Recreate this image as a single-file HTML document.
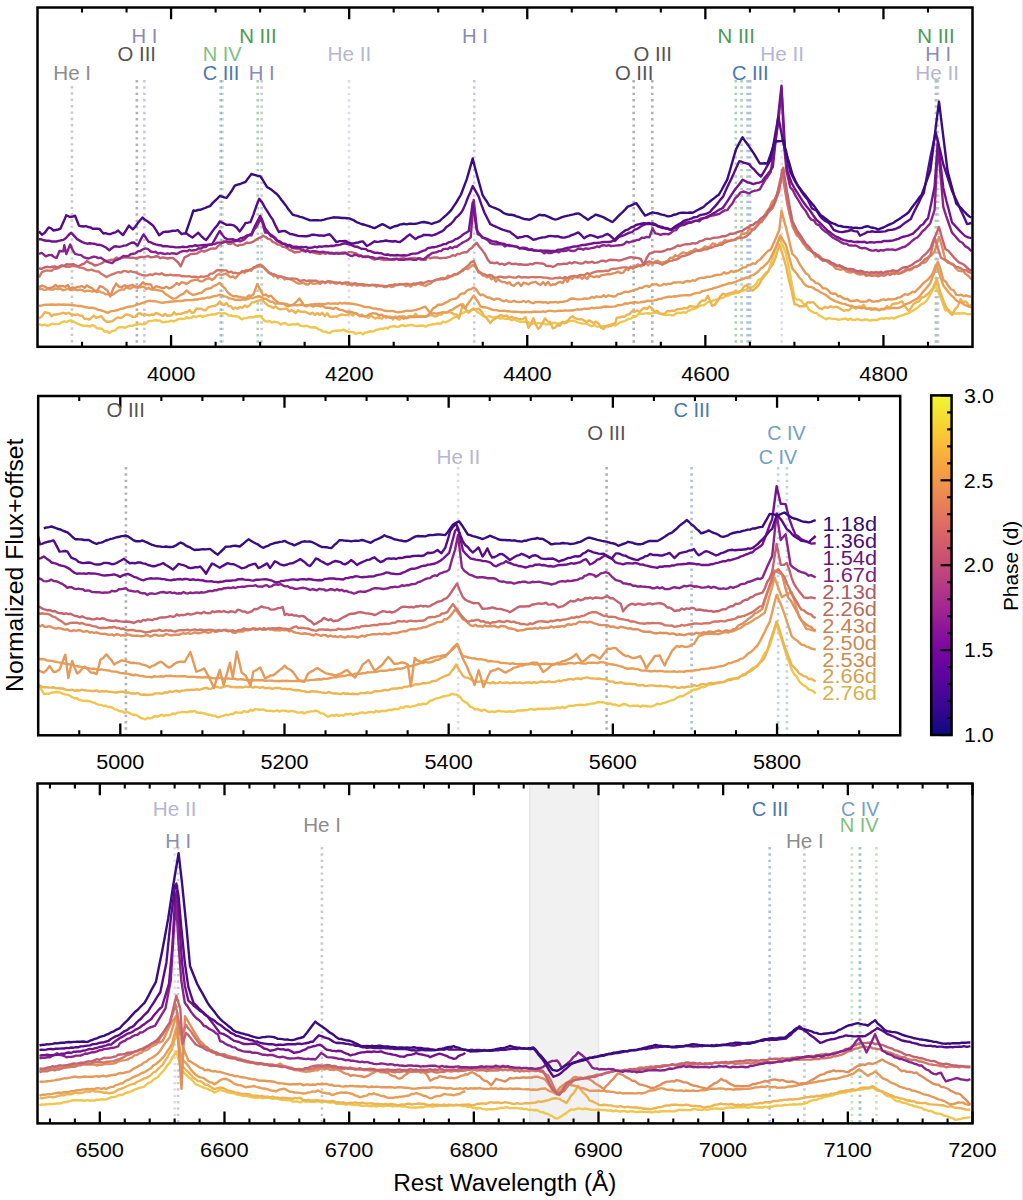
<!DOCTYPE html>
<html><head><meta charset="utf-8"><style>
html,body{margin:0;padding:0;background:#fff;}
svg{display:block;font-family:"Liberation Sans",sans-serif;}
</style></head><body>
<svg width="1023" height="1200" viewBox="0 0 1023 1200">
<rect x="0" y="0" width="1023" height="1200" fill="#fff"/>
<rect x="1022" y="0" width="1" height="1200" fill="#ededed"/>
<rect x="529.9" y="783.5" width="68.6" height="339.9" fill="#f1f1f1" stroke="#e6e6e6" stroke-width="1.6"/>
<line x1="71.92" y1="86.0" x2="71.92" y2="346.8" stroke="#8c8c8c" stroke-width="2.6" stroke-dasharray="2.4 3.95" opacity="0.45"/>
<line x1="136.87" y1="80.0" x2="136.87" y2="346.8" stroke="#555555" stroke-width="2.6" stroke-dasharray="2.4 3.95" opacity="0.45"/>
<line x1="144.42" y1="80.0" x2="144.42" y2="346.8" stroke="#8a8ab6" stroke-width="2.6" stroke-dasharray="2.4 3.95" opacity="0.45"/>
<line x1="222.51" y1="80.0" x2="222.51" y2="346.8" stroke="#80c07c" stroke-width="2.6" stroke-dasharray="2.4 3.95" opacity="0.45"/>
<line x1="220.76" y1="80.0" x2="220.76" y2="346.8" stroke="#4878b0" stroke-width="2.6" stroke-dasharray="2.4 3.95" opacity="0.45"/>
<line x1="257.74" y1="80.0" x2="257.74" y2="346.8" stroke="#4a9a52" stroke-width="2.6" stroke-dasharray="2.4 3.95" opacity="0.45"/>
<line x1="261.67" y1="80.0" x2="261.67" y2="346.8" stroke="#8a8ab6" stroke-width="2.6" stroke-dasharray="2.4 3.95" opacity="0.45"/>
<line x1="349.02" y1="80.0" x2="349.02" y2="346.8" stroke="#b6b6d2" stroke-width="2.6" stroke-dasharray="2.4 3.95" opacity="0.45"/>
<line x1="474.25" y1="80.0" x2="474.25" y2="346.8" stroke="#8a8ab6" stroke-width="2.6" stroke-dasharray="2.4 3.95" opacity="0.45"/>
<line x1="633.67" y1="80.0" x2="633.67" y2="346.8" stroke="#555555" stroke-width="2.6" stroke-dasharray="2.4 3.95" opacity="0.45"/>
<line x1="652.28" y1="80.0" x2="652.28" y2="346.8" stroke="#555555" stroke-width="2.6" stroke-dasharray="2.4 3.95" opacity="0.45"/>
<line x1="735.76" y1="80.0" x2="735.76" y2="346.8" stroke="#4a9a52" stroke-width="2.6" stroke-dasharray="2.4 3.95" opacity="0.45"/>
<line x1="741.55" y1="80.0" x2="741.55" y2="346.8" stroke="#4a9a52" stroke-width="2.6" stroke-dasharray="2.4 3.95" opacity="0.45"/>
<line x1="747.58" y1="80.0" x2="747.58" y2="346.8" stroke="#4878b0" stroke-width="2.6" stroke-dasharray="2.4 3.95" opacity="0.45"/>
<line x1="750.10" y1="80.0" x2="750.10" y2="346.8" stroke="#4878b0" stroke-width="2.6" stroke-dasharray="2.4 3.95" opacity="0.45"/>
<line x1="781.68" y1="80.0" x2="781.68" y2="346.8" stroke="#b6b6d2" stroke-width="2.6" stroke-dasharray="2.4 3.95" opacity="0.45"/>
<line x1="935.83" y1="80.0" x2="935.83" y2="346.8" stroke="#4a9a52" stroke-width="2.6" stroke-dasharray="2.4 3.95" opacity="0.45"/>
<line x1="938.07" y1="80.0" x2="938.07" y2="346.8" stroke="#8a8ab6" stroke-width="2.6" stroke-dasharray="2.4 3.95" opacity="0.45"/>
<line x1="936.28" y1="80.0" x2="936.28" y2="346.8" stroke="#b6b6d2" stroke-width="2.6" stroke-dasharray="2.4 3.95" opacity="0.45"/>
<line x1="125.91" y1="467.0" x2="125.91" y2="735.3" stroke="#555555" stroke-width="2.6" stroke-dasharray="2.4 3.95" opacity="0.45"/>
<line x1="458.13" y1="467.0" x2="458.13" y2="735.3" stroke="#b6b6d2" stroke-width="2.6" stroke-dasharray="2.4 3.95" opacity="0.45"/>
<line x1="606.60" y1="467.0" x2="606.60" y2="735.3" stroke="#555555" stroke-width="2.6" stroke-dasharray="2.4 3.95" opacity="0.45"/>
<line x1="691.61" y1="467.0" x2="691.61" y2="735.3" stroke="#4878b0" stroke-width="2.6" stroke-dasharray="2.4 3.95" opacity="0.45"/>
<line x1="778.15" y1="467.0" x2="778.15" y2="735.3" stroke="#74a0c4" stroke-width="2.6" stroke-dasharray="2.4 3.95" opacity="0.45"/>
<line x1="786.89" y1="467.0" x2="786.89" y2="735.3" stroke="#74a0c4" stroke-width="2.6" stroke-dasharray="2.4 3.95" opacity="0.45"/>
<line x1="174.76" y1="847.0" x2="174.76" y2="1123.4" stroke="#b6b6d2" stroke-width="2.6" stroke-dasharray="2.4 3.95" opacity="0.45"/>
<line x1="178.11" y1="847.0" x2="178.11" y2="1123.4" stroke="#8a8ab6" stroke-width="2.6" stroke-dasharray="2.4 3.95" opacity="0.45"/>
<line x1="321.93" y1="847.0" x2="321.93" y2="1123.4" stroke="#8c8c8c" stroke-width="2.6" stroke-dasharray="2.4 3.95" opacity="0.45"/>
<line x1="769.61" y1="847.0" x2="769.61" y2="1123.4" stroke="#4878b0" stroke-width="2.6" stroke-dasharray="2.4 3.95" opacity="0.45"/>
<line x1="804.44" y1="847.0" x2="804.44" y2="1123.4" stroke="#8c8c8c" stroke-width="2.6" stroke-dasharray="2.4 3.95" opacity="0.45"/>
<line x1="851.87" y1="847.0" x2="851.87" y2="1123.4" stroke="#80c07c" stroke-width="2.6" stroke-dasharray="2.4 3.95" opacity="0.45"/>
<line x1="859.49" y1="847.0" x2="859.49" y2="1123.4" stroke="#80c07c" stroke-width="2.6" stroke-dasharray="2.4 3.95" opacity="0.45"/>
<line x1="860.30" y1="847.0" x2="860.30" y2="1123.4" stroke="#74a0c4" stroke-width="2.6" stroke-dasharray="2.4 3.95" opacity="0.45"/>
<line x1="876.46" y1="847.0" x2="876.46" y2="1123.4" stroke="#80c07c" stroke-width="2.6" stroke-dasharray="2.4 3.95" opacity="0.45"/>
<defs><clipPath id="c1"><rect x="37.5" y="7.5" width="935.0" height="339.3"/></clipPath><clipPath id="c2"><rect x="38.2" y="396.0" width="862.0" height="339.29999999999995"/></clipPath><clipPath id="c3"><rect x="37.5" y="783.5" width="935.0" height="339.9000000000001"/></clipPath></defs><path d="M38.9,324.2L41.9,325.4L44.8,324.7L47.7,325.9L50.1,324.7L52.4,323.7L54.8,324.4L57.1,324.1L59.5,323.8L61.8,322.1L64.2,321.3L66.5,322.1L68.8,320.8L71.2,320.5L73.5,321.6L75.9,322.8L78.2,324.0L80.6,324.8L82.9,325.7L85.3,325.7L87.6,326.0L90.0,326.6L92.3,325.0L94.7,326.2L97.1,328.3L99.5,328.5L102.0,328.7L104.4,331.6L106.9,331.2L109.3,333.1L112.2,331.1L115.2,330.3L118.1,327.5L120.5,327.3L122.8,327.1L125.1,327.8L127.5,326.6L129.8,325.8L132.2,325.8L134.5,325.0L136.9,324.8L139.2,323.7L141.6,324.2L143.9,324.3L146.3,323.2L148.6,321.2L151.0,320.9L153.3,320.6L155.5,320.0L157.8,320.8L160.0,320.4L162.2,322.2L164.5,322.0L166.7,321.7L168.9,321.6L171.2,320.7L173.4,321.4L175.6,320.7L177.9,319.2L180.1,318.6L182.3,318.8L184.6,318.9L186.8,317.1L189.1,318.4L191.3,317.7L193.5,316.3L195.8,317.0L198.0,316.2L200.2,315.6L202.6,316.9L204.9,315.9L207.3,315.5L209.6,314.8L212.0,314.3L214.6,314.6L217.2,313.4L219.8,312.8L222.0,313.8L224.2,313.0L226.5,313.9L228.7,315.6L230.9,315.3L233.2,316.4L235.4,316.2L238.5,316.8L241.6,319.3L244.0,318.4L246.3,318.1L248.7,317.3L251.0,317.1L253.4,317.4L255.7,316.3L257.9,316.5L260.2,315.9L262.7,318.8L265.1,321.1L267.3,321.7L269.6,321.0L271.8,322.6L274.0,321.8L276.3,322.1L278.5,322.5L280.7,324.7L283.2,323.2L285.6,323.2L288.1,324.9L290.5,324.8L293.0,324.1L295.4,324.5L297.8,323.7L300.3,325.7L302.6,326.2L304.9,326.2L307.1,325.7L309.4,327.0L311.7,327.5L314.0,327.3L316.3,327.7L318.5,329.3L320.8,329.9L323.1,331.5L325.4,331.6L327.7,332.6L329.9,333.0L332.1,331.4L334.4,330.9L336.6,330.7L338.8,330.5L341.1,330.6L343.3,329.6L345.9,330.9L348.5,332.0L351.1,331.9L353.5,332.2L355.8,333.9L358.2,333.2L360.5,332.6L362.9,334.4L365.1,332.5L367.3,332.4L369.6,331.3L371.8,331.5L374.0,331.3L376.3,329.8L378.5,329.3L380.7,328.7L383.0,329.1L385.2,327.8L387.4,328.7L389.7,326.8L391.9,326.6L394.1,325.9L396.4,326.9L398.6,326.9L400.8,325.4L403.1,325.3L405.3,326.2L407.5,325.5L409.8,325.1L412.0,324.8L414.2,325.6L416.5,326.0L418.7,325.8L420.9,325.8L423.2,325.5L425.4,326.7L427.9,325.4L430.5,324.7L433.0,324.3L435.6,324.0L438.0,323.3L440.4,324.0L442.9,321.7L445.3,322.3L447.8,321.3L450.2,320.1L452.7,318.2L455.1,316.9L457.4,316.7L459.7,314.6L462.1,313.3L464.4,312.2L466.7,311.3L469.0,311.1L471.4,310.2L473.7,308.3L476.6,311.5L479.5,313.2L482.5,315.6L484.7,316.8L486.9,317.1L489.2,316.2L491.4,316.9L493.6,317.6L495.9,316.9L498.1,317.7L500.3,318.5L502.6,318.0L504.8,318.7L507.0,318.6L509.3,318.8L511.5,320.3L513.8,319.4L516.2,320.5L518.6,321.5L521.1,321.9L523.5,321.8L526.0,321.8L528.4,322.1L530.9,324.0L533.3,323.3L535.7,324.0L538.2,322.9L540.6,323.4L543.1,323.1L545.5,324.2L548.0,324.3L550.4,323.8L552.9,323.0L555.3,322.8L557.7,323.7L560.2,323.3L562.6,322.0L565.1,322.3L567.5,320.6L570.0,321.3L572.4,320.6L574.8,321.0L577.3,322.4L579.7,322.9L582.2,323.6L584.6,323.6L587.1,323.8L589.5,325.1L592.0,326.3L594.3,325.0L596.6,326.6L599.0,326.5L601.3,326.2L603.7,326.1L606.0,326.4L608.4,325.1L610.7,326.2L613.1,324.9L615.4,325.6L618.1,323.7L620.7,321.9L623.3,321.5L625.8,320.5L628.3,318.9L630.8,318.6L633.2,316.7L635.7,316.7L638.2,314.4L640.7,313.7L643.1,313.9L645.6,313.4L648.1,313.2L650.6,313.7L653.1,313.0L655.5,312.3L658.0,313.2L660.6,313.9L663.2,314.6L665.8,315.0L668.4,314.6L671.0,315.2L673.5,315.3L676.0,313.5L678.4,312.7L680.9,313.1L683.4,312.1L685.9,312.9L688.3,310.9L690.9,309.8L693.5,309.0L696.1,308.3L698.7,306.3L701.3,305.4L703.8,305.3L706.3,303.4L708.8,301.6L711.2,302.2L713.7,300.0L716.2,300.0L718.7,298.6L721.2,298.2L723.6,297.6L726.1,296.0L728.6,295.5L731.1,294.2L733.5,293.8L736.0,293.2L738.5,292.6L741.0,291.2L743.4,290.5L745.9,289.8L748.4,287.7L750.9,287.3L753.3,286.7L755.9,284.3L758.4,279.9L760.9,278.8L763.5,275.7L766.0,272.5L768.5,271.5L771.2,262.6L773.9,254.8L776.6,245.7L779.3,237.6L782.6,245.3L785.8,253.3L788.7,266.9L791.6,282.5L794.5,297.6L796.8,299.4L799.1,299.6L801.4,300.9L803.7,303.8L806.0,304.9L809.0,309.9L811.5,311.3L813.9,312.8L816.4,312.9L818.9,315.3L821.4,316.4L823.8,318.0L826.3,319.2L828.7,318.1L831.1,318.6L833.5,318.9L836.0,318.9L838.4,319.8L840.8,319.4L843.2,318.9L845.6,318.5L848.0,319.9L850.4,318.6L852.8,320.0L855.2,319.9L857.6,318.9L860.0,319.8L862.4,320.3L864.8,319.5L867.2,319.5L869.6,320.7L872.1,320.0L874.5,320.0L876.9,320.1L879.3,318.9L881.7,318.4L884.1,318.8L886.5,317.9L888.9,318.6L891.3,317.6L893.8,318.6L896.3,317.3L898.7,316.4L901.2,315.7L903.7,314.8L906.2,313.8L908.6,313.1L911.1,311.6L913.6,310.4L916.1,308.8L918.5,306.8L921.0,304.3L923.5,303.3L926.0,301.4L928.4,298.0L930.8,293.4L933.3,288.8L935.7,285.8L938.1,291.8L940.6,297.2L943.0,304.0L945.5,310.5L948.2,309.7L950.9,312.2L953.6,313.5L956.3,313.5L958.8,313.3L961.3,313.5L963.9,313.2L966.4,313.9L968.9,314.4L971.4,313.9" fill="none" stroke="#efc64e" stroke-width="2.4" stroke-linejoin="round" clip-path="url(#c1)"/>
<path d="M38.9,318.4L41.9,316.3L44.8,312.1L47.1,312.8L49.4,313.2L51.6,316.3L54.0,314.4L56.3,314.5L58.7,314.0L61.0,313.4L63.4,312.7L65.7,313.9L68.1,312.7L70.4,313.8L72.8,314.7L75.1,314.8L77.4,314.3L79.8,315.5L82.1,315.7L84.5,318.8L86.8,318.8L89.2,319.5L91.5,317.7L93.9,315.7L96.2,317.9L98.6,317.1L101.2,316.1L103.9,319.6L106.6,321.8L109.3,321.7L112.2,321.2L115.2,319.0L118.1,317.3L120.6,318.1L123.0,317.0L125.4,314.7L127.9,314.5L130.3,315.4L132.8,316.8L135.2,316.9L137.7,313.7L140.0,313.3L142.4,314.9L144.7,314.0L147.0,315.0L149.4,315.3L151.6,314.5L153.9,314.7L156.1,312.9L158.3,313.9L160.6,315.0L162.8,316.0L165.0,314.0L167.3,315.8L169.5,315.5L171.7,315.2L174.0,312.3L176.2,314.5L178.4,313.9L180.7,313.7L182.9,313.3L185.1,312.2L187.4,312.2L189.6,310.1L191.8,312.8L194.1,312.3L196.3,308.8L198.7,308.6L201.0,308.8L203.4,310.0L205.7,310.3L208.0,307.4L210.4,306.6L212.7,306.1L215.1,305.8L217.4,304.4L219.8,301.5L222.0,304.5L224.2,305.1L226.5,302.9L228.7,306.3L230.9,306.3L233.2,309.0L235.4,307.5L237.7,308.8L240.1,306.9L242.4,307.9L244.8,305.4L247.1,307.0L249.5,305.4L251.9,302.4L254.3,302.2L256.8,301.1L259.2,300.5L261.6,299.9L263.9,301.8L266.3,304.0L268.6,305.9L271.0,306.5L273.2,308.0L275.5,306.3L277.8,308.4L280.1,309.3L282.4,309.1L284.7,308.6L286.9,308.7L289.1,311.4L291.4,310.2L293.6,311.4L295.8,312.9L298.1,310.2L300.3,311.8L302.7,311.7L305.2,311.7L307.6,312.9L310.1,314.1L312.5,312.7L315.0,315.0L317.4,312.9L319.8,315.0L322.3,312.7L324.7,316.0L327.2,313.3L329.6,316.7L332.1,316.8L334.5,316.5L336.9,316.6L339.4,315.3L341.6,314.5L343.9,314.9L346.1,315.1L348.3,314.2L350.6,313.8L352.8,315.6L355.0,313.0L357.3,313.7L359.5,316.3L361.7,314.4L364.0,315.9L366.2,316.4L368.4,318.0L370.7,315.6L372.9,317.0L375.1,318.6L377.4,317.7L379.6,318.1L381.8,318.7L384.1,316.1L386.3,318.1L388.5,316.7L390.8,316.8L393.0,319.6L395.3,316.2L397.5,319.1L399.7,319.6L402.0,316.4L404.2,316.2L406.5,318.4L408.8,315.9L411.1,315.9L413.4,316.9L415.6,313.7L418.1,316.4L420.5,316.0L423.0,316.3L425.4,316.6L428.5,315.5L431.6,315.0L434.1,316.3L436.5,316.3L439.0,314.8L441.4,314.5L443.9,312.4L446.3,312.6L448.7,312.1L451.2,312.6L453.8,314.2L456.4,314.4L459.0,318.5L462.9,304.1L465.9,309.4L468.8,312.7L471.4,309.9L474.0,309.1L476.6,309.5L479.0,308.7L481.5,311.4L483.9,315.6L486.4,317.7L490.3,323.0L492.7,320.1L495.2,318.8L497.6,317.1L500.1,315.2L502.3,315.6L504.6,316.1L506.9,315.5L509.2,318.2L511.5,316.7L513.8,318.1L516.1,318.0L518.4,319.0L520.8,319.2L523.1,318.9L525.5,317.1L528.4,327.8L530.9,324.4L533.3,318.3L535.7,324.2L538.2,329.0L540.5,326.8L542.8,322.3L545.0,318.4L547.6,321.3L550.2,322.2L552.9,328.4L555.2,327.5L557.5,325.0L559.9,325.8L562.2,322.0L564.6,323.3L567.2,322.4L569.8,318.0L572.4,316.3L574.7,318.0L577.1,319.0L579.4,319.4L581.8,319.3L584.1,320.6L586.5,322.1L588.8,320.4L591.2,321.6L593.5,323.2L595.9,321.6L598.5,323.5L601.1,327.7L603.7,329.0L606.0,326.0L608.4,326.6L610.7,324.6L613.1,323.9L615.4,323.0L616.8,317.6L619.4,317.5L621.9,316.7L624.4,316.8L626.9,314.9L629.5,314.1L632.0,311.2L634.5,312.0L637.0,310.4L639.4,312.1L641.9,309.5L644.4,307.7L646.9,309.1L649.3,306.5L651.9,308.4L654.5,311.8L657.1,310.9L659.7,313.4L662.3,314.0L664.8,313.7L667.3,311.0L669.8,311.4L672.2,310.7L674.7,310.7L677.2,309.2L679.7,309.1L682.1,308.8L684.6,307.9L687.1,308.4L689.6,306.1L692.1,306.3L694.5,306.8L697.0,306.8L699.7,302.5L702.4,300.5L705.1,300.5L707.8,295.7L712.2,306.0L714.9,304.7L717.6,300.8L720.3,296.4L723.0,293.6L725.6,294.9L728.2,293.6L730.8,292.9L733.4,292.1L736.0,291.2L738.7,291.8L741.4,290.7L744.1,286.3L746.8,285.2L749.7,288.5L752.6,290.5L755.5,288.4L758.4,285.7L761.3,280.2L764.2,276.2L767.1,273.0L770.0,267.9L772.8,264.3L776.1,256.2L779.3,244.2L782.6,254.4L785.8,265.3L788.7,279.0L791.6,290.4L794.5,304.3L797.1,304.6L799.6,306.5L802.1,306.1L804.7,306.4L807.6,302.3L810.4,302.6L813.3,302.1L816.2,305.2L819.1,308.2L822.0,309.2L824.9,306.8L827.8,308.0L830.7,306.3L833.3,307.4L835.9,306.6L838.5,307.5L841.1,309.3L843.7,310.8L846.1,310.1L848.6,310.3L851.1,308.1L853.6,307.0L856.0,308.7L858.5,306.5L861.0,307.0L863.6,304.8L866.2,308.7L868.8,308.7L871.4,309.9L874.0,308.4L876.6,308.4L879.2,310.4L881.8,308.6L884.4,309.4L887.0,305.9L889.5,308.1L892.0,304.3L894.6,303.5L897.1,303.5L899.6,302.4L902.1,301.3L905.4,307.0L908.6,310.8L911.2,307.7L913.8,303.7L916.4,302.2L919.0,301.3L921.6,297.5L924.3,296.8L927.0,294.5L929.8,292.1L932.5,288.7L936.8,279.2L940.0,291.2L943.3,300.4L946.2,307.3L949.1,312.0L952.0,315.0L954.8,309.6L957.7,306.3L960.6,299.1L963.3,302.0L966.0,301.4L968.7,305.1L971.4,305.3" fill="none" stroke="#ecb452" stroke-width="2.4" stroke-linejoin="round" clip-path="url(#c1)"/>
<path d="M38.9,305.7L41.5,305.6L44.0,304.9L46.6,304.7L49.1,304.8L51.6,304.5L54.1,304.8L56.5,304.8L59.0,304.4L61.4,304.8L63.9,304.5L66.3,304.7L68.7,304.7L71.2,305.0L73.6,305.2L76.1,305.6L78.5,306.0L81.0,305.9L83.4,306.7L85.9,307.2L88.3,307.7L90.7,307.6L93.3,308.0L95.8,308.7L98.3,309.9L100.8,310.3L103.3,311.0L105.8,312.2L108.3,312.7L110.8,311.3L113.2,310.9L115.7,310.5L118.1,310.0L120.6,308.7L123.0,308.5L125.4,307.7L127.9,306.8L130.3,306.5L132.8,306.2L135.2,305.4L137.7,304.4L140.0,303.8L142.4,302.9L144.7,302.0L147.0,301.3L149.4,300.8L151.7,301.0L154.0,301.2L156.2,301.4L158.5,302.1L160.8,302.6L163.1,302.7L165.5,302.3L168.0,302.0L170.4,301.7L172.9,301.5L175.3,301.3L177.7,301.1L180.2,301.0L182.6,300.7L185.1,300.3L187.5,300.1L190.0,300.1L192.4,300.1L194.8,299.5L197.3,299.5L199.7,298.9L202.2,298.5L204.7,298.5L207.2,297.5L209.7,297.6L212.2,296.6L214.7,296.0L217.3,295.6L219.8,294.5L222.0,295.4L224.2,296.4L226.5,296.6L228.7,298.2L230.9,298.6L233.2,299.2L235.4,299.9L237.9,299.7L240.5,300.0L243.0,299.3L245.6,299.7L247.8,299.2L250.1,297.9L252.4,298.1L254.7,297.4L257.0,296.6L259.2,296.1L261.5,297.3L263.7,298.7L265.9,298.8L268.2,300.3L270.4,301.7L272.6,301.8L274.9,303.6L277.3,303.5L279.8,303.5L282.2,303.7L284.7,303.8L287.1,304.1L289.5,305.0L292.0,305.4L294.4,304.9L296.8,305.4L299.2,305.0L301.6,304.5L304.0,305.0L306.4,305.1L308.8,305.0L311.2,304.4L313.5,304.2L315.9,303.9L318.4,303.9L320.8,304.0L323.3,304.1L325.7,304.1L328.2,303.2L330.6,303.8L333.0,303.4L335.5,303.5L337.8,303.7L340.0,302.8L342.3,303.6L344.6,303.0L346.9,303.5L349.2,303.3L351.7,303.7L354.2,304.1L356.7,304.6L359.2,305.1L361.7,305.8L364.2,306.9L366.8,307.0L369.0,307.1L371.2,307.9L373.5,308.6L375.7,308.5L377.9,309.3L380.2,309.3L382.4,309.9L384.6,310.8L386.9,311.0L389.1,311.1L391.3,310.9L393.6,311.1L395.8,311.9L398.0,312.2L400.3,312.1L402.5,311.6L404.7,311.2L407.0,310.6L409.2,310.9L411.4,310.7L413.7,310.4L416.0,309.9L418.4,309.1L420.7,308.4L423.1,307.4L425.4,306.7L428.5,310.8L431.6,313.6L433.9,313.2L436.1,313.7L438.3,313.1L440.6,312.8L442.8,312.2L445.0,312.4L447.3,312.3L449.6,310.7L451.8,309.9L454.1,308.4L456.4,306.9L458.7,305.8L461.0,304.4L464.9,308.5L467.8,304.0L470.7,299.9L473.7,295.6L476.0,299.0L478.2,302.2L480.5,306.3L482.8,307.2L485.1,307.2L487.4,307.9L489.6,308.6L491.9,309.7L494.2,310.1L496.6,310.1L499.1,310.9L501.5,310.9L504.0,310.6L506.4,311.2L508.9,311.2L511.3,311.6L513.8,311.7L516.2,311.8L518.6,311.9L521.1,312.3L523.5,312.3L526.0,312.0L528.4,312.1L530.9,312.2L533.3,311.8L535.7,311.8L538.2,311.6L540.6,311.9L543.1,311.4L545.5,311.9L548.0,310.9L550.4,310.8L552.9,311.1L555.3,311.4L557.7,310.9L560.2,310.7L562.6,310.9L565.1,310.4L567.5,310.6L570.0,310.5L572.4,310.5L574.8,309.9L577.3,309.3L579.7,309.6L582.2,309.3L584.6,308.7L587.1,308.8L589.5,308.7L592.0,307.7L594.3,308.3L596.6,307.6L599.0,307.8L601.3,307.5L603.7,306.7L606.0,306.5L608.4,306.7L610.7,306.9L613.1,306.6L615.4,306.4L617.9,305.2L620.3,305.0L622.8,304.6L625.2,303.3L627.7,303.7L630.1,302.8L632.5,302.7L634.9,302.0L637.3,302.7L639.7,302.4L642.1,302.0L644.5,301.8L646.9,300.8L649.3,301.0L651.7,300.7L654.2,300.4L656.6,299.9L659.0,298.9L661.4,298.7L663.8,297.9L666.2,297.2L668.6,296.8L671.0,296.8L673.4,296.3L675.8,296.5L678.2,295.9L680.6,295.5L683.0,295.4L685.5,295.1L687.9,295.3L690.3,295.2L692.7,294.2L695.1,293.4L697.5,292.9L699.9,292.6L702.3,291.2L704.7,290.7L707.1,290.2L709.5,289.4L711.9,288.9L714.3,287.9L716.7,287.3L719.2,286.6L721.6,285.5L724.0,285.0L726.4,284.1L728.8,283.3L731.2,283.3L733.6,282.4L736.0,281.7L738.5,280.6L741.0,279.7L743.4,278.9L745.9,277.7L748.4,277.2L750.9,275.6L753.3,274.9L755.9,273.2L758.4,271.2L760.9,268.5L763.5,266.7L766.0,264.1L768.5,261.7L771.4,256.5L774.3,250.2L777.2,244.3L780.4,235.6L783.1,240.3L785.8,244.7L789.1,256.7L792.3,268.5L794.6,271.3L796.9,273.8L799.2,277.5L801.4,279.6L803.7,283.4L806.0,285.7L808.4,286.7L810.9,286.9L813.3,287.8L815.7,289.7L818.1,290.6L820.5,292.4L823.0,293.5L825.4,294.7L827.8,296.5L830.2,298.5L832.6,299.9L835.0,301.1L837.4,301.9L839.8,302.8L842.2,303.6L844.6,303.9L847.0,304.9L849.4,305.7L851.8,305.7L854.2,307.1L856.6,307.3L859.1,307.5L861.5,308.3L863.9,307.7L866.3,308.8L868.7,308.3L871.1,308.5L873.5,309.3L875.9,309.1L878.3,309.9L880.7,309.6L883.1,309.4L885.5,308.4L887.9,308.4L890.3,308.4L892.8,307.9L895.2,308.0L897.6,308.1L900.0,307.5L902.4,306.3L904.9,304.5L907.4,303.6L909.9,302.7L912.3,301.3L914.8,299.8L917.3,298.7L919.9,295.9L922.5,292.4L925.1,289.6L927.7,286.4L930.3,283.2L933.5,274.6L936.8,265.9L940.0,275.7L943.3,285.4L945.9,288.8L948.5,292.2L951.1,295.3L953.7,297.4L956.3,300.5L958.8,302.0L961.3,302.6L963.9,304.4L966.4,305.6L968.9,306.5L971.4,307.4" fill="none" stroke="#e69e59" stroke-width="2.4" stroke-linejoin="round" clip-path="url(#c1)"/>
<path d="M38.9,289.0L41.3,288.7L43.7,289.9L46.1,289.7L48.4,289.0L50.8,289.6L53.2,289.6L55.6,288.4L58.0,289.2L60.4,288.5L62.9,290.3L65.3,289.6L67.8,288.7L70.2,290.0L72.7,289.4L75.1,289.6L77.5,290.4L80.0,289.5L82.4,290.1L84.9,291.5L87.3,290.7L89.8,290.9L92.2,291.6L94.7,290.8L96.9,292.2L99.1,291.3L101.4,292.4L103.6,292.9L105.8,294.4L108.1,294.4L110.3,294.6L112.6,294.8L114.9,293.2L117.1,291.5L119.4,290.3L121.7,289.4L124.0,289.5L126.3,287.6L128.5,288.3L130.8,288.7L133.1,286.7L135.4,287.4L137.7,286.6L139.9,287.4L142.1,286.6L144.4,287.2L146.6,289.0L148.8,287.7L151.1,289.6L153.3,289.3L155.6,289.8L158.0,290.2L160.3,290.6L162.7,291.2L165.0,293.7L167.6,295.2L170.2,297.1L172.9,298.6L175.5,298.4L178.1,296.8L180.7,294.9L183.6,293.7L186.5,290.4L189.5,293.0L192.4,294.7L194.7,294.6L197.1,293.9L199.4,293.1L201.8,292.7L204.1,290.6L206.4,289.0L208.6,288.5L210.8,288.2L213.1,286.4L215.3,285.4L217.5,284.3L219.8,282.8L222.4,286.2L225.0,288.4L227.6,292.1L230.7,295.0L233.8,296.3L236.3,296.2L238.7,296.8L241.2,297.2L243.6,297.4L246.0,298.2L248.5,295.5L250.9,296.0L253.4,294.4L257.3,284.0L260.2,289.5L263.1,295.3L265.8,294.5L268.4,296.7L271.0,295.7L273.6,298.7L276.2,301.1L278.8,302.9L281.1,303.1L283.5,303.6L285.8,305.5L288.2,306.4L290.5,305.5L293.4,304.3L296.4,301.8L299.3,298.5L301.8,302.0L304.2,305.6L306.5,306.4L308.8,305.2L311.0,305.7L313.3,306.6L315.6,305.4L317.9,305.8L320.4,306.4L322.9,305.9L325.4,307.8L327.9,307.8L330.5,308.0L333.0,308.9L335.5,307.8L337.7,308.6L340.0,309.9L342.2,310.1L344.4,310.8L346.7,311.8L348.9,311.7L351.1,311.7L353.5,312.9L355.8,313.3L358.2,315.0L360.5,316.0L362.9,316.3L365.2,316.3L367.5,315.6L369.9,314.1L372.2,313.3L374.6,313.4L376.8,313.8L379.1,315.7L381.3,314.5L383.5,315.9L385.8,316.2L388.0,316.9L390.2,317.8L392.5,317.4L394.7,317.5L396.9,317.9L399.2,316.4L401.4,316.9L403.6,318.7L405.9,317.7L408.2,317.6L410.6,317.0L412.9,316.8L415.2,317.0L417.6,316.6L420.2,316.7L422.8,316.9L425.4,316.9L427.9,315.5L430.5,312.3L433.0,308.3L435.6,307.1L438.0,304.6L440.4,304.8L442.9,304.3L445.3,302.7L447.8,301.8L450.2,300.0L452.7,299.0L455.1,298.9L457.4,297.7L459.7,294.8L462.1,293.4L464.4,293.6L466.7,290.7L469.0,289.5L471.4,289.1L473.7,287.4L476.0,289.1L478.2,292.6L480.5,295.3L482.8,294.4L485.1,296.1L487.4,297.5L489.6,297.5L491.9,298.9L494.2,299.8L496.6,298.6L499.1,298.9L501.5,300.3L504.0,301.3L506.4,300.2L508.9,301.8L511.3,301.8L513.8,300.8L516.2,301.7L518.6,302.1L521.1,301.9L523.5,301.0L526.0,302.2L528.4,301.0L530.9,302.6L533.3,303.2L535.7,302.1L538.2,301.9L540.6,302.0L543.1,302.5L545.5,302.1L548.0,303.2L550.4,302.2L552.9,302.4L555.3,301.9L557.7,302.5L560.2,302.0L562.6,301.8L565.1,301.4L567.5,300.8L570.0,299.0L572.4,298.5L574.8,298.8L577.3,299.4L579.7,299.4L582.2,299.1L584.6,298.4L587.1,298.7L589.5,298.4L592.0,296.9L594.3,297.8L596.6,296.4L599.0,296.9L601.3,297.0L603.7,295.3L606.0,297.0L608.4,295.3L610.7,295.8L613.1,296.5L615.4,296.4L617.9,294.1L620.3,293.8L622.8,292.8L625.2,291.6L627.7,292.1L630.1,291.3L632.5,290.6L634.9,289.6L637.3,289.3L639.7,287.7L642.1,287.9L644.5,286.3L646.9,285.8L649.3,286.9L651.7,284.8L654.2,284.4L656.6,284.3L659.0,285.6L661.4,285.4L663.8,283.9L666.2,284.7L668.6,283.7L671.0,283.9L673.4,282.4L675.8,282.5L678.2,282.4L680.6,282.3L683.0,282.9L685.5,281.4L687.9,281.0L690.3,281.5L692.7,280.2L695.1,280.9L697.5,278.9L699.9,278.1L702.3,277.8L704.7,277.9L707.1,276.6L709.5,276.9L711.9,276.3L714.3,275.5L716.7,274.8L719.2,274.9L721.6,274.3L724.0,272.3L726.4,273.6L728.8,272.9L731.2,270.9L733.6,272.1L736.0,270.8L738.4,270.6L740.8,268.9L743.2,267.4L745.6,267.4L748.0,264.9L750.5,264.6L752.9,263.3L755.3,263.9L757.7,261.0L760.3,259.4L762.9,256.4L765.5,253.5L768.1,250.9L770.7,249.6L773.6,243.2L776.5,236.8L779.3,229.9L781.5,210.8L785.8,226.9L789.1,240.3L792.3,254.1L794.6,255.9L796.9,258.8L799.2,263.5L801.4,266.9L803.7,270.2L806.0,273.5L808.4,275.0L810.9,279.4L813.3,280.5L815.8,283.1L818.3,283.4L820.8,285.7L823.2,288.4L825.7,288.4L828.2,290.3L830.7,293.1L833.1,293.8L835.5,293.5L837.9,296.3L840.3,296.0L842.7,297.9L845.1,299.1L847.5,298.8L849.9,301.0L852.3,301.0L854.7,300.8L857.1,300.0L859.5,301.4L861.9,301.7L864.4,301.6L866.8,301.6L869.2,299.8L871.6,301.3L874.0,301.7L876.4,301.2L878.8,301.3L881.2,299.9L883.6,299.3L886.0,300.1L888.4,299.0L890.8,299.5L893.2,299.3L895.6,298.9L898.0,297.6L900.5,297.2L902.9,295.6L905.3,294.0L907.7,294.9L910.1,293.5L912.5,291.7L914.9,292.1L917.3,289.7L919.9,287.1L922.5,284.1L925.1,281.7L927.7,279.8L930.3,276.9L932.8,273.1L935.3,266.6L937.9,261.8L940.6,269.7L943.3,279.9L945.9,281.7L948.5,286.3L951.1,289.4L953.7,290.3L956.3,294.9L958.8,295.1L961.3,294.7L963.9,296.2L966.4,295.4L968.9,296.5L971.4,296.6" fill="none" stroke="#e49a5a" stroke-width="2.4" stroke-linejoin="round" clip-path="url(#c1)"/>
<path d="M38.9,287.1L41.9,285.6L44.8,286.6L47.7,288.2L50.3,288.0L52.9,287.2L55.6,285.0L58.0,286.9L60.4,285.9L62.9,286.1L65.3,286.8L67.8,285.0L70.2,288.9L72.7,287.4L75.1,288.1L77.4,286.9L79.8,286.6L82.1,286.1L84.5,287.9L86.8,285.4L89.4,287.2L92.0,288.2L94.7,290.8L97.3,290.4L99.9,286.2L102.5,286.9L105.1,288.9L107.7,290.9L110.3,296.6L113.2,288.7L116.2,283.6L119.1,286.7L122.0,287.1L124.6,285.3L127.2,286.5L129.8,285.6L132.4,284.8L135.1,286.2L137.7,287.9L140.3,285.2L142.9,282.3L145.5,284.2L148.1,284.2L150.7,284.4L153.3,289.0L155.9,286.2L158.5,286.9L161.1,287.7L163.7,288.2L166.3,286.7L168.9,288.3L171.5,287.6L174.2,285.8L176.8,283.0L179.1,284.8L181.5,282.2L183.8,282.6L186.1,284.1L188.5,282.7L190.8,280.9L193.2,280.3L195.5,279.7L197.9,279.9L200.2,281.4L202.6,281.4L204.9,279.7L207.3,278.6L209.6,278.2L212.0,279.9L214.3,278.5L216.6,275.5L219.0,274.0L221.3,275.2L223.7,274.3L226.0,273.5L228.4,275.7L230.7,277.2L233.1,276.5L235.4,278.2L237.7,275.6L240.0,273.1L242.2,270.9L244.5,272.9L246.7,270.0L249.0,270.2L251.2,270.8L253.5,267.2L255.7,267.5L258.0,266.5L260.2,266.3L263.1,267.0L266.1,270.2L269.0,273.1L271.2,273.0L273.5,276.4L275.7,275.1L277.9,278.2L280.2,276.4L282.4,276.9L284.7,279.5L287.0,278.4L289.3,278.7L291.7,279.8L294.0,281.1L296.4,282.7L298.7,283.6L301.1,283.2L303.4,282.8L305.8,284.2L308.1,284.6L310.6,282.4L313.0,283.8L315.4,283.6L317.9,283.1L320.3,283.8L322.8,281.4L325.2,283.2L327.7,281.0L330.1,283.2L332.5,281.9L335.0,283.5L337.4,283.5L339.9,282.3L342.3,284.2L344.8,283.3L347.2,284.8L349.7,284.3L352.1,285.6L354.5,283.8L357.0,285.7L359.4,284.9L361.9,285.3L364.3,285.9L366.8,285.0L369.2,285.8L371.7,285.1L374.1,285.1L376.5,286.8L379.0,285.5L381.4,285.9L383.9,287.0L386.3,287.0L388.8,285.7L391.2,287.0L393.6,286.6L396.1,284.5L398.5,285.1L401.0,284.0L403.4,284.6L405.9,286.2L408.3,285.1L410.8,286.7L413.2,284.4L415.6,285.0L418.1,283.3L420.5,284.5L423.0,285.1L425.4,286.0L427.9,284.3L430.5,283.7L433.0,281.1L435.6,279.9L438.0,279.3L440.4,279.6L442.9,277.8L445.3,278.8L447.8,275.7L450.2,276.6L452.7,276.0L455.1,274.5L457.6,274.3L460.1,272.6L462.6,269.4L465.2,268.4L467.7,269.2L470.2,267.1L472.7,264.8L475.1,266.8L477.6,270.3L480.0,272.2L482.5,275.6L484.7,275.6L486.9,277.4L489.2,276.2L491.4,279.2L493.6,277.7L495.9,281.6L498.1,279.2L500.3,281.0L502.6,282.1L504.8,282.1L507.0,283.6L509.3,282.2L511.5,285.0L513.8,285.9L516.2,283.7L518.6,282.6L521.1,286.1L523.5,282.7L526.0,283.3L528.4,284.4L530.9,282.8L533.3,282.3L535.7,281.8L538.2,284.0L540.6,284.9L543.1,282.1L545.5,285.1L548.0,281.9L550.4,285.4L552.9,284.3L555.3,284.6L557.7,282.7L560.2,281.8L562.6,283.1L565.1,278.9L567.5,281.8L570.0,277.7L572.4,278.8L574.8,276.7L577.3,277.7L579.7,276.8L582.2,278.8L584.6,276.7L587.1,279.0L589.5,275.5L592.0,276.5L594.3,277.1L596.6,276.2L599.0,277.0L601.3,275.2L603.7,274.9L606.0,274.5L608.4,274.1L610.7,274.2L613.1,273.4L615.4,272.9L618.1,271.6L620.7,273.1L623.3,272.6L625.8,269.0L628.3,270.2L630.8,266.5L633.2,268.8L635.7,265.9L638.2,264.4L640.7,266.5L643.1,265.2L645.6,263.1L648.1,265.3L650.6,262.9L653.1,264.0L655.5,261.1L658.0,260.6L660.5,262.5L663.0,262.1L665.4,261.6L667.9,260.6L670.4,257.6L672.9,257.9L675.3,255.3L677.8,256.5L680.3,254.2L682.8,252.4L685.2,252.9L687.7,253.2L690.2,251.4L692.7,251.0L695.2,248.9L697.6,250.3L700.1,249.9L702.6,248.5L705.1,246.5L707.5,247.1L710.0,246.7L712.5,243.4L715.0,244.0L717.4,245.8L719.9,242.7L722.4,242.8L724.9,240.2L727.3,240.8L729.8,240.6L732.3,240.4L734.8,239.7L737.2,237.8L739.7,237.3L742.2,233.5L744.7,233.7L747.2,232.7L749.6,228.4L752.1,229.4L754.6,228.1L757.1,224.5L759.5,222.3L762.0,221.5L764.5,215.1L767.1,211.0L769.6,208.0L772.1,201.5L774.7,199.0L777.2,194.2L779.8,181.2L782.4,173.2L784.9,185.3L788.2,207.6L792.5,226.4L796.8,235.5L799.4,237.3L801.9,240.9L804.4,244.8L807.3,249.2L810.2,250.5L813.1,252.9L815.5,256.9L818.0,254.8L820.4,256.7L822.8,261.0L825.4,260.5L828.0,261.9L830.6,264.0L833.2,265.6L835.8,268.6L838.4,269.3L841.0,269.7L843.6,268.9L846.2,271.3L848.8,272.4L851.1,272.6L853.3,271.3L855.5,272.9L857.8,274.2L860.0,274.7L861.0,272.2L863.4,273.0L865.8,275.9L868.2,275.4L870.6,274.5L873.0,272.7L875.4,273.0L877.8,273.8L880.2,273.5L882.6,273.7L885.0,275.6L887.5,272.4L889.9,275.1L892.3,271.3L894.7,274.2L897.1,271.6L899.5,273.1L901.9,271.8L904.3,270.6L906.8,267.8L909.3,270.5L911.7,269.5L914.2,266.7L916.7,266.7L919.2,265.2L921.6,262.6L924.2,263.1L926.8,261.0L929.4,256.4L932.0,254.8L934.6,251.6L939.0,237.0L942.2,247.0L945.5,260.7L948.0,262.9L950.5,263.1L953.0,263.8L955.6,268.0L958.1,270.5L960.6,271.0L963.3,271.4L966.0,274.1L968.7,276.2L971.4,279.3" fill="none" stroke="#df8f5e" stroke-width="2.4" stroke-linejoin="round" clip-path="url(#c1)"/>
<path d="M38.9,277.3L41.9,272.2L44.3,271.1L46.8,270.4L49.2,270.6L51.6,270.8L54.0,268.9L56.3,268.7L58.7,268.0L61.0,266.7L63.4,265.8L65.7,266.7L68.1,266.6L70.4,266.7L72.8,265.9L75.1,266.2L77.4,266.6L79.8,267.6L82.1,267.9L84.5,268.6L86.8,270.0L89.2,270.2L91.5,269.7L93.9,270.7L96.2,271.4L98.6,271.5L101.2,273.8L103.8,275.3L106.4,277.1L109.0,275.8L111.6,274.5L114.2,273.7L116.5,272.7L118.9,272.2L121.2,272.6L123.6,270.9L125.9,271.1L128.3,272.1L130.6,271.2L133.0,272.1L135.3,272.3L137.7,273.5L140.3,274.4L142.9,275.3L145.5,275.5L147.8,275.2L150.2,274.3L152.5,275.0L154.9,273.6L157.2,273.8L159.4,274.4L161.7,273.2L163.9,274.8L166.1,275.2L168.4,275.1L170.6,274.7L172.9,275.4L175.2,275.2L177.5,275.1L179.9,275.4L182.2,276.3L184.6,276.3L186.9,276.4L189.3,276.1L191.6,277.0L194.0,276.8L196.3,276.9L198.7,277.5L201.0,276.4L203.4,276.9L205.7,276.3L208.0,275.8L210.4,273.6L212.7,273.6L215.1,271.8L217.4,270.0L219.8,270.3L222.0,270.3L224.2,270.4L226.5,270.4L228.7,272.5L230.9,271.6L233.2,273.0L235.4,272.8L237.7,273.3L240.1,272.8L242.4,272.2L244.8,270.7L247.1,271.4L249.5,269.8L252.1,268.9L254.8,267.0L257.5,265.6L260.2,264.5L263.1,266.7L266.1,269.7L269.0,272.5L271.2,274.3L273.5,274.1L275.7,275.1L277.9,276.2L280.2,276.5L282.4,277.0L284.7,277.4L287.1,278.7L289.5,279.0L292.0,278.5L294.4,278.6L296.9,278.9L299.3,280.8L301.8,280.7L304.2,280.0L306.6,281.2L309.1,280.5L311.5,280.7L314.0,280.8L316.4,280.7L318.9,282.1L321.3,281.7L323.8,282.1L326.2,282.5L328.6,281.3L331.1,281.5L333.5,282.4L336.0,282.5L338.4,282.8L340.9,283.0L343.3,283.1L345.7,282.4L348.2,282.4L350.6,283.7L353.1,283.6L355.5,283.3L358.0,284.3L360.4,284.2L362.9,284.3L365.3,284.7L367.7,285.0L370.2,285.1L372.6,284.8L375.1,285.0L377.5,285.2L380.0,286.2L382.4,285.6L384.8,286.3L387.3,286.2L389.7,285.1L392.2,285.3L394.6,284.5L397.1,285.2L399.5,284.2L402.0,284.4L404.3,284.1L406.6,283.6L409.0,284.2L411.3,284.5L413.7,283.4L416.0,283.6L418.4,283.1L420.7,282.5L423.1,283.1L425.4,282.3L428.5,281.1L431.6,281.5L433.9,280.8L436.1,279.9L438.3,279.3L440.6,278.3L442.8,279.4L445.0,278.4L447.3,278.4L449.5,276.6L451.7,275.9L454.0,274.2L456.2,274.2L458.5,273.0L460.7,271.4L462.9,270.8L465.6,267.7L468.3,265.5L471.0,262.2L473.7,261.0L476.1,266.6L478.6,272.4L480.8,272.8L483.0,274.0L485.3,274.6L487.5,275.7L489.7,275.0L492.0,275.7L494.2,277.5L496.6,277.6L499.1,276.7L501.5,276.8L504.0,277.5L506.4,277.5L508.9,276.6L511.3,277.1L513.8,277.5L516.2,277.6L518.6,276.2L521.1,277.5L523.5,277.2L526.0,277.3L528.4,277.5L530.9,277.1L533.3,277.1L535.7,277.3L538.2,277.1L540.6,277.1L543.1,277.5L545.5,277.6L548.0,278.0L550.4,278.6L552.9,278.6L555.3,277.9L557.7,278.0L560.2,277.5L562.6,278.4L565.1,277.0L567.5,278.1L570.0,276.6L572.4,276.1L574.8,275.9L577.3,276.6L579.7,275.1L582.2,274.9L584.6,275.1L587.1,273.2L589.5,274.2L592.0,272.9L594.3,272.2L596.6,271.5L599.0,271.2L601.3,271.2L603.7,271.2L606.0,270.7L608.4,271.0L610.7,269.3L613.1,268.7L615.4,268.9L619.0,268.1L621.4,267.6L623.9,267.4L626.3,267.4L628.8,267.9L631.2,267.4L633.6,267.3L636.1,266.8L638.5,265.8L641.2,264.9L643.9,264.6L646.6,262.6L649.3,261.3L651.9,262.4L654.5,262.6L657.1,262.7L659.7,263.4L662.3,264.7L664.8,263.3L667.3,262.2L669.8,260.9L672.2,260.6L674.7,259.7L677.2,259.3L679.7,257.8L682.1,256.3L684.6,255.8L687.1,254.9L689.6,254.0L692.1,252.6L694.5,251.6L697.0,250.5L699.5,250.9L702.0,250.4L704.4,249.2L706.9,249.4L709.4,248.1L711.9,247.5L714.3,246.2L716.8,245.7L719.3,245.1L721.8,244.7L724.2,242.8L726.7,241.9L729.2,241.2L731.7,239.9L734.2,240.1L736.7,238.4L739.3,238.1L741.8,237.7L744.3,237.4L746.8,236.2L749.4,233.6L751.9,230.4L754.4,229.1L757.0,226.3L759.5,223.1L762.0,221.0L764.7,217.8L767.4,213.8L770.1,210.6L772.8,207.8L776.1,199.7L779.3,190.8L782.0,169.6L783.8,182.7L787.1,202.7L791.4,220.7L795.8,231.9L798.3,235.4L800.8,239.5L803.3,243.5L806.2,245.5L809.1,248.6L812.0,251.6L814.9,253.7L817.8,255.8L820.7,257.9L823.3,259.5L825.9,260.2L828.5,262.5L831.1,264.0L833.7,265.2L836.3,266.2L838.9,266.1L841.5,267.3L844.1,268.6L846.7,269.2L848.9,270.3L851.1,271.1L853.3,271.4L855.6,272.4L857.8,272.7L860.0,273.3L862.3,274.3L864.6,273.5L866.9,275.1L869.2,274.9L871.4,275.8L873.7,275.5L876.0,275.4L878.3,276.4L880.7,275.1L883.1,275.7L885.5,274.9L887.9,273.9L890.3,274.6L892.8,273.6L895.2,273.1L897.6,273.7L900.0,273.5L902.4,272.6L904.9,271.2L907.4,270.0L909.9,269.2L912.3,268.2L914.8,267.1L917.3,266.2L919.9,264.9L922.5,262.1L925.1,259.1L927.7,257.8L930.3,255.7L934.6,237.6L937.9,248.5L941.1,257.8L943.7,259.3L946.2,260.3L948.7,262.0L951.2,264.1L953.8,265.2L956.3,267.0L958.8,267.5L961.3,268.7L963.9,270.3L966.4,270.3L968.9,272.2L971.4,272.8" fill="none" stroke="#d17768" stroke-width="2.4" stroke-linejoin="round" clip-path="url(#c1)"/>
<path d="M38.9,268.5L41.9,268.7L44.8,267.3L47.7,266.8L50.1,267.3L52.4,266.7L54.8,266.5L57.1,267.3L59.5,266.4L61.8,265.3L64.2,265.9L66.5,264.2L68.8,264.5L71.2,264.4L73.8,264.3L76.4,265.6L79.0,266.2L81.6,264.5L84.2,263.7L86.8,261.1L89.4,262.8L92.0,263.7L94.7,265.5L97.3,265.0L99.9,264.0L102.5,262.9L104.8,261.0L107.2,260.8L109.5,260.2L111.9,259.8L114.2,259.3L116.5,257.5L118.9,258.8L121.2,258.0L123.6,257.5L125.9,257.3L128.3,257.5L130.6,257.7L133.0,257.7L135.3,258.2L137.7,257.8L140.3,257.0L142.9,257.0L145.5,256.7L148.1,256.1L150.7,257.3L153.3,257.1L155.6,256.3L158.0,256.5L160.3,258.2L162.7,257.4L165.0,257.8L167.6,258.5L170.2,258.0L172.9,258.0L175.5,260.1L178.1,262.5L180.7,266.4L184.6,257.3L187.2,256.2L189.8,254.4L192.4,253.9L194.7,253.8L197.1,253.4L199.4,251.8L201.8,250.8L204.1,251.7L206.5,250.6L208.8,249.6L211.2,248.6L213.5,248.4L215.9,248.6L218.5,245.5L221.1,243.9L223.7,241.2L226.0,241.9L228.4,243.8L230.7,244.0L233.1,242.8L235.4,245.0L237.7,245.9L240.0,244.9L242.3,244.9L244.6,244.0L246.9,242.5L249.1,243.1L251.4,242.3L253.8,241.4L256.1,239.6L258.5,238.2L260.8,237.5L263.1,235.7L265.6,237.0L268.0,238.9L270.5,239.4L272.9,242.1L275.3,242.7L277.6,244.6L280.0,244.5L282.3,246.7L284.7,246.9L287.1,248.1L289.5,250.0L292.0,250.8L294.4,252.5L296.9,252.0L299.3,252.0L301.8,250.5L304.2,251.3L306.5,250.0L308.8,251.2L311.0,251.6L313.3,252.6L315.6,253.2L317.9,253.6L320.4,254.0L322.9,252.9L325.4,254.0L327.9,253.0L330.5,252.6L333.0,253.8L335.5,252.9L337.7,252.7L340.0,252.9L342.2,252.5L344.4,252.5L346.7,253.2L348.9,252.1L351.1,252.1L353.5,252.7L355.8,253.1L358.2,254.7L360.5,255.2L362.9,257.2L365.2,256.2L367.5,256.7L369.9,257.3L372.2,258.8L374.6,259.7L377.0,258.9L379.5,258.9L381.9,259.6L384.4,260.0L386.8,259.8L389.2,259.6L391.7,259.4L394.1,260.1L396.6,258.9L399.0,259.0L401.5,258.4L403.9,258.2L406.4,259.4L408.8,258.5L411.2,258.1L413.7,258.0L416.0,258.3L418.4,258.5L420.7,259.7L423.1,259.6L425.4,260.0L427.7,256.5L430.1,258.3L432.4,257.6L434.8,257.4L437.1,257.5L439.5,258.2L441.7,258.1L443.9,257.9L446.2,257.8L448.4,257.2L450.6,256.6L452.9,255.1L455.1,255.8L457.4,254.0L459.8,254.0L462.1,252.8L464.5,252.1L466.8,252.4L469.3,249.6L471.7,248.1L474.2,245.1L476.6,242.8L479.5,247.0L482.5,250.6L485.1,254.4L487.7,259.4L490.3,262.8L492.6,262.8L495.0,263.2L497.3,262.5L499.7,264.4L502.0,263.7L504.4,264.8L506.7,263.8L509.1,262.7L511.4,264.0L513.8,264.0L516.1,263.8L518.4,264.5L520.8,264.3L523.1,264.7L525.5,264.7L527.8,264.8L530.2,263.9L532.5,264.4L534.9,263.1L537.2,262.9L539.4,263.4L541.7,263.5L543.9,263.9L546.1,265.7L548.4,266.0L550.6,266.0L552.9,267.0L555.2,265.9L557.5,264.2L559.9,264.2L562.2,264.0L564.6,263.6L566.9,264.0L569.3,262.4L571.6,263.4L574.0,262.3L576.3,262.4L578.5,263.1L580.8,263.6L583.0,263.2L585.3,261.7L587.5,262.5L589.7,262.5L592.0,261.6L594.3,262.9L596.6,262.6L599.0,262.0L601.3,260.7L603.7,260.8L606.0,261.5L608.4,260.2L610.7,259.8L613.1,260.0L615.4,259.9L619.0,260.6L621.9,259.8L624.8,258.8L627.7,258.0L630.3,257.2L632.9,257.4L635.5,257.7L638.1,258.1L640.7,258.9L643.9,264.9L646.6,258.2L649.3,253.6L651.9,253.0L654.5,251.6L657.1,251.6L659.7,251.8L662.3,251.5L664.9,250.7L667.5,249.3L670.1,249.4L672.7,248.3L675.3,247.1L677.8,245.5L680.3,246.0L682.8,244.8L685.2,244.3L687.7,244.2L690.2,244.0L692.7,243.1L695.2,243.5L697.6,242.8L700.1,241.1L702.6,240.6L705.1,239.2L707.5,238.7L710.0,239.1L712.5,238.0L715.0,237.6L717.4,237.5L719.9,237.1L722.4,236.1L724.9,236.3L727.3,235.4L729.9,233.8L732.4,233.8L734.9,233.1L737.5,232.0L740.0,231.4L742.5,230.9L745.1,228.8L747.7,227.9L750.3,225.3L752.9,225.0L755.5,222.6L758.2,221.5L760.9,218.4L763.6,216.5L766.3,214.8L769.2,209.3L772.1,206.4L775.0,200.6L777.7,191.9L780.4,182.5L783.3,167.8L786.0,185.5L789.3,204.8L792.5,221.2L796.8,230.1L800.1,235.0L803.3,240.0L805.9,244.0L808.4,246.3L810.9,249.5L813.4,252.7L815.8,253.7L818.2,256.7L820.7,259.1L823.4,260.1L826.1,260.2L828.8,260.8L831.5,263.0L834.2,263.6L836.9,265.7L839.6,265.3L842.3,266.5L844.5,267.9L846.8,268.6L849.0,269.0L851.2,269.0L853.4,269.4L855.6,270.7L857.8,271.4L860.0,270.8L862.3,271.1L864.6,272.5L866.9,272.1L869.2,272.8L871.4,272.1L873.7,272.9L876.0,272.0L878.3,272.8L880.7,271.8L883.2,273.0L885.6,271.8L888.1,271.4L890.5,271.2L892.9,270.3L895.4,270.9L897.8,270.9L900.2,269.3L902.7,267.7L905.1,267.2L907.6,267.0L910.0,265.8L912.4,264.7L914.9,262.5L917.3,261.2L919.9,260.0L922.5,256.6L925.1,254.5L927.7,251.7L930.3,248.6L933.2,240.8L936.1,234.2L939.0,227.0L942.2,238.6L945.5,249.2L948.2,250.8L950.9,253.7L953.6,257.1L956.3,259.8L958.8,262.4L961.3,263.3L963.9,264.7L966.4,267.1L968.9,269.4L971.4,270.6" fill="none" stroke="#c46470" stroke-width="2.4" stroke-linejoin="round" clip-path="url(#c1)"/>
<path d="M38.9,253.8L41.9,252.9L45.8,256.3L48.7,255.1L51.6,255.0L54.1,257.1L56.5,258.0L59.5,251.0L63.4,251.3L64.3,245.2L66.3,254.1L70.2,244.5L72.7,250.2L75.1,253.8L78.0,254.6L81.0,255.1L83.6,257.1L86.2,258.0L88.8,258.5L91.1,257.5L93.5,256.7L95.8,256.9L98.2,258.1L100.5,257.6L103.4,259.6L106.4,261.6L109.3,262.4L112.2,263.1L115.2,260.4L118.1,259.6L120.7,257.9L123.3,255.9L125.9,256.3L128.3,256.1L130.6,254.2L133.0,253.8L135.3,253.4L137.7,251.4L140.3,251.0L142.9,249.3L145.5,248.4L148.1,249.1L150.7,251.5L153.3,252.1L155.6,251.7L158.0,253.6L160.3,252.9L162.7,253.5L165.0,254.1L167.4,253.3L169.7,253.8L172.1,253.2L174.4,253.5L176.8,254.0L179.4,252.4L182.0,251.3L184.6,250.9L186.9,251.4L189.3,249.9L191.6,250.6L194.0,250.2L196.3,249.9L198.7,248.3L201.0,248.6L203.4,246.9L205.7,247.1L208.0,245.1L210.4,244.9L212.7,244.1L215.1,244.0L217.4,242.6L219.8,242.6L222.0,242.8L224.2,242.1L226.5,241.3L228.7,241.8L230.9,241.9L233.2,241.2L235.4,241.2L237.7,240.6L240.0,241.5L242.3,240.4L244.6,239.3L246.9,236.9L249.1,235.1L251.4,235.5L253.9,230.0L256.3,227.1L258.7,222.7L261.2,218.4L265.1,232.6L267.7,232.8L270.3,234.3L272.9,236.1L275.4,237.9L277.8,241.2L280.3,242.4L282.7,243.5L285.0,244.4L287.4,246.7L289.7,246.1L292.1,248.1L294.4,248.2L296.7,248.5L298.9,248.3L301.1,249.5L303.4,249.9L305.6,251.6L307.8,250.4L310.1,252.4L312.6,251.2L315.1,251.2L317.6,251.7L320.1,252.1L322.6,251.8L325.1,252.2L327.7,252.4L329.9,253.6L332.1,252.8L334.4,253.7L336.6,253.4L338.8,253.8L341.1,253.4L343.3,253.6L345.5,253.0L347.8,254.5L350.0,255.5L352.2,256.1L354.5,254.8L356.7,255.0L358.9,256.3L361.2,255.8L363.4,256.9L365.6,257.0L367.9,256.4L370.1,257.2L372.3,257.1L374.6,258.2L377.0,258.9L379.5,257.6L381.9,257.7L384.4,258.1L386.8,258.4L389.2,259.4L391.7,259.5L394.1,258.9L396.6,258.7L399.0,259.8L401.5,259.5L403.9,259.9L406.4,259.0L408.8,259.3L411.2,259.3L413.7,259.9L416.0,259.9L418.4,258.3L420.7,258.5L423.1,259.4L425.4,258.1L427.7,255.9L430.0,254.6L432.2,253.0L434.4,252.6L436.7,252.3L438.9,251.1L441.1,251.1L443.4,248.9L445.6,248.9L447.8,249.0L450.1,247.1L452.3,248.2L454.5,246.6L456.8,246.8L459.0,245.0L461.4,243.4L463.7,242.0L466.0,241.0L468.4,239.4L470.7,237.3L473.7,199.9L477.6,234.1L480.1,235.0L482.7,237.7L485.2,238.6L487.7,240.1L490.3,243.2L492.7,243.9L495.2,244.4L497.6,244.1L500.1,244.3L502.5,244.3L505.0,246.5L507.4,245.2L509.8,246.0L512.3,245.9L514.7,246.4L517.2,246.6L519.6,248.7L522.1,247.6L524.5,247.7L526.9,248.2L529.4,249.9L531.8,249.1L534.3,250.6L536.7,250.8L539.2,250.9L541.6,251.3L544.1,253.4L546.5,252.1L548.9,253.1L551.4,253.0L553.8,252.1L556.3,251.4L558.7,252.4L561.2,250.8L563.6,251.1L566.0,250.8L568.5,249.9L570.9,250.8L573.4,251.0L575.8,250.4L578.3,248.5L580.7,248.7L583.2,249.7L585.6,248.4L588.0,248.7L590.3,248.4L592.6,247.9L594.9,247.5L597.2,246.3L599.4,247.1L601.7,245.5L604.0,245.2L606.3,245.8L608.6,245.2L610.9,246.0L613.1,245.9L615.4,245.6L619.0,245.2L621.5,245.0L624.1,244.2L626.6,241.7L629.1,242.5L631.6,241.5L634.2,241.3L636.7,240.0L639.2,239.7L641.8,237.8L644.3,237.9L646.8,236.8L649.3,237.4L652.6,228.5L655.3,233.3L658.0,233.9L660.6,234.8L663.2,234.0L665.8,233.9L668.4,234.4L671.0,232.9L673.6,230.6L676.2,230.1L678.8,226.5L681.4,224.5L684.0,222.5L686.5,222.5L689.1,222.2L691.6,222.5L694.1,220.9L696.6,220.6L699.2,221.4L701.7,219.1L704.2,218.1L706.8,217.7L709.3,216.4L711.8,215.6L714.3,215.2L716.9,214.5L719.5,213.8L722.1,211.9L724.7,210.4L727.3,210.1L729.9,206.4L732.5,203.3L735.1,198.3L737.7,196.0L740.3,192.7L743.2,191.5L746.1,192.4L749.0,193.4L751.7,191.7L754.4,190.8L757.1,190.4L759.8,189.3L762.6,184.3L765.3,179.8L768.0,176.2L770.7,172.0L773.2,155.4L775.7,139.4L778.3,122.6L781.5,89.1L784.5,149.8L786.5,171.0L790.3,187.5L793.0,190.4L795.8,196.2L799.0,201.1L802.3,206.8L805.5,210.7L808.8,216.7L811.3,219.6L813.8,220.4L816.3,224.1L819.2,225.2L822.1,229.0L825.0,231.4L827.7,233.1L830.4,235.5L833.1,237.8L835.8,239.2L838.5,240.4L841.3,242.4L844.0,243.6L846.7,243.7L848.9,245.4L851.1,245.5L853.3,245.6L855.6,245.5L857.8,246.5L860.0,247.8L862.3,248.3L864.6,247.9L866.9,248.7L869.2,249.8L871.4,250.5L873.7,250.6L876.0,249.9L878.3,251.1L880.7,250.1L883.1,250.5L885.5,249.8L887.9,249.4L890.3,249.6L892.8,249.5L895.2,250.2L897.6,249.4L900.0,248.3L902.4,247.3L904.9,246.8L907.4,245.0L909.9,243.0L912.3,240.7L914.8,238.8L917.3,237.5L919.9,234.7L922.5,231.2L925.1,229.2L927.7,226.2L930.3,223.2L934.6,209.8L937.9,144.9L940.6,175.7L943.3,206.8L946.2,216.1L949.1,224.5L952.0,232.6L954.6,235.5L957.2,238.5L959.8,241.5L962.4,242.8L965.0,246.1L968.2,247.9L971.4,251.1" fill="none" stroke="#89258a" stroke-width="2.4" stroke-linejoin="round" clip-path="url(#c1)"/>
<path d="M38.9,239.2L41.4,239.3L43.8,240.3L46.4,240.8L49.0,240.7L51.6,241.5L54.0,241.5L56.3,241.5L58.7,240.9L61.0,240.3L63.4,239.9L66.0,238.0L68.6,235.0L71.2,232.7L74.1,235.9L77.1,239.1L79.7,240.6L82.3,242.1L84.9,243.1L87.3,243.7L89.8,243.2L92.2,243.6L94.7,243.8L97.6,244.8L100.5,245.0L103.4,246.2L106.4,247.8L109.3,250.3L111.8,248.3L114.2,246.5L116.6,246.3L119.1,246.9L121.5,246.3L124.0,245.6L126.4,245.4L128.9,244.0L131.3,242.8L133.8,242.5L137.7,245.5L140.6,239.7L143.5,234.6L146.0,237.8L148.4,241.6L150.9,242.4L153.3,243.6L155.7,244.4L158.2,245.0L160.6,245.2L163.1,246.3L165.5,246.1L168.0,246.3L170.4,246.8L172.9,246.9L175.2,247.2L177.5,247.4L179.9,247.3L182.2,246.8L184.6,247.0L187.2,247.1L189.8,246.2L192.4,246.3L194.8,245.3L197.3,245.8L199.7,245.4L202.2,245.2L204.6,245.0L207.1,244.9L209.5,244.5L212.0,244.5L214.6,239.8L217.2,235.2L219.8,230.9L222.2,234.6L224.7,237.9L227.3,239.1L230.0,239.4L232.7,239.2L235.4,240.3L237.7,240.0L240.0,238.4L242.3,237.8L244.6,237.1L246.9,235.5L249.1,234.8L251.4,233.9L254.3,227.4L257.3,221.6L260.2,215.8L262.7,221.3L265.1,228.2L268.0,232.0L271.0,236.2L273.3,237.0L275.7,239.4L278.0,241.0L280.3,241.7L282.7,243.8L285.0,243.8L287.4,245.1L289.7,245.0L292.1,246.4L294.4,246.7L296.7,246.8L299.0,247.1L301.3,246.9L303.5,247.4L305.8,246.9L308.1,247.9L310.3,247.7L312.6,247.5L314.8,246.7L317.0,247.4L319.3,246.4L321.5,246.8L323.8,246.4L326.1,246.0L328.4,246.4L330.8,245.8L333.1,246.0L335.5,245.3L337.9,245.0L340.4,244.6L342.8,243.7L345.3,243.3L347.5,244.2L349.8,244.7L352.1,245.4L354.4,246.5L356.7,246.7L358.9,247.5L361.2,248.7L363.4,248.9L365.6,249.1L367.9,250.7L370.1,251.0L372.3,251.9L374.6,252.9L376.8,252.7L379.1,253.1L381.3,253.2L383.5,254.3L385.8,254.8L388.0,254.5L390.2,255.3L392.5,255.1L394.7,255.5L396.9,255.0L399.2,255.3L401.4,255.5L403.6,255.3L405.9,255.5L408.3,255.1L410.8,254.1L413.2,253.6L415.6,253.6L418.1,253.1L420.5,251.8L423.0,250.9L425.4,250.1L427.7,248.1L430.0,247.8L432.3,247.2L434.6,247.2L436.9,246.6L439.1,245.9L441.4,245.1L443.7,244.1L446.0,244.0L448.3,242.4L450.5,241.9L452.8,241.1L455.1,239.4L457.4,238.6L459.7,237.3L461.9,235.4L464.2,233.8L466.5,232.5L468.8,231.0L472.7,202.5L476.6,229.9L479.5,234.1L482.5,237.6L484.8,238.2L487.2,238.9L489.5,240.0L491.9,241.1L494.2,241.5L496.6,241.8L499.1,242.8L501.5,243.4L504.0,243.7L506.4,245.1L508.9,244.9L511.3,245.8L513.8,246.1L516.2,246.6L518.6,247.6L521.1,248.3L523.5,248.6L526.0,249.2L528.4,249.8L530.9,249.8L533.3,250.2L535.7,250.4L538.2,250.9L540.6,250.5L543.1,250.6L545.5,250.7L548.0,250.7L550.4,251.0L552.9,250.9L555.3,251.0L557.7,249.8L560.2,249.6L562.6,249.1L565.1,248.5L567.5,247.8L570.0,247.5L572.4,246.8L574.8,246.5L577.3,246.2L579.7,245.7L582.2,245.0L584.6,245.0L587.1,244.5L589.5,244.0L592.0,243.5L594.3,243.0L596.6,243.0L599.0,242.8L601.3,242.3L603.7,242.0L606.0,241.9L608.4,242.0L610.7,241.8L613.1,240.7L615.4,240.8L619.0,236.8L621.6,236.1L624.2,235.1L626.8,233.9L629.4,232.7L632.0,232.1L634.7,229.7L637.4,228.8L640.1,226.9L642.8,225.3L645.3,224.4L647.7,223.8L650.1,224.0L652.6,223.1L655.0,224.0L657.5,225.6L659.9,226.4L662.3,226.9L665.2,228.5L668.1,228.5L671.0,229.9L673.7,228.1L676.4,227.6L679.1,225.9L681.8,225.3L684.5,224.8L687.3,223.4L690.0,222.7L692.7,221.7L695.2,220.9L697.7,220.6L700.3,219.0L702.8,218.1L705.3,217.6L707.8,216.4L710.4,215.2L712.9,213.6L715.4,212.2L718.0,210.4L720.5,209.2L723.0,207.7L725.6,203.9L728.2,200.0L730.8,195.8L733.4,191.8L736.0,188.3L739.3,184.3L742.5,179.7L745.2,181.0L747.9,182.3L750.6,183.1L753.3,184.1L756.2,183.1L759.1,182.6L762.0,181.5L764.7,177.7L767.4,174.5L770.1,170.9L772.8,167.1L776.1,136.3L779.3,105.7L781.5,85.7L785.1,150.1L787.6,171.9L791.4,182.5L794.1,187.6L796.8,191.9L800.1,197.1L803.3,202.1L806.6,206.4L809.8,210.3L813.1,215.1L816.3,219.8L819.2,222.1L822.1,225.0L825.0,228.0L827.7,230.7L830.4,232.6L833.1,234.6L835.8,236.6L838.5,237.5L841.3,239.1L844.0,240.1L846.7,240.6L848.9,241.3L851.1,241.0L853.3,241.9L855.6,242.0L857.8,241.7L860.0,242.0L862.3,242.0L864.7,241.8L867.0,242.8L869.3,242.3L871.6,242.2L874.0,242.7L876.4,242.1L878.9,241.9L881.3,242.1L883.7,240.9L886.2,241.0L888.6,241.0L891.0,240.7L893.5,240.4L895.9,239.5L898.3,238.9L900.8,237.6L903.2,236.7L905.7,236.2L908.1,235.6L910.5,234.6L913.0,233.6L915.5,231.1L918.0,228.9L920.5,225.7L923.1,224.2L925.6,220.7L928.1,218.1L931.4,202.4L934.6,186.5L937.9,140.6L940.6,164.9L943.3,187.9L946.2,200.3L949.1,211.0L952.0,222.5L954.6,225.2L957.2,228.1L959.8,230.9L962.4,233.5L965.0,236.0L968.2,237.3L971.4,238.1" fill="none" stroke="#74148c" stroke-width="2.4" stroke-linejoin="round" clip-path="url(#c1)"/>
<path d="M38.9,231.4L41.9,234.7L44.8,232.8L48.7,227.4L51.2,228.3L53.6,230.5L55.9,230.0L58.2,229.5L60.4,228.7L63.4,222.1L66.3,215.3L70.2,217.0L72.7,216.5L75.1,215.7L79.0,225.7L81.3,226.3L83.6,226.5L85.9,226.1L88.1,227.0L90.4,227.4L92.7,228.8L95.0,228.7L97.3,228.8L99.5,228.9L103.4,233.5L105.7,233.1L108.0,234.0L110.3,234.1L112.9,233.0L115.5,232.4L118.1,230.5L120.6,233.0L123.0,235.0L125.9,230.5L128.9,225.6L132.8,229.4L135.2,226.7L137.7,223.3L140.1,220.3L142.5,217.5L145.0,219.8L147.4,221.3L150.4,223.5L153.3,225.9L156.2,230.4L159.2,235.3L163.1,232.2L165.5,231.6L168.0,231.7L170.4,231.3L172.9,230.8L175.3,230.9L177.7,230.2L181.7,234.2L184.1,233.4L186.5,233.6L189.5,235.7L192.4,237.6L195.3,235.1L198.3,232.8L200.9,235.8L203.5,238.2L206.1,240.1L209.0,236.3L212.0,231.9L214.6,228.4L217.2,225.5L219.8,221.5L222.1,222.7L224.3,223.7L226.6,224.9L229.0,224.6L231.4,224.8L233.8,225.4L236.8,227.8L239.7,231.4L242.6,227.6L245.6,222.9L248.0,222.7L250.4,222.2L253.4,214.6L256.3,206.2L259.2,198.8L262.2,202.6L265.1,207.9L267.7,211.9L270.3,216.1L272.9,219.9L275.9,226.4L278.8,232.0L281.7,231.2L284.7,230.9L287.6,232.5L290.5,234.1L292.8,234.3L295.1,235.0L297.4,235.7L299.6,236.1L301.9,236.1L304.2,236.3L306.6,236.3L309.1,235.8L311.5,234.8L314.0,234.7L316.4,235.1L318.9,235.5L321.3,235.5L323.8,235.8L326.7,234.9L329.6,234.3L331.9,236.5L334.2,239.4L336.5,242.1L339.4,241.1L342.3,241.1L345.3,240.9L348.2,242.3L351.1,243.4L353.5,243.5L355.8,242.8L358.2,242.6L360.5,241.6L362.9,241.4L366.8,246.0L369.4,244.7L372.0,243.0L374.6,241.3L376.9,241.9L379.1,241.6L381.4,241.2L383.7,241.0L386.0,240.5L388.3,241.0L390.6,241.2L393.0,241.5L395.3,241.0L397.7,241.9L400.0,242.0L402.4,240.3L404.9,238.3L407.3,236.2L409.8,234.4L412.7,236.8L415.6,239.1L418.4,237.0L421.1,236.4L423.8,234.9L426.4,235.0L429.0,235.0L431.6,235.6L434.1,234.8L436.5,234.0L439.0,232.7L441.4,231.7L443.9,230.1L446.3,227.1L448.7,225.5L451.2,223.5L453.5,221.0L455.9,217.6L458.2,215.9L460.6,213.3L462.9,209.9L465.4,204.1L467.8,197.8L470.3,192.2L472.7,186.1L475.6,191.1L478.6,196.3L481.5,204.8L484.4,212.5L487.4,218.5L490.3,224.1L492.7,225.3L495.2,226.4L497.6,227.5L500.1,228.6L502.5,229.7L505.0,230.3L507.4,231.2L509.8,231.6L512.4,233.8L515.1,235.9L517.7,238.0L520.1,237.2L522.5,236.9L525.0,236.1L527.4,236.1L530.4,237.7L533.3,239.7L535.7,239.3L538.2,238.4L540.6,237.8L543.1,237.4L545.5,237.2L548.0,236.3L550.4,235.9L552.9,236.1L555.2,236.5L557.5,236.2L559.9,237.0L562.2,237.5L564.6,237.6L566.9,236.8L569.1,236.3L571.4,235.2L573.7,234.5L576.0,233.4L578.3,232.4L581.2,235.0L584.1,238.2L587.1,236.3L590.0,235.1L592.6,235.6L595.2,236.5L597.8,237.7L600.3,236.6L602.7,236.2L605.1,234.8L607.6,234.0L610.0,235.6L612.3,237.7L614.7,239.7L617.6,236.6L620.4,234.3L623.3,231.9L625.9,230.1L628.4,229.4L630.9,227.4L633.4,226.7L636.0,225.0L638.5,224.4L641.2,223.7L643.9,223.2L646.6,223.5L649.3,222.9L652.0,224.6L654.8,224.7L657.5,226.3L660.2,227.1L662.9,228.1L665.6,228.0L668.3,229.2L671.0,229.6L673.6,227.6L676.2,225.8L678.8,224.3L681.4,222.8L684.0,220.8L686.6,219.9L689.2,219.4L691.8,218.4L694.4,217.2L697.0,216.9L699.6,215.3L702.2,214.6L704.8,214.2L707.4,213.3L710.0,212.0L712.6,208.8L715.2,206.1L717.8,203.1L720.4,199.6L723.0,196.9L725.7,190.6L728.4,184.8L731.1,179.3L733.8,173.4L736.6,166.9L739.3,161.2L741.7,161.7L744.1,162.9L746.6,163.4L749.0,164.1L751.4,167.1L753.8,169.1L756.2,172.0L758.5,174.3L760.9,176.5L763.4,172.7L765.8,168.5L768.2,164.1L770.7,159.8L773.2,145.6L775.7,131.6L778.3,117.0L781.0,130.8L783.7,144.8L786.0,150.4L790.3,171.9L794.7,180.6L797.9,185.9L801.2,191.2L804.4,195.8L807.7,199.7L812.0,208.5L816.3,210.4L820.7,217.0L825.0,220.8L829.3,223.3L833.7,229.9L836.6,231.1L839.5,231.9L842.3,232.1L845.2,231.5L848.1,231.0L851.0,230.0L854.3,231.1L857.5,231.5L860.0,235.7L862.5,234.5L865.0,233.3L867.5,231.9L870.0,231.7L872.5,231.3L875.1,231.9L877.6,231.5L880.1,231.7L882.6,231.6L885.2,231.4L887.7,230.3L890.2,229.9L892.8,229.7L895.3,229.0L897.8,227.9L900.4,226.6L903.0,224.4L905.6,222.4L908.2,220.7L910.8,219.1L913.4,213.3L916.0,207.9L918.6,203.1L921.2,197.5L923.8,193.0L927.0,175.6L930.3,157.7L933.0,145.0L935.7,132.4L938.2,142.9L940.8,153.3L943.3,164.4L946.2,173.0L949.1,181.9L952.0,190.9L954.8,196.9L957.7,203.1L960.6,209.7L963.9,216.7L967.1,224.1L971.4,223.0" fill="none" stroke="#560c89" stroke-width="2.4" stroke-linejoin="round" clip-path="url(#c1)"/>
<path d="M185.6,233.3L188.2,225.8L190.8,218.4L193.4,210.5L195.7,210.8L197.9,210.0L200.2,209.8L202.7,208.9L205.1,208.0L207.6,206.8L210.0,206.1L212.4,203.4L214.9,200.9L217.3,198.6L219.8,196.0L222.1,196.6L224.3,197.3L226.6,197.9L229.3,194.3L232.1,190.2L234.8,185.7L237.5,184.7L240.2,184.0L242.9,182.9L245.6,181.8L248.5,177.9L251.4,174.0L254.3,174.8L257.3,175.7L260.2,176.1L262.5,179.5L264.8,183.4L267.1,187.2L269.5,188.4L271.9,190.1L274.4,192.2L276.8,194.0L279.1,196.6L281.3,199.8L283.5,202.4L285.8,205.4L288.0,208.7L290.2,211.4L292.5,214.5L295.0,215.4L297.5,215.9L300.0,216.8L302.5,217.4L305.0,218.4L307.6,219.3L310.1,220.4L312.4,220.3L314.8,220.1L317.1,220.2L319.5,220.4L321.8,220.2L324.1,219.6L326.5,218.9L328.8,218.4L331.2,217.8L333.5,217.3L335.8,217.5L338.0,217.5L340.2,217.7L342.5,218.0L344.7,218.0L346.9,218.2L349.2,218.4L351.6,219.4L354.1,220.4L356.5,222.1L358.9,223.0L361.2,224.0L363.4,224.5L365.6,225.1L367.9,225.8L370.1,226.5L372.3,227.5L374.6,228.1L377.2,226.7L379.8,225.4L382.4,224.2L385.0,225.3L387.6,226.9L390.2,228.2L392.6,227.1L394.9,226.2L397.3,225.8L399.6,224.7L402.0,224.2L404.2,223.8L406.5,224.3L408.8,223.8L411.1,223.8L413.4,223.9L415.6,223.8L418.4,223.2L421.1,222.4L423.8,222.0L426.4,222.5L429.0,223.0L431.6,224.0L434.2,222.8L436.9,222.1L439.5,221.2L441.8,219.0L444.2,216.8L446.5,214.8L448.8,212.7L451.2,210.2L453.6,206.4L456.1,202.8L458.5,198.7L461.0,194.5L463.9,186.8L466.8,179.1L469.8,168.7L472.7,158.5L475.6,170.0L478.6,180.9L482.5,194.8L484.8,198.6L487.0,201.8L489.3,205.7L492.2,207.0L495.2,208.2L498.1,209.3L500.7,210.8L503.3,212.9L505.9,214.0L508.5,214.7L511.1,214.7L513.8,215.2L516.4,216.4L519.0,217.0L521.6,218.2L524.2,219.0L526.8,219.3L529.4,219.7L531.8,218.8L534.3,217.5L536.7,216.2L539.2,214.8L542.1,215.2L545.0,215.3L547.5,216.4L549.9,217.4L552.4,218.6L554.8,219.5L557.3,219.1L559.7,218.2L562.1,217.1L564.6,216.3L566.9,215.8L569.1,215.4L571.4,214.9L573.7,214.4L576.0,213.7L578.3,213.4L580.7,214.6L583.2,216.4L585.6,218.0L588.0,219.9L590.6,217.9L593.3,216.3L595.9,214.6L598.5,215.5L601.1,216.4L603.7,217.4L606.3,218.9L608.9,220.2L611.5,221.6L612.5,222.0L615.0,219.6L617.6,216.9L620.1,214.3L622.6,212.1L625.1,209.6L627.7,206.6L630.6,205.6L633.4,204.4L636.3,203.2L639.2,207.3L642.1,211.5L645.0,215.5L647.5,214.6L650.1,213.4L652.6,212.3L654.9,212.9L657.2,213.2L659.6,214.0L661.9,214.6L664.2,215.0L666.5,216.0L668.8,216.4L671.4,215.9L674.0,214.7L676.6,214.2L679.2,213.2L681.8,212.6L684.5,212.7L687.3,212.9L690.0,212.5L692.7,212.8L695.4,211.2L698.1,209.8L700.8,208.4L703.5,207.0L706.0,204.5L708.6,202.6L711.1,200.5L713.6,198.6L716.1,196.6L718.7,194.8L721.6,190.0L724.5,184.6L727.3,179.4L730.2,169.5L733.1,159.4L736.0,149.4L739.3,143.1L742.5,137.2L745.4,141.6L748.3,145.3L751.2,149.6L754.1,153.9L757.0,158.9L759.8,163.5L762.4,163.5L764.9,163.2L767.4,163.6L770.0,156.2L772.5,148.7L775.0,141.7L777.9,141.3L780.8,141.1L783.7,140.5L784.9,150.0L789.3,163.2L792.5,174.6L795.2,180.6L797.9,185.7L800.4,189.0L803.0,192.5L805.5,195.4L808.4,199.2L811.3,202.7L814.2,206.1L817.4,210.7L820.7,215.2L823.6,217.1L826.4,219.3L829.3,221.6L832.2,223.2L835.1,224.1L838.0,225.7L840.7,226.0L843.4,226.9L846.1,227.0L848.8,227.3L851.1,227.5L853.3,227.9L855.5,227.6L857.8,228.0L860.0,228.1L862.5,227.7L865.0,226.7L867.5,226.2L870.2,227.2L872.9,227.7L875.6,228.4L878.3,229.4L880.8,228.3L883.4,227.5L885.9,226.2L888.4,224.9L890.9,224.0L893.5,222.7L896.0,221.1L898.5,219.5L901.1,217.8L903.6,215.9L906.1,214.2L908.6,212.2L911.2,208.5L913.8,205.1L916.4,201.8L919.0,198.0L921.6,194.8L924.5,186.9L927.4,178.9L930.3,170.7L933.2,148.1L936.1,124.5L939.0,101.7L941.8,124.5L944.7,147.8L947.6,171.1L950.5,182.0L953.4,192.9L956.3,203.6L958.9,206.2L961.5,208.5L964.1,211.5L966.7,214.1L969.3,216.5L971.4,217.5" fill="none" stroke="#380d7f" stroke-width="2.4" stroke-linejoin="round" clip-path="url(#c1)"/><path d="M38.0,683.8L40.9,688.7L43.8,694.0L46.4,693.7L49.0,693.7L51.6,692.5L54.2,692.3L56.9,692.0L59.5,692.2L62.1,693.5L64.7,694.4L67.3,694.6L69.6,695.5L72.0,697.0L74.3,698.3L76.7,698.0L79.0,699.8L81.2,700.4L83.5,701.0L85.7,701.0L87.9,700.8L90.2,701.3L92.4,702.4L94.7,702.8L96.9,704.2L99.1,704.9L101.4,705.0L103.6,706.0L105.8,705.7L108.1,707.0L110.3,707.0L112.6,707.7L115.0,709.4L117.3,709.9L119.7,711.2L122.0,711.2L124.4,712.8L126.7,711.9L129.1,712.9L131.4,714.1L133.8,714.8L136.1,715.0L138.4,716.3L140.8,718.0L143.1,718.5L145.5,719.4L147.8,717.8L150.2,718.5L152.5,717.6L154.9,715.9L157.2,716.8L159.4,715.8L161.7,714.7L163.9,716.0L166.1,715.2L168.4,715.3L170.6,714.8L172.9,713.4L175.3,714.0L177.7,712.6L180.2,712.4L182.6,712.0L185.1,712.1L187.5,712.2L190.0,711.3L192.4,711.5L194.6,710.9L196.9,712.5L199.1,712.8L201.3,712.6L203.6,713.3L205.8,713.7L208.0,714.8L210.4,714.8L212.7,715.5L215.1,715.7L217.4,717.3L219.8,716.9L222.0,716.1L224.2,715.3L226.5,714.7L228.7,715.0L230.9,714.0L233.2,714.0L235.4,712.2L238.5,712.6L241.6,712.7L243.9,711.1L246.1,711.7L248.3,711.7L250.6,709.8L252.8,710.8L255.0,709.2L257.3,709.4L259.5,709.7L261.7,709.6L264.0,709.4L266.2,710.8L268.5,710.9L270.7,710.8L272.9,711.2L275.2,710.9L277.4,710.4L279.6,711.6L281.9,710.6L284.1,710.6L286.3,711.0L288.6,711.6L290.8,711.0L293.0,711.1L295.3,711.7L297.5,712.6L299.7,712.6L302.0,712.1L304.2,713.4L306.5,712.4L308.9,711.7L311.2,711.4L313.6,711.2L315.9,710.5L318.3,711.5L320.6,713.3L323.0,713.4L325.3,714.9L327.7,716.8L329.9,715.9L332.1,715.2L334.4,715.9L336.6,714.6L338.8,715.9L341.1,715.1L343.3,715.7L345.7,714.0L348.2,714.3L350.6,713.6L353.1,714.9L355.5,713.7L358.0,713.8L360.4,712.6L362.9,712.4L365.1,713.2L367.3,712.6L369.6,712.0L371.8,711.9L374.0,712.6L376.3,710.8L378.5,711.8L380.7,711.3L383.0,711.0L385.2,711.0L387.4,710.5L389.7,709.5L391.9,710.2L394.1,708.9L396.4,709.2L398.6,709.0L400.8,707.1L403.1,708.0L405.3,706.6L407.5,706.1L409.8,707.1L412.0,706.4L414.2,705.9L416.5,705.4L418.7,704.3L420.9,704.6L423.2,703.7L425.4,704.2L427.7,703.2L430.1,700.7L432.4,700.3L434.8,698.9L437.1,698.3L439.5,697.9L441.9,696.7L444.3,696.3L446.8,695.6L449.2,695.4L451.8,693.9L454.4,694.4L457.1,694.8L460.0,697.1L462.9,700.7L465.3,702.1L467.6,703.6L470.0,706.6L472.3,707.4L474.7,709.4L476.9,709.0L479.1,709.8L481.4,710.9L483.6,709.7L485.8,710.2L488.1,711.7L490.3,711.7L492.5,711.4L494.8,712.1L497.0,711.1L499.2,710.8L501.5,711.4L503.7,711.4L505.9,711.9L508.3,711.5L510.6,711.5L513.0,711.8L515.3,711.5L517.7,710.4L519.9,710.5L522.1,710.5L524.4,710.3L526.6,710.1L528.8,709.6L531.1,708.9L533.3,709.5L535.5,709.7L537.8,708.7L540.0,709.0L542.2,708.7L544.5,709.0L546.7,708.4L548.9,709.0L551.2,708.0L553.4,708.7L555.6,708.0L557.9,707.3L560.1,708.4L562.3,706.8L564.6,708.1L566.8,707.0L569.1,705.8L571.3,705.9L573.5,705.9L575.8,705.2L578.0,705.1L580.2,704.7L582.5,704.9L584.7,705.1L586.9,704.5L589.2,704.1L591.4,703.6L593.6,703.6L595.9,702.8L598.2,702.0L600.6,702.4L602.9,702.1L605.2,703.0L607.6,704.0L610.2,703.4L612.8,704.6L615.4,704.5L618.0,705.8L620.7,705.5L623.1,704.0L625.6,704.3L628.0,705.4L630.4,706.3L632.9,705.7L635.3,705.8L637.8,705.6L640.2,706.8L642.7,705.7L645.1,706.0L647.5,706.3L650.0,706.6L652.4,706.2L654.9,705.2L657.3,703.7L659.8,704.3L662.2,703.4L664.7,702.9L667.1,701.9L669.5,701.0L672.0,700.1L674.4,699.6L676.9,697.7L679.3,696.5L681.8,696.3L684.2,695.3L686.6,693.8L689.1,692.4L691.5,691.4L694.0,689.5L696.4,689.5L698.9,688.6L701.3,686.9L703.8,687.3L706.2,686.1L708.6,684.2L711.1,684.6L713.5,683.4L716.0,682.6L718.4,683.1L720.9,682.2L723.3,682.0L725.7,681.2L728.2,680.1L730.6,678.8L733.1,679.2L735.5,678.1L738.0,677.7L740.4,676.2L742.9,675.9L745.3,673.7L747.7,672.1L750.2,670.1L752.6,668.0L755.1,667.7L757.5,665.0L760.0,662.5L762.4,657.7L764.8,653.1L767.3,650.6L769.7,645.8L772.0,638.0L774.3,630.6L776.6,623.1L779.3,632.9L782.0,640.6L784.4,648.5L786.8,656.1L789.3,662.2L791.7,669.7L794.2,674.3L796.6,676.5L799.1,681.0L801.5,683.7L803.9,685.4L806.2,686.8L808.6,689.3L811.0,690.2L813.3,691.2L815.7,693.6" fill="none" stroke="#efc64e" stroke-width="2.4" stroke-linejoin="round" clip-path="url(#c2)"/>
<path d="M38.0,685.7L40.3,685.8L42.5,687.1L44.8,687.2L47.1,687.3L49.4,687.6L51.6,687.5L53.9,687.3L56.1,688.4L58.3,688.3L60.6,688.5L62.8,688.4L65.0,689.4L67.3,690.1L69.7,690.1L72.2,689.6L74.6,690.8L77.1,690.3L79.5,690.6L81.9,689.7L84.4,690.3L86.8,690.5L89.3,690.6L91.7,691.0L94.2,691.0L96.6,690.4L99.0,691.8L101.5,691.2L103.9,691.5L106.4,691.1L108.8,691.8L111.3,691.9L113.7,692.4L116.2,692.5L118.6,692.0L121.0,691.8L123.5,691.8L125.9,693.1L128.3,692.3L130.7,693.5L133.1,693.5L135.5,693.5L137.9,692.9L140.3,694.5L142.7,694.8L145.0,694.5L147.4,695.0L150.0,694.6L152.5,694.6L155.0,693.4L157.5,693.4L160.0,693.5L162.5,693.6L165.0,692.2L167.5,692.7L169.9,691.3L172.4,692.0L174.8,691.0L177.3,690.8L179.7,691.8L182.1,690.6L184.6,690.4L187.0,690.0L189.5,690.0L191.9,689.6L194.4,689.9L196.8,689.1L199.2,689.8L201.7,689.2L204.1,688.2L206.6,687.8L209.0,688.9L211.5,688.6L213.9,687.0L216.4,686.7L218.8,687.4L221.2,687.7L223.7,686.9L226.0,686.1L228.4,685.9L230.7,687.1L233.1,686.9L235.4,687.2L237.9,687.3L240.5,687.0L243.0,687.5L245.6,686.5L248.0,687.2L250.4,686.7L252.9,687.6L255.3,686.8L257.8,687.2L260.2,687.9L262.7,686.9L265.1,688.3L267.5,688.1L270.0,687.8L272.4,688.8L274.9,687.9L277.3,688.0L279.8,688.0L282.2,689.1L284.7,688.7L287.1,689.2L289.5,688.9L292.0,689.7L294.4,690.3L296.9,690.0L299.3,690.2L301.8,691.1L304.2,691.1L306.6,692.1L309.1,692.1L311.5,691.2L314.0,691.5L316.4,691.5L318.9,692.0L321.3,692.4L323.8,692.7L326.2,693.1L328.6,692.0L331.1,692.8L333.5,693.5L336.0,693.4L338.4,693.7L340.9,694.1L343.3,693.0L345.7,693.8L348.2,693.5L350.6,694.1L353.1,693.7L355.5,694.0L358.0,694.3L360.4,693.0L362.9,693.1L365.3,693.0L367.7,692.3L370.2,693.2L372.6,692.3L375.1,691.0L377.5,691.2L380.0,691.0L382.4,690.7L384.8,689.9L387.3,690.3L389.7,689.7L392.2,688.6L394.6,688.4L397.1,688.5L399.5,687.9L402.0,688.0L404.3,686.7L406.6,686.9L409.0,686.1L411.3,686.1L413.7,685.0L416.0,684.2L418.4,684.5L420.7,683.8L423.1,683.1L425.4,683.3L427.7,682.8L430.1,682.5L432.4,681.1L434.8,681.0L437.1,680.3L439.5,678.7L441.9,677.5L444.3,676.3L446.8,675.3L449.2,674.7L451.5,671.2L453.8,668.6L456.1,664.6L458.4,668.7L460.6,672.1L462.9,675.9L465.3,677.4L467.6,677.8L470.0,679.0L472.3,680.3L474.7,681.2L476.9,681.8L479.1,681.7L481.4,681.4L483.6,681.2L485.8,681.9L488.1,682.8L490.3,683.4L492.7,682.2L495.2,683.4L497.6,683.1L500.1,682.0L502.5,683.1L505.0,682.6L507.4,682.4L509.8,683.4L512.3,682.8L514.7,682.5L517.2,682.9L519.6,682.4L522.1,683.4L524.5,682.9L526.9,682.4L529.4,682.5L531.8,683.0L534.3,682.2L536.7,683.0L539.2,682.0L541.6,681.5L544.1,682.2L546.5,682.0L548.9,681.3L551.4,682.1L553.8,682.1L556.3,681.5L558.7,680.5L561.2,681.3L563.6,680.1L566.0,680.1L568.5,679.1L570.9,679.0L573.4,679.7L575.8,678.5L578.3,678.5L580.7,679.2L583.2,678.2L585.6,677.6L588.0,677.5L590.3,678.4L592.5,678.5L594.7,678.6L597.0,678.7L599.2,678.5L601.4,679.1L603.7,679.2L606.0,679.4L608.4,681.2L610.7,681.6L613.1,681.4L615.4,682.9L618.0,683.1L620.7,682.1L623.1,683.3L625.6,683.8L628.0,683.8L630.4,683.8L632.9,684.1L635.3,684.1L637.8,685.4L640.2,685.4L642.7,684.8L645.1,686.1L647.5,685.9L650.0,685.4L652.4,685.4L654.9,685.8L657.3,686.1L659.8,685.7L662.2,686.1L664.7,686.4L667.1,686.1L669.5,686.9L672.0,687.6L674.4,686.5L676.9,687.7L679.3,687.9L681.8,687.0L684.2,687.7L686.6,686.8L689.1,686.6L691.5,686.6L694.0,685.1L696.4,685.9L698.9,685.6L701.3,684.1L703.8,684.1L706.2,684.6L708.6,683.5L711.1,682.8L713.5,683.8L716.0,683.3L718.4,682.5L720.9,682.3L723.3,682.1L725.7,681.1L728.2,679.5L730.6,680.3L733.1,678.6L735.5,678.5L738.0,678.5L740.4,676.4L742.9,674.5L745.3,674.8L747.7,672.4L750.2,671.3L752.6,669.8L755.1,667.2L757.5,666.1L760.0,662.4L762.4,660.8L764.8,657.4L767.2,651.1L769.5,643.0L771.9,635.8L774.2,629.0L776.6,621.7L779.3,629.4L782.0,637.9L784.4,646.0L786.8,652.1L789.3,658.7L791.7,665.2L794.2,667.4L796.6,670.0L799.1,673.4L801.5,674.6L803.9,676.2L806.2,676.7L808.6,679.0L811.0,678.8L813.3,679.9L815.7,681.4" fill="none" stroke="#ecb452" stroke-width="2.4" stroke-linejoin="round" clip-path="url(#c2)"/>
<path d="M38.0,658.4L40.3,659.2L42.5,659.0L44.8,659.4L47.1,660.5L49.4,660.6L51.6,660.9L53.9,661.3L56.1,661.8L58.3,662.4L60.6,662.6L62.8,663.1L65.0,663.7L67.3,663.8L69.7,664.5L72.2,664.9L74.6,665.9L77.1,666.2L79.5,666.6L81.9,667.2L84.4,667.3L86.8,668.2L89.3,668.3L91.7,668.8L94.2,668.8L96.6,669.2L99.0,669.7L101.5,669.4L103.9,669.9L106.4,670.4L108.8,670.5L111.3,671.2L113.7,671.5L116.2,671.6L118.6,672.5L121.0,673.1L123.5,673.2L125.9,673.5L128.3,673.9L130.6,674.5L133.0,675.2L135.3,674.8L137.7,675.1L140.0,675.9L142.4,676.0L144.7,676.5L147.0,676.9L149.4,676.9L151.7,677.3L154.1,676.2L156.4,676.6L158.8,676.6L161.1,676.3L163.5,676.7L165.8,675.8L168.2,676.0L170.5,675.7L172.9,676.1L175.3,676.2L177.7,676.4L180.2,676.2L182.6,676.2L185.1,676.1L187.5,676.8L190.0,677.0L192.4,676.8L194.8,676.9L197.3,677.3L199.7,677.3L202.2,677.5L204.6,677.3L207.1,677.2L209.5,677.4L212.0,678.0L214.3,678.3L216.6,678.5L219.0,678.1L221.3,677.8L223.7,678.8L226.0,678.5L228.4,678.4L230.7,678.8L233.1,678.9L235.4,678.8L237.9,679.6L240.5,679.1L243.0,679.5L245.6,679.9L248.0,680.3L250.4,680.3L252.9,680.0L255.3,680.3L257.8,680.3L260.2,680.1L262.7,680.3L265.1,680.7L267.5,680.6L270.0,680.6L272.4,680.8L274.9,681.1L277.3,680.9L279.8,681.2L282.2,680.8L284.7,681.0L287.1,680.8L289.5,681.1L292.0,681.0L294.4,681.1L296.9,680.7L299.3,681.1L301.8,680.7L304.2,680.7L306.6,680.4L309.1,680.4L311.5,679.9L314.0,679.9L316.4,679.5L318.9,679.2L321.3,679.5L323.8,678.6L326.2,678.9L328.6,678.5L331.1,677.9L333.5,677.4L336.0,677.3L338.4,676.5L340.9,676.3L343.3,676.0L345.7,675.7L348.2,674.9L350.6,675.2L353.1,674.6L355.5,673.7L358.0,673.7L360.4,673.7L362.9,673.2L365.3,673.1L367.7,672.2L370.2,672.4L372.6,672.1L375.1,672.0L377.5,671.6L380.0,670.9L382.4,670.6L384.8,670.8L387.3,670.6L389.7,669.5L392.2,670.0L394.6,669.5L397.1,668.8L399.5,668.7L402.0,668.5L404.3,667.9L406.6,666.5L409.0,666.2L411.3,666.2L413.7,665.1L416.0,664.7L418.4,663.9L420.7,663.0L423.1,663.1L425.4,661.8L428.5,662.7L431.6,662.0L433.9,661.2L436.2,659.9L438.5,659.7L440.8,658.4L443.0,657.0L445.3,656.9L447.7,653.7L450.0,651.4L452.4,649.8L454.7,647.5L457.1,644.6L460.0,650.5L462.9,656.4L465.2,656.5L467.4,657.3L469.6,657.7L471.9,658.4L474.1,658.2L476.3,659.0L478.6,659.2L481.0,659.2L483.4,659.8L485.9,660.2L488.3,661.3L490.8,661.0L493.2,661.4L495.7,661.6L498.1,661.9L500.6,662.9L503.0,662.9L505.4,663.1L507.9,663.4L510.3,663.8L512.8,663.3L515.2,663.9L517.7,664.3L520.1,664.0L522.5,664.0L525.0,664.6L527.4,664.0L529.9,664.0L532.3,663.8L534.8,664.7L537.2,664.1L539.7,664.5L542.1,663.9L544.5,663.8L547.0,663.9L549.4,664.0L551.9,664.5L554.3,664.5L556.8,663.8L559.0,664.6L561.2,664.3L563.5,663.8L565.7,664.1L567.9,663.1L570.2,663.1L572.4,663.1L574.6,663.6L576.9,662.9L579.1,662.9L581.3,663.4L583.6,663.6L585.8,663.6L588.0,662.9L590.3,662.8L592.5,662.8L594.7,662.7L597.0,663.2L599.2,662.5L601.4,662.1L603.7,662.3L606.0,663.0L608.4,663.8L610.7,664.3L613.1,664.5L615.4,664.9L617.9,665.7L620.5,666.3L623.0,667.0L625.6,668.3L628.0,668.7L630.4,668.5L632.9,668.4L635.3,669.0L637.8,669.1L640.2,670.2L642.7,670.6L645.1,670.4L647.5,670.7L650.0,671.2L652.4,671.2L654.9,670.8L657.3,671.3L659.8,670.9L662.2,671.1L664.7,671.6L667.1,671.5L669.5,671.6L672.0,671.6L674.4,671.3L676.9,671.9L679.3,671.4L681.8,671.6L684.2,671.8L686.6,670.9L689.1,671.0L691.5,670.6L694.0,670.5L696.4,670.0L698.9,670.1L701.3,669.0L703.8,669.1L706.2,668.6L708.6,668.6L711.1,667.7L713.5,667.8L716.0,667.3L718.4,666.6L720.9,666.2L723.3,665.9L725.7,664.9L728.2,663.3L730.6,663.1L733.1,662.2L735.5,661.3L738.0,660.5L740.4,658.9L742.9,658.4L745.3,656.4L747.7,653.9L750.2,652.4L752.6,650.5L755.1,647.7L757.5,645.5L760.0,641.2L762.4,636.4L764.8,631.8L767.3,626.3L769.7,622.0L772.0,612.9L774.3,603.5L776.6,594.7L779.3,601.0L782.0,607.3L784.4,613.9L786.8,621.4L789.3,628.7L791.7,636.4L794.2,638.7L796.6,640.2L799.1,642.5L801.5,644.7L803.9,645.1L806.2,646.6L808.6,647.0L811.0,648.5L813.3,649.0L815.7,649.6" fill="none" stroke="#e69e59" stroke-width="2.4" stroke-linejoin="round" clip-path="url(#c2)"/>
<path d="M38.0,670.1L40.9,671.4L43.8,672.6L46.8,669.8L49.7,666.1L53.6,672.0L56.5,671.5L59.5,669.6L62.4,662.2L65.3,654.7L68.3,678.0L72.2,660.9L74.6,667.6L77.1,673.5L79.7,671.8L82.3,668.6L84.9,666.6L87.8,669.2L90.7,672.5L93.7,672.7L96.6,674.1L100.5,659.8L103.4,657.8L106.4,654.3L109.0,657.6L111.6,660.4L114.2,664.6L116.8,662.8L119.4,661.6L122.0,660.3L124.6,660.9L127.2,661.7L129.8,662.5L132.2,663.0L134.5,662.8L136.9,663.4L139.2,663.4L141.6,664.3L144.2,664.9L146.8,665.8L149.4,667.6L151.7,666.2L154.1,665.4L156.4,664.1L158.8,662.6L161.1,661.7L163.7,663.6L166.3,666.0L168.9,667.6L171.5,666.3L174.2,664.0L176.8,662.5L179.4,661.8L182.0,661.7L184.6,662.0L187.5,657.0L190.4,652.1L193.4,662.1L196.3,671.6L198.9,670.8L201.5,669.8L204.1,668.4L208.0,675.4L211.0,681.5L213.9,688.1L216.8,678.9L219.8,670.0L223.7,685.2L226.8,674.1L229.9,662.8L232.8,677.6L236.8,651.8L239.2,661.9L241.6,672.6L245.6,675.4L248.0,680.3L250.4,686.0L253.4,671.5L255.7,670.5L257.9,669.1L260.2,667.4L262.7,672.9L265.1,678.3L267.7,677.2L270.3,675.5L272.9,675.4L275.3,673.7L277.6,671.8L280.0,669.8L282.3,668.3L284.7,665.6L287.3,668.5L289.9,669.5L292.5,671.5L295.4,675.4L298.3,679.6L301.3,681.3L304.2,681.9L308.1,673.5L310.6,671.9L313.0,670.7L315.4,669.0L317.9,668.1L320.3,670.0L322.8,671.5L325.2,673.1L327.7,673.6L330.3,674.3L332.9,674.8L335.5,675.7L337.8,674.7L340.2,673.8L342.5,672.6L344.9,670.9L347.2,670.0L349.8,672.8L352.4,675.4L355.0,677.6L357.6,673.7L360.2,669.4L362.9,664.2L365.8,662.3L368.7,660.0L371.7,665.6L374.6,670.5L377.2,668.9L379.8,666.8L382.4,664.7L385.3,660.6L388.3,657.0L391.2,659.9L394.1,663.7L396.7,663.8L399.3,663.1L402.0,662.3L404.9,663.0L407.8,664.5L410.8,686.3L414.7,657.9L416.9,660.2L419.2,661.2L421.5,662.0L423.8,660.7L426.2,659.7L428.5,659.1L430.9,658.0L433.2,657.5L435.6,656.9L437.9,656.4L440.2,656.1L442.6,655.4L444.9,655.3L447.3,654.3L449.7,652.0L452.2,648.6L454.6,646.1L457.1,643.8L460.0,650.8L462.9,658.8L466.8,666.3L469.4,672.8L472.0,678.3L474.7,685.0L478.6,670.2L481.0,677.9L483.4,687.0L485.7,682.0L488.0,676.5L490.3,671.7L492.9,670.5L495.5,670.0L498.1,668.4L500.7,669.8L503.3,671.6L505.9,672.5L508.5,670.8L511.1,669.7L513.8,667.6L516.1,667.4L518.4,666.7L520.8,665.4L523.1,665.5L525.5,664.0L527.8,664.3L530.2,663.3L532.5,662.7L534.9,662.6L537.2,662.6L540.1,666.8L543.1,671.9L545.5,670.4L548.0,668.5L550.4,666.3L552.9,664.2L555.2,664.0L557.5,662.8L559.9,662.9L562.2,661.3L564.6,660.8L566.9,660.0L569.3,658.9L571.6,657.6L574.0,656.0L576.3,653.9L579.2,658.5L582.2,662.2L584.6,660.6L587.1,658.1L589.5,656.1L592.0,654.8L594.6,655.3L597.2,657.1L599.8,658.8L602.4,655.4L605.0,652.2L607.6,648.8L610.3,648.8L613.0,648.1L615.8,648.1L618.2,650.4L620.7,652.5L623.1,654.5L625.6,656.1L628.0,655.8L630.4,657.2L632.9,658.1L635.3,657.8L637.8,657.0L640.2,656.1L643.3,661.4L646.3,668.5L649.2,664.0L652.0,660.2L654.9,656.0L657.3,655.8L659.8,655.5L662.2,661.0L664.7,665.4L667.1,660.1L669.5,656.0L672.0,650.8L674.4,648.4L676.9,645.9L679.3,646.8L681.8,646.0L684.2,646.7L686.6,646.9L689.1,646.3L691.5,644.7L694.0,643.8L696.4,639.9L698.9,636.1L701.3,635.4L703.8,634.4L706.2,633.9L708.6,634.0L711.1,633.6L713.5,634.0L716.0,634.1L718.4,634.2L720.9,633.4L723.3,632.5L725.7,632.0L728.2,632.7L730.6,631.6L733.1,631.3L735.5,630.1L738.0,629.0L740.4,628.1L742.9,626.5L745.3,624.3L747.7,623.6L750.2,622.2L752.6,620.8L755.1,618.9L757.5,617.9L760.0,616.1L762.4,614.3L764.8,612.7L767.3,604.1L769.7,595.0L772.2,586.9L774.6,577.7L777.1,584.4L779.5,591.2L782.0,597.3L784.4,595.5L786.8,594.5L789.3,592.9L791.7,592.2L794.2,600.4L796.6,608.1L799.1,617.1L801.5,620.2L803.9,624.4L806.4,629.1L808.7,629.1L811.0,630.0L813.4,630.3L815.7,631.3" fill="none" stroke="#e49a5a" stroke-width="2.4" stroke-linejoin="round" clip-path="url(#c2)"/>
<path d="M38.0,625.1L40.3,626.3L42.5,625.0L44.8,626.9L47.1,626.8L49.4,626.2L51.6,627.2L53.9,628.1L56.1,628.7L58.3,628.0L60.6,628.4L62.8,629.2L65.0,629.6L67.3,629.3L69.5,630.8L71.7,631.1L74.0,630.1L76.2,631.0L78.5,630.0L80.7,630.5L82.9,631.6L85.2,631.5L87.4,630.9L89.6,632.6L91.9,632.2L94.1,632.9L96.3,632.3L98.6,633.2L100.8,633.8L103.0,633.9L105.3,633.8L107.5,634.5L109.7,634.9L112.0,634.4L114.2,635.6L116.4,634.2L118.7,634.5L120.9,635.7L123.1,635.2L125.4,635.6L127.6,634.3L129.8,634.9L132.1,635.8L134.3,635.6L136.5,635.8L138.8,635.8L141.0,636.3L143.2,636.1L145.5,635.3L147.7,635.3L150.0,636.5L152.2,635.8L154.4,634.7L156.7,635.0L158.9,635.8L161.1,635.3L163.4,635.8L165.6,634.0L167.8,634.4L170.1,635.3L172.3,635.2L174.5,634.8L176.8,634.7L179.0,634.8L181.2,633.8L183.5,633.2L185.7,633.8L187.9,632.8L190.2,633.9L192.4,633.3L194.6,632.4L196.9,633.0L199.1,633.2L201.3,632.8L203.6,631.5L205.8,631.9L208.0,632.8L210.3,632.3L212.5,630.6L214.7,631.8L217.0,631.7L219.2,631.0L221.4,630.6L223.7,630.1L226.0,629.8L228.4,630.5L230.7,631.1L233.1,632.9L235.4,632.9L237.9,631.5L240.5,631.2L243.0,631.6L245.6,630.0L248.0,630.3L250.4,629.8L252.9,628.8L255.3,629.8L257.8,628.9L260.2,628.4L262.7,629.7L265.1,629.8L267.5,628.8L270.0,629.6L272.4,629.6L274.9,630.3L277.3,630.0L279.8,630.5L282.2,629.7L284.7,630.4L286.9,629.8L289.1,631.4L291.4,630.7L293.6,632.0L295.8,632.6L298.1,633.0L300.3,633.6L302.5,633.7L304.8,633.3L307.0,633.7L309.2,634.0L311.5,634.8L313.7,635.5L315.9,634.1L318.4,634.9L320.8,635.9L323.3,635.0L325.7,635.1L328.2,636.6L330.6,635.5L333.0,636.6L335.5,636.3L337.9,637.1L340.4,636.0L342.8,637.1L345.3,637.5L347.7,636.3L350.1,636.6L352.6,636.4L355.0,636.7L357.5,637.5L359.9,636.7L362.4,635.6L364.8,636.7L367.3,635.1L369.7,634.9L372.1,634.3L374.6,634.3L377.0,634.4L379.5,633.6L381.9,634.3L384.4,633.3L386.8,634.0L389.2,634.3L391.7,633.2L394.1,632.9L396.6,633.2L399.0,632.3L401.5,631.7L403.9,631.1L406.4,631.3L408.8,629.8L411.2,629.1L413.7,629.2L416.0,629.3L418.4,628.4L420.7,628.3L423.1,627.3L425.4,627.4L427.7,626.3L430.1,625.1L432.4,624.3L434.8,623.5L437.1,622.1L439.5,622.0L441.9,621.8L444.3,619.3L446.8,619.2L449.2,617.1L452.2,613.6L455.1,609.5L457.7,612.2L460.3,615.6L462.9,619.4L465.5,620.5L468.1,623.2L470.7,625.4L473.1,626.1L475.4,624.8L477.8,626.4L480.1,626.0L482.5,626.7L484.8,625.3L487.2,626.4L489.5,626.1L491.9,626.4L494.2,625.6L496.5,627.0L498.9,627.2L501.2,625.9L503.6,626.2L505.9,626.7L508.3,628.3L510.6,628.5L513.0,628.9L515.3,629.6L517.7,630.9L519.9,630.4L522.1,630.2L524.4,629.9L526.6,628.9L528.8,628.8L531.1,628.7L533.3,628.6L535.5,628.0L537.8,628.9L540.0,627.5L542.2,628.3L544.5,628.0L546.7,627.7L548.9,627.7L551.2,626.2L553.4,627.6L555.6,626.9L557.9,626.5L560.1,626.7L562.3,625.9L564.6,626.7L566.8,624.7L569.1,624.3L571.3,624.9L573.5,624.0L575.8,624.1L578.0,622.4L580.2,621.7L582.6,622.3L584.9,621.6L587.3,622.7L589.6,621.6L592.0,622.4L594.3,623.3L596.6,623.9L599.0,624.8L601.3,625.1L603.7,625.1L606.0,625.2L608.4,625.5L610.7,627.0L613.1,626.4L615.4,627.3L617.9,628.1L620.5,626.8L623.0,627.2L625.6,627.9L628.0,628.6L630.4,628.2L632.9,629.3L635.3,629.3L637.8,629.2L640.2,630.4L642.7,631.5L645.1,631.7L647.5,631.7L650.0,631.7L652.4,632.7L654.9,633.3L657.3,633.3L659.8,632.7L662.2,633.0L664.7,632.9L667.1,633.0L669.5,634.1L672.0,633.4L674.4,633.7L676.9,635.1L679.3,634.2L681.8,634.7L684.2,635.3L686.6,634.4L689.1,633.6L691.5,634.6L694.0,634.0L696.4,632.6L698.9,633.5L701.3,633.4L703.8,632.1L706.2,633.0L708.6,631.5L711.1,631.7L713.5,632.4L716.0,631.4L718.4,630.5L720.9,631.4L723.3,631.6L725.7,630.3L728.2,630.8L730.6,630.9L733.1,629.2L735.5,628.9L738.0,625.8L740.4,624.5L742.9,623.4L745.3,621.3L747.7,619.3L750.2,617.8L752.6,615.9L755.1,613.0L757.5,612.3L760.0,610.7L762.4,608.6L764.8,600.8L767.3,592.8L769.7,584.8L772.2,577.5L774.6,570.5L777.1,571.9L779.5,573.2L782.0,574.5L785.0,586.6L788.1,597.4L791.1,601.1L794.2,607.0L796.6,611.5L799.1,615.8L801.5,620.8L803.9,622.3L806.2,624.6L808.6,626.1L811.0,626.8L813.3,629.4L815.7,630.1" fill="none" stroke="#df8f5e" stroke-width="2.4" stroke-linejoin="round" clip-path="url(#c2)"/>
<path d="M38.0,613.4L40.4,613.8L42.9,613.3L45.3,613.8L47.7,613.9L50.3,614.9L52.9,616.7L55.6,617.3L58.0,619.4L60.4,620.7L62.9,622.3L65.3,624.3L67.8,624.0L70.2,622.9L72.7,622.7L75.1,622.7L77.4,622.8L79.8,623.7L82.1,623.0L84.5,624.1L86.8,624.8L89.1,624.9L91.4,625.7L93.7,626.4L96.0,626.5L98.2,627.6L100.5,628.2L102.8,627.8L105.1,628.0L107.4,627.7L109.6,627.3L111.9,627.5L114.2,626.8L116.5,628.0L118.8,627.9L121.0,629.0L123.3,628.5L125.6,630.0L127.9,630.4L130.4,629.9L132.9,630.0L135.4,630.7L137.9,631.0L140.5,630.9L143.0,631.6L145.5,632.5L147.8,632.1L150.2,631.8L152.5,630.7L154.9,630.8L157.2,630.6L159.4,629.6L161.7,630.9L163.9,630.9L166.1,630.2L168.4,630.7L170.6,630.3L172.9,631.1L175.3,631.5L177.7,630.7L180.2,630.1L182.6,630.2L185.1,630.2L187.5,629.7L190.0,630.6L192.4,629.9L194.8,629.4L197.3,630.4L199.7,629.7L202.2,629.8L204.6,630.5L207.1,629.9L209.5,629.6L212.0,629.9L214.3,630.7L216.6,630.6L219.0,629.9L221.3,631.0L223.7,629.9L226.0,630.6L228.4,631.4L230.7,630.6L233.1,630.3L235.4,631.5L238.5,630.2L241.6,629.7L243.9,628.4L246.1,629.3L248.3,629.4L250.6,629.3L252.8,628.5L255.0,628.4L257.3,629.5L259.5,628.9L261.7,629.3L264.0,628.2L266.2,629.1L268.5,628.4L270.7,628.4L272.9,628.2L275.2,628.5L277.4,628.2L279.6,627.9L281.9,628.4L284.1,628.6L286.3,628.8L288.6,629.4L291.2,628.4L293.8,627.1L296.4,626.4L298.6,628.2L300.8,627.7L303.1,628.0L305.3,628.4L307.6,628.5L309.8,629.2L312.0,630.0L314.3,630.4L316.5,630.7L318.7,629.6L321.0,629.5L323.2,629.5L325.4,629.7L327.7,629.5L329.9,630.2L332.1,630.0L334.4,629.9L336.6,629.7L338.8,628.7L341.1,629.3L343.3,629.4L345.5,629.3L347.8,629.0L350.0,628.8L352.2,628.2L354.5,628.1L356.7,627.0L358.9,627.7L361.2,626.3L363.4,626.3L365.6,625.7L367.9,625.9L370.1,625.7L372.3,625.2L374.6,624.9L377.2,625.2L379.8,624.0L382.4,624.2L385.0,623.8L387.6,623.9L390.2,623.6L392.6,622.7L394.9,622.9L397.3,621.3L399.6,621.1L402.0,621.6L404.3,621.0L406.6,621.9L409.0,620.9L411.3,620.8L413.7,621.1L416.0,621.3L418.4,620.9L420.7,620.7L423.1,620.8L425.4,619.7L427.7,617.6L430.1,617.2L432.4,617.0L434.8,617.1L437.1,616.1L439.5,615.6L442.1,613.5L444.7,613.2L447.3,612.1L450.2,607.7L453.1,604.1L455.4,607.5L457.7,610.0L460.0,613.8L462.3,616.5L464.6,619.1L466.8,621.2L469.2,621.5L471.5,620.5L473.9,620.7L476.2,620.0L478.6,619.9L480.9,621.5L483.3,621.1L485.6,622.5L487.9,622.4L490.3,623.8L492.6,622.1L495.0,622.3L497.3,621.6L499.7,621.0L502.0,621.8L504.4,622.0L506.7,620.9L509.1,621.3L511.4,622.1L513.8,621.6L516.1,622.7L518.4,622.9L520.8,624.1L523.1,623.9L525.5,624.4L527.8,624.6L530.2,623.4L532.5,624.0L534.9,622.9L537.2,621.6L539.4,621.4L541.7,621.3L543.9,621.5L546.1,621.7L548.4,622.0L550.6,620.8L552.9,621.2L555.2,620.7L557.5,619.8L559.9,620.5L562.2,619.8L564.6,619.6L566.9,619.1L569.3,618.5L571.6,617.4L574.0,617.9L576.3,616.8L578.9,617.2L581.5,616.0L584.1,615.6L586.6,614.3L589.0,613.1L591.5,612.3L593.9,612.1L596.5,612.2L599.1,613.7L601.7,614.9L604.0,616.0L606.3,615.7L608.6,617.0L610.9,616.8L613.1,616.9L615.4,617.1L618.0,618.4L620.7,619.0L623.1,619.4L625.6,619.9L628.0,620.1L630.4,621.5L632.9,621.4L635.3,621.9L637.8,622.9L640.2,623.4L642.7,623.5L645.1,623.7L647.5,623.0L650.0,623.2L652.4,623.0L654.9,623.1L657.3,623.1L659.8,623.3L662.2,623.7L664.7,625.3L667.1,625.4L669.5,625.6L672.0,625.5L674.4,626.9L676.9,626.3L679.3,626.1L681.8,624.9L684.2,625.7L686.6,625.1L689.1,624.5L691.5,624.3L694.0,623.5L696.4,623.4L698.9,623.6L701.3,623.9L703.8,623.3L706.2,623.3L708.6,623.4L711.1,622.6L713.5,621.7L716.0,621.4L718.4,621.5L720.9,620.9L723.3,621.4L725.7,621.2L728.2,620.0L730.6,619.8L733.1,619.3L735.5,618.7L738.0,616.8L740.4,616.8L742.9,616.1L745.3,615.5L747.7,614.2L750.2,613.2L752.6,611.9L755.1,610.1L757.5,608.2L760.0,606.4L762.4,606.2L764.8,599.1L767.3,592.2L769.7,586.4L772.2,579.5L774.6,572.1L778.3,569.2L781.3,573.0L784.4,576.9L786.8,583.5L789.3,588.3L791.7,594.3L794.2,597.8L796.6,601.7L799.1,606.2L801.5,609.7L803.9,610.4L806.2,612.5L808.6,613.9L811.0,614.4L813.3,616.8L815.7,617.8" fill="none" stroke="#d17768" stroke-width="2.4" stroke-linejoin="round" clip-path="url(#c2)"/>
<path d="M38.0,606.5L40.4,607.3L42.9,608.9L45.3,609.6L47.7,610.3L50.1,610.0L52.4,611.4L54.8,611.0L57.1,612.5L59.5,613.2L61.7,613.2L63.9,614.0L66.2,613.4L68.4,614.1L70.6,613.7L72.9,615.0L75.1,616.0L77.4,616.2L79.8,617.4L82.1,616.3L84.5,617.5L86.8,618.5L89.3,618.4L91.9,619.4L94.4,619.4L96.9,618.3L99.4,619.2L101.9,618.3L104.4,618.8L106.7,620.0L109.0,620.4L111.3,620.8L113.5,621.1L115.8,620.3L118.1,621.0L120.3,621.4L122.6,621.6L124.8,621.8L127.0,621.7L129.3,621.8L131.5,622.2L133.8,623.0L136.1,621.9L138.4,620.8L140.8,621.9L143.1,619.9L145.5,620.5L147.7,619.4L150.0,619.6L152.2,620.2L154.4,619.0L156.7,619.0L158.9,617.9L161.1,617.4L163.4,617.5L165.6,617.3L167.8,616.9L170.1,616.1L172.3,616.7L174.5,616.6L176.8,614.4L179.0,615.6L181.2,614.9L183.5,615.2L185.7,614.6L187.9,613.6L190.2,614.6L192.4,614.2L194.6,613.7L196.9,612.6L199.1,613.0L201.3,613.5L203.6,611.9L205.8,612.9L208.0,613.3L210.3,613.1L212.5,611.3L214.7,612.0L217.0,611.5L219.2,611.2L221.4,612.0L223.7,611.0L226.0,611.8L228.4,612.4L230.7,611.3L233.1,611.6L235.4,612.4L237.7,609.7L240.2,610.3L242.6,611.6L245.1,611.4L247.5,612.9L249.8,612.2L252.1,611.1L254.3,609.0L256.6,609.3L258.9,608.1L261.2,606.5L263.5,607.2L265.9,607.6L268.2,607.9L270.6,609.6L272.9,609.6L275.4,609.3L277.8,608.1L280.3,607.9L282.7,607.0L284.7,615.0L287.0,613.9L289.3,615.1L291.7,614.5L294.0,615.6L296.4,615.4L299.0,616.5L301.6,615.8L304.2,616.5L308.1,619.9L311.0,621.4L314.0,624.5L316.4,623.4L318.9,621.8L321.3,620.6L323.8,617.9L326.1,619.1L328.4,620.3L330.8,619.2L333.1,621.2L335.5,620.8L338.1,620.5L340.7,618.7L343.3,617.3L345.7,616.1L348.2,614.7L350.6,613.8L353.1,613.7L355.5,613.3L358.0,612.4L360.4,612.2L362.9,612.6L365.2,613.2L367.5,613.4L369.9,613.8L372.2,614.1L374.6,615.1L377.2,614.0L379.8,612.5L382.4,611.3L384.7,611.4L387.1,612.1L389.4,611.7L391.8,612.5L394.1,611.9L396.7,610.5L399.3,608.6L402.0,606.9L404.3,606.7L406.6,606.9L409.0,607.4L411.3,606.8L413.7,607.5L416.0,606.3L418.4,606.5L420.7,605.6L423.1,606.5L425.4,605.9L427.7,606.6L430.1,606.1L432.4,604.6L434.8,603.5L437.1,602.0L439.5,601.3L441.9,600.8L444.3,599.1L446.8,598.0L449.2,595.3L451.8,591.5L454.4,587.5L457.1,583.4L460.0,591.1L462.9,597.2L465.5,599.8L468.1,601.2L470.7,602.2L473.3,603.2L476.0,603.1L478.6,603.1L482.5,608.8L484.8,608.6L487.2,608.5L489.5,608.3L491.9,607.4L494.2,608.0L496.8,608.9L499.4,608.9L502.0,609.3L504.6,610.1L507.2,610.8L509.8,612.3L512.4,610.8L515.1,608.9L517.7,607.3L520.0,606.4L522.4,606.5L524.7,606.5L527.0,606.3L529.4,606.3L531.8,604.7L534.3,604.3L536.7,603.8L539.2,603.4L541.4,603.8L543.7,603.6L546.0,602.7L548.3,604.6L550.6,604.6L552.9,603.9L555.5,605.1L558.1,607.2L560.7,606.7L563.3,606.1L565.9,604.3L568.5,602.2L570.8,600.8L573.2,601.5L575.5,601.0L577.9,599.2L580.2,600.2L582.8,599.8L585.4,598.0L588.0,598.5L590.4,597.4L592.7,598.8L595.1,597.5L597.4,597.7L599.8,598.0L602.4,598.2L605.0,597.0L607.6,596.2L610.2,598.2L612.8,598.2L615.4,600.1L618.0,602.0L620.7,603.8L623.1,611.3L625.6,608.1L628.0,605.7L630.4,604.2L632.9,603.8L635.3,604.8L637.8,603.8L640.2,604.0L642.7,604.7L645.1,604.6L647.5,603.8L650.0,603.4L652.4,604.3L654.9,603.6L657.3,603.4L659.8,603.3L662.2,603.7L664.7,604.8L667.1,607.5L669.5,607.5L672.0,608.9L674.4,611.0L676.9,610.5L679.3,610.5L681.8,608.5L684.2,609.6L686.6,608.4L689.1,608.9L691.5,607.9L694.0,608.1L696.4,610.1L698.9,609.5L701.3,609.8L703.8,610.5L706.2,610.5L708.6,611.1L711.1,610.9L713.5,611.9L716.0,611.1L718.4,611.3L720.9,610.0L723.3,609.2L725.7,609.4L728.2,607.3L730.6,606.3L733.1,606.2L735.5,603.8L738.0,603.9L740.4,603.2L742.9,601.0L745.3,599.7L747.7,599.7L750.2,597.5L752.6,596.9L755.1,595.0L757.5,594.2L760.0,593.4L762.4,592.7L764.8,588.2L767.3,581.8L769.7,578.3L772.2,571.8L776.6,543.9L780.7,564.7L783.8,564.9L786.8,562.9L789.3,569.9L791.7,578.1L794.2,584.2L796.6,587.9L799.1,591.4L801.5,594.2L803.9,597.4L806.3,598.0L808.6,597.8L811.0,597.3L813.3,597.8L815.7,598.3" fill="none" stroke="#c46470" stroke-width="2.4" stroke-linejoin="round" clip-path="url(#c2)"/>
<path d="M38.0,578.2L40.9,579.0L43.8,581.1L46.3,581.4L48.7,580.9L51.2,579.6L53.6,581.0L55.9,581.2L58.2,582.0L60.4,583.1L62.7,584.2L65.0,585.8L67.3,587.7L69.5,587.3L71.7,587.2L74.0,588.6L76.2,589.1L78.5,588.6L80.7,589.1L82.9,589.3L85.2,590.9L87.4,590.5L89.6,590.6L91.9,592.0L94.1,592.1L96.3,592.3L98.6,592.1L100.8,592.5L103.0,592.8L105.3,592.5L107.5,592.6L109.7,592.3L112.0,590.8L114.2,591.3L116.5,591.1L118.9,589.3L121.2,589.1L123.6,588.7L125.9,588.2L128.3,590.4L130.6,590.7L133.0,591.3L135.3,591.6L137.7,591.1L140.1,592.8L142.5,593.3L145.0,593.3L147.4,595.0L149.7,593.5L152.0,593.4L154.3,593.9L156.6,593.6L158.8,592.8L161.1,592.2L163.4,592.0L165.6,592.7L167.8,592.7L170.1,592.1L172.3,593.1L174.5,592.6L176.8,593.6L179.0,593.3L181.2,593.5L183.5,592.0L185.7,593.1L187.9,593.5L190.2,592.5L192.4,593.1L194.6,592.7L196.9,592.4L199.1,593.0L201.3,592.2L203.6,592.6L205.8,592.1L208.0,591.3L210.3,591.0L212.5,591.1L214.7,590.1L217.0,590.2L219.2,589.2L221.4,589.3L223.7,588.3L226.0,588.2L228.4,587.7L230.7,588.1L233.1,587.3L235.4,588.0L237.7,587.1L240.0,586.9L242.2,586.6L244.4,586.8L246.7,586.2L248.9,585.9L251.1,585.9L253.4,585.9L255.6,585.2L257.8,586.6L260.1,586.4L262.3,586.7L264.5,585.6L266.8,585.1L269.0,586.8L271.4,586.4L273.7,584.8L276.0,584.4L278.4,584.9L280.7,584.0L283.1,585.6L285.4,586.4L287.8,586.3L290.1,587.8L292.5,587.8L294.7,588.8L296.9,588.9L299.2,588.4L301.4,588.0L303.6,587.8L305.9,588.3L308.1,589.2L310.3,590.0L312.6,589.0L314.8,589.8L317.0,590.2L319.3,588.8L321.5,589.4L323.8,589.4L326.0,590.6L328.2,590.1L330.5,589.2L332.7,589.5L334.9,590.3L337.2,589.2L339.4,590.6L341.7,589.8L344.1,591.3L346.4,590.8L348.8,592.1L351.1,592.4L353.5,593.5L355.8,593.1L358.2,591.8L360.5,591.3L362.9,591.8L365.2,591.8L367.5,590.8L369.9,590.1L372.2,588.8L374.6,588.1L376.8,588.2L379.1,588.4L381.3,588.7L383.5,589.0L385.8,588.6L388.0,588.3L390.2,587.3L392.6,587.3L394.9,586.7L397.3,587.1L399.6,586.6L402.0,585.2L404.3,586.0L406.6,585.0L409.0,585.3L411.3,584.2L413.7,584.1L416.0,583.6L418.4,582.1L420.7,581.5L423.1,580.2L425.4,579.0L427.7,578.4L430.1,578.1L432.4,576.3L434.8,575.4L437.1,575.9L439.5,573.7L441.9,572.9L444.3,571.9L446.8,571.4L449.2,569.6L452.2,558.8L455.1,549.6L458.0,535.0L461.9,567.6L464.4,570.9L466.8,572.6L469.4,574.6L472.0,575.4L474.7,576.7L477.3,577.5L479.9,577.3L482.5,577.3L484.8,577.5L487.2,578.2L489.5,578.1L491.9,578.3L494.2,578.3L496.6,579.4L499.1,581.2L501.5,581.7L504.0,581.5L506.4,582.5L508.9,582.5L511.3,582.5L513.8,583.6L516.1,583.1L518.4,582.3L520.8,582.2L523.1,581.7L525.5,581.8L527.8,582.6L530.2,582.6L532.5,581.8L534.9,582.1L537.2,581.9L539.6,581.8L541.9,582.3L544.3,583.0L546.6,583.3L548.9,583.7L551.3,584.5L553.6,583.9L556.0,583.3L558.3,581.9L560.7,581.4L563.0,581.1L565.4,581.6L567.7,580.7L570.1,581.1L572.4,580.7L574.8,580.3L577.3,579.9L579.7,578.4L582.2,578.4L584.5,575.9L586.7,575.3L589.0,574.0L591.3,574.3L593.6,574.8L595.9,576.7L598.3,575.4L600.8,573.3L603.2,572.8L605.6,572.2L608.6,573.2L611.5,576.3L615.8,580.1L618.2,580.7L620.7,581.3L623.1,583.2L625.6,583.5L628.0,584.2L630.4,584.2L632.9,585.7L635.3,585.7L637.8,586.6L640.2,586.3L642.7,586.6L645.1,586.8L647.5,587.1L650.0,587.2L652.4,588.3L654.9,588.2L657.3,587.2L659.8,588.4L662.2,587.3L664.7,589.0L667.1,589.1L669.5,589.0L672.0,587.9L674.4,587.2L676.9,587.7L679.3,588.2L681.8,587.1L684.2,585.8L686.6,586.3L689.1,585.6L691.5,585.5L694.0,586.7L696.4,586.3L698.9,586.9L701.3,587.6L703.8,587.6L706.2,587.2L708.6,586.5L711.1,587.9L713.5,586.9L716.0,587.5L718.4,588.6L720.9,588.8L723.3,588.3L725.7,588.9L728.2,588.3L730.6,586.9L733.1,587.8L735.5,586.9L738.0,586.1L740.4,584.4L742.9,583.9L745.3,583.6L747.7,582.0L750.2,581.5L752.6,580.7L755.1,579.6L757.5,578.5L760.0,579.1L762.4,577.8L764.8,572.3L767.3,566.5L769.7,561.2L772.2,555.9L776.6,513.4L780.7,540.1L783.2,537.0L785.6,534.2L788.1,549.5L790.5,564.8L793.3,567.6L796.0,569.3L798.8,571.2L801.5,572.2L803.9,572.6L806.2,573.8L808.6,575.7L811.0,575.2L813.3,576.2L815.7,577.5" fill="none" stroke="#89258a" stroke-width="2.4" stroke-linejoin="round" clip-path="url(#c2)"/>
<path d="M38.0,558.7L40.9,558.1L43.8,556.5L46.4,558.4L49.0,560.2L51.6,562.5L53.9,563.1L56.2,563.6L58.5,564.8L60.8,565.5L63.0,565.9L65.3,566.6L67.7,567.9L70.0,569.1L72.4,571.3L74.7,572.9L77.1,573.8L79.3,573.4L81.6,573.6L83.9,573.5L86.2,573.9L88.5,573.1L90.7,573.5L93.1,573.5L95.4,573.6L97.8,574.1L100.1,574.7L102.5,575.4L104.8,575.5L107.2,575.3L109.5,575.1L111.9,574.8L114.2,574.4L117.1,575.4L120.1,576.9L122.7,575.4L125.3,574.5L127.9,573.8L130.2,574.9L132.4,576.0L134.7,577.2L137.0,577.7L139.3,579.0L141.6,579.9L143.9,580.2L146.3,579.2L148.6,578.6L151.0,578.3L153.3,578.6L155.5,578.4L157.8,578.5L160.0,578.6L162.2,579.1L164.5,579.1L166.7,579.8L168.9,580.1L171.2,580.4L173.4,579.5L175.6,579.7L177.9,579.2L180.1,579.0L182.3,579.6L184.6,579.0L186.8,578.9L189.1,579.7L191.3,579.7L193.5,579.3L195.8,580.1L198.0,579.7L200.2,580.4L202.5,580.2L204.7,581.0L206.9,581.3L209.2,581.4L211.4,581.1L213.6,581.9L215.9,581.9L218.3,582.3L220.8,581.8L223.2,581.5L225.6,580.8L228.1,580.6L230.5,580.7L233.0,580.4L235.4,580.4L237.7,579.3L240.0,579.3L242.2,579.0L244.4,579.6L246.7,579.9L248.9,579.9L251.1,580.4L253.4,580.6L255.7,579.8L258.1,579.7L260.4,579.6L262.8,579.4L265.1,579.3L267.4,579.5L269.8,580.1L272.1,580.7L274.5,581.9L276.8,582.5L279.2,582.0L281.5,580.9L283.9,580.9L286.2,580.4L288.6,580.2L290.8,579.6L293.0,579.4L295.3,579.6L297.5,580.0L299.7,579.4L302.0,579.2L304.2,579.1L306.4,579.7L308.7,579.0L310.9,579.3L313.1,579.7L315.4,580.0L317.6,580.2L319.8,580.0L322.2,580.2L324.5,579.0L326.9,578.9L329.2,578.5L331.6,578.4L333.9,578.5L336.3,579.0L338.6,579.0L341.0,579.2L343.3,579.5L345.6,578.1L348.0,578.0L350.3,577.3L352.7,577.3L355.0,576.3L357.4,576.4L359.7,576.9L362.1,577.2L364.4,577.0L366.8,576.9L369.1,576.5L371.5,576.5L373.8,576.4L376.1,575.4L378.5,574.8L381.1,574.4L383.7,573.7L386.3,572.4L388.7,572.6L391.0,573.6L393.4,573.7L395.7,574.1L398.0,574.1L400.4,573.8L402.7,572.7L405.1,571.8L407.4,570.6L409.8,569.4L412.0,568.6L414.2,568.8L416.5,568.2L418.7,567.3L420.9,566.3L423.2,565.8L425.4,565.8L427.7,564.6L430.2,564.5L432.6,564.0L435.1,563.5L437.5,562.4L440.4,560.7L443.4,558.4L446.3,555.7L449.2,552.9L452.2,541.8L455.1,530.9L458.0,527.8L460.5,539.1L462.9,550.5L465.5,553.6L468.1,556.2L470.7,558.6L473.2,559.0L475.6,559.6L478.1,560.0L480.5,560.3L483.1,561.1L485.7,561.1L488.3,561.8L490.9,562.8L493.5,565.3L496.2,566.3L498.6,564.9L501.0,563.7L503.5,563.1L505.9,561.1L508.5,562.7L511.1,563.5L513.8,564.7L516.1,565.0L518.4,566.0L520.8,566.2L523.1,566.8L525.5,567.5L527.8,566.8L530.2,566.0L532.5,566.1L534.9,564.8L537.2,564.7L539.4,564.4L541.7,565.3L543.9,565.0L546.1,565.6L548.4,566.3L550.6,566.0L552.9,566.6L555.2,566.2L557.5,565.3L559.9,565.0L562.2,565.0L564.6,564.7L566.8,564.5L569.1,563.9L571.3,563.2L573.5,563.7L575.8,563.3L578.0,562.6L580.2,562.3L583.2,560.2L586.1,559.1L590.0,564.5L592.4,563.5L594.9,561.8L597.3,559.7L599.8,559.0L602.7,556.8L605.6,555.2L608.6,556.6L611.5,558.2L615.4,562.3L618.0,563.2L620.7,563.6L623.1,564.3L625.6,563.5L628.0,563.1L630.4,563.4L632.9,563.5L635.3,562.8L637.8,563.5L640.2,564.6L642.7,564.4L645.1,565.4L647.5,565.8L650.0,566.5L652.4,567.0L654.9,567.4L657.3,567.8L659.8,566.7L662.2,566.7L664.7,566.3L667.1,566.3L669.5,566.3L672.0,565.4L674.4,565.5L676.9,564.5L679.3,564.4L681.8,564.2L684.2,564.0L686.6,563.8L689.1,563.3L691.5,563.5L694.0,563.7L696.4,564.3L698.9,564.1L701.3,565.0L703.8,564.9L706.2,565.0L708.6,565.0L711.1,564.2L713.5,564.0L716.0,563.0L718.4,562.6L720.9,561.9L723.3,561.2L725.7,561.3L728.2,560.0L730.6,560.2L733.1,559.3L735.5,558.7L738.0,557.9L740.4,556.6L742.9,555.9L745.3,554.7L747.7,554.0L750.2,552.7L752.6,552.3L755.1,549.6L757.5,548.2L760.0,546.5L762.4,544.6L764.8,538.3L767.3,531.7L769.7,524.8L772.2,519.2L776.6,486.3L780.7,503.8L783.2,503.9L785.6,504.2L789.3,518.8L792.3,527.1L795.4,534.7L798.2,536.3L801.1,539.2L803.9,540.5L806.4,541.4L808.8,542.5L811.3,543.6L815.7,543.3" fill="none" stroke="#74148c" stroke-width="2.4" stroke-linejoin="round" clip-path="url(#c2)"/>
<path d="M38.0,536.2L39.9,544.3L42.5,543.6L45.1,542.5L47.7,541.8L50.7,541.2L53.6,540.4L56.5,545.6L59.5,551.6L62.1,551.4L64.7,551.0L67.3,551.4L71.2,557.7L73.6,558.7L76.1,559.6L78.5,561.8L81.0,562.7L83.6,563.1L86.2,562.7L88.8,562.5L91.4,563.0L94.0,564.1L96.6,564.5L99.0,564.5L101.5,564.0L103.9,562.9L106.4,562.9L109.0,563.2L111.6,564.2L114.2,564.0L116.6,563.0L119.1,561.5L121.5,560.2L124.0,558.8L126.9,561.2L129.8,563.3L132.4,562.9L135.1,563.3L137.7,562.5L140.3,562.5L142.9,563.4L145.5,563.8L148.1,565.0L150.7,565.7L153.3,566.2L155.7,566.0L158.2,564.9L160.6,564.3L163.1,563.0L165.5,564.8L168.0,566.2L170.4,567.7L172.9,569.6L175.8,566.9L178.7,563.9L181.1,564.6L183.4,565.1L185.8,566.0L188.1,567.5L190.4,568.1L192.9,567.8L195.3,567.1L197.8,567.4L200.2,566.5L203.2,569.7L206.1,573.7L209.0,568.4L212.0,563.5L214.6,564.7L217.2,566.3L219.8,567.7L222.4,566.1L225.0,564.6L227.6,563.1L230.7,564.1L233.8,564.2L236.4,565.5L239.0,566.8L241.6,568.3L243.9,567.8L246.2,567.2L248.5,565.6L250.8,564.8L253.0,564.1L255.3,563.8L258.3,568.1L261.2,566.8L264.1,565.1L267.1,563.4L270.0,568.1L272.4,564.9L274.9,561.3L277.5,562.5L280.1,564.4L282.7,565.2L285.0,565.2L287.4,564.5L289.7,563.5L292.1,563.4L294.4,562.4L297.4,560.8L300.3,559.1L302.7,560.7L305.2,562.6L307.6,565.0L310.1,566.1L313.0,562.6L315.9,558.5L318.3,559.3L320.6,561.0L323.0,562.1L325.3,563.5L327.7,564.6L330.3,563.4L332.9,561.8L335.5,561.0L337.9,561.5L340.4,562.1L342.8,563.8L345.3,564.3L348.2,562.6L351.1,560.1L354.1,562.2L357.0,565.0L359.6,563.3L362.2,562.1L364.8,561.0L367.3,559.9L369.7,559.6L372.1,558.3L374.6,557.3L377.5,560.1L380.4,562.1L383.4,561.0L386.3,558.9L388.8,558.4L391.2,558.7L393.6,558.4L396.1,559.0L398.4,558.0L400.8,558.0L403.1,557.7L405.5,557.0L407.8,556.7L410.4,556.7L413.0,556.0L415.6,555.9L418.4,555.6L421.1,556.0L423.8,555.5L427.7,552.8L430.7,553.0L433.6,552.4L437.5,550.0L441.4,553.3L445.3,547.6L447.8,539.7L450.2,531.0L453.1,526.9L456.1,523.6L458.4,530.0L460.6,535.9L462.9,541.6L465.4,545.2L467.8,547.0L470.3,550.2L472.7,552.5L475.6,550.1L478.6,547.5L482.5,556.6L484.9,553.0L487.4,548.4L489.8,553.8L492.2,557.6L494.7,557.0L497.1,555.8L499.6,554.3L502.0,553.9L504.6,555.6L507.2,557.7L509.8,560.1L512.2,558.4L514.5,557.0L516.9,555.7L519.2,555.1L521.6,553.8L524.2,554.9L526.8,556.0L529.4,557.7L532.3,555.8L535.3,555.2L538.2,556.4L541.1,558.4L543.5,558.9L545.8,559.0L548.2,558.8L550.5,558.8L552.9,558.5L555.8,559.8L558.7,561.6L561.2,560.5L563.6,560.0L566.0,558.9L568.5,557.9L570.8,557.7L573.2,556.8L575.5,556.2L577.9,556.5L580.2,556.0L582.8,553.7L585.4,552.5L588.0,550.4L590.6,551.2L593.3,552.3L595.9,552.9L598.5,553.6L601.1,553.9L603.7,553.7L606.3,555.6L608.9,557.4L611.5,558.8L615.8,553.4L618.2,553.4L620.7,554.2L623.1,555.4L625.6,555.8L628.0,557.1L630.4,558.1L632.9,559.0L635.3,559.6L637.8,560.1L640.2,558.7L642.7,557.9L645.1,556.3L647.5,555.9L650.0,554.0L652.4,554.7L654.9,555.0L657.3,555.0L659.8,555.5L662.2,555.5L664.7,554.6L667.1,553.9L669.5,552.9L672.0,555.5L674.4,558.0L676.9,555.7L679.3,553.4L681.8,552.7L684.2,552.1L686.6,551.6L689.1,550.5L691.5,550.1L694.0,549.1L696.4,552.9L698.9,555.3L701.3,553.9L703.8,552.1L706.2,551.1L708.6,551.8L711.1,553.2L713.5,554.2L716.0,555.5L718.4,554.6L720.9,553.2L723.3,552.7L725.7,551.6L728.2,550.4L730.4,550.0L732.6,549.8L734.9,550.3L737.1,550.0L739.3,549.8L741.5,549.7L743.7,549.5L746.0,549.3L748.2,548.4L750.4,548.7L752.6,548.0L755.1,546.1L757.5,544.3L760.0,541.7L762.4,539.5L764.8,536.9L767.3,533.9L769.7,530.9L772.2,528.9L774.6,521.2L777.1,514.4L779.5,517.8L782.0,520.8L784.4,525.1L786.8,529.1L789.3,531.0L791.7,533.8L794.2,536.3L796.6,537.7L799.1,539.3L801.5,540.9L803.9,541.0L806.4,541.6L808.8,542.3L811.1,539.9L813.4,538.0L815.7,536.0" fill="none" stroke="#560c89" stroke-width="2.4" stroke-linejoin="round" clip-path="url(#c2)"/>
<path d="M43.8,528.3L46.4,527.5L49.0,527.1L51.6,526.5L53.9,527.3L56.1,528.2L58.3,529.0L60.6,529.5L62.8,530.7L65.0,531.5L67.3,532.3L69.9,534.4L72.5,537.0L75.1,539.2L77.4,539.2L79.7,539.4L81.9,539.5L84.2,540.0L86.5,540.0L88.8,539.9L91.4,541.6L94.0,542.9L96.6,544.0L98.9,542.9L101.2,542.6L103.4,541.8L105.7,540.5L108.0,540.0L110.3,539.0L112.5,538.6L114.8,537.8L117.0,537.2L119.2,536.8L121.5,536.1L123.7,536.0L125.9,535.5L128.4,536.7L130.8,538.3L133.3,540.1L135.7,541.2L138.0,541.2L140.3,541.2L142.5,540.5L145.0,541.7L147.4,542.7L149.9,543.9L152.3,544.8L154.8,545.6L157.2,546.3L159.4,546.4L161.7,546.7L163.9,546.9L166.1,546.5L168.4,547.0L170.6,547.0L172.9,546.9L175.5,545.7L178.1,543.9L180.7,542.5L183.0,543.6L185.2,545.1L187.5,546.5L189.8,547.2L192.1,548.7L194.4,550.0L196.6,549.7L198.8,549.8L201.1,549.4L203.3,549.1L205.5,549.4L207.8,549.1L210.0,548.9L212.6,550.9L215.2,553.0L217.8,554.7L220.4,552.0L223.0,549.6L225.6,546.7L228.1,546.6L230.5,546.5L233.0,545.9L235.4,545.7L239.7,546.5L242.6,544.3L245.6,541.7L248.5,539.3L250.9,540.7L253.4,542.2L255.8,543.5L258.3,544.7L260.7,546.5L263.1,547.8L265.6,546.7L268.0,545.9L270.5,544.3L272.9,543.7L275.3,542.8L277.6,542.5L280.0,541.9L282.3,541.6L284.7,540.9L287.1,542.2L289.5,543.4L292.0,544.1L294.4,545.4L296.9,544.2L299.3,543.1L301.8,541.9L304.2,541.3L306.8,541.6L309.4,541.5L312.0,542.0L314.5,543.3L316.9,544.5L319.4,545.9L321.8,547.0L324.2,547.1L326.7,547.2L329.1,547.9L331.6,548.0L334.2,545.2L336.8,543.0L339.4,540.2L341.7,540.1L344.1,540.6L346.4,540.7L348.8,540.9L351.1,541.4L353.5,540.9L355.8,540.6L358.2,540.9L360.5,540.3L362.9,540.0L365.5,541.2L368.1,541.9L370.7,542.8L373.0,541.3L375.2,540.0L377.5,539.1L379.8,538.1L382.1,536.9L384.4,535.3L386.8,536.5L389.2,537.1L391.7,538.0L394.1,539.3L396.5,539.6L398.8,540.2L401.2,540.5L403.5,541.2L405.9,541.3L408.3,540.3L410.8,539.1L413.2,537.6L415.6,536.4L418.1,536.0L420.5,536.3L423.0,536.2L425.4,536.4L427.7,535.5L430.2,535.0L432.6,535.1L435.1,534.7L437.5,534.5L440.1,534.5L442.7,534.9L445.3,535.0L447.9,531.9L450.5,527.9L453.1,524.6L456.1,522.9L459.0,521.2L461.9,525.2L464.9,529.8L467.8,534.5L470.3,535.2L472.7,536.1L475.1,536.7L477.6,537.4L480.0,538.1L482.5,539.1L485.1,538.0L487.7,536.8L490.3,535.7L492.7,536.9L495.2,537.8L497.6,539.0L500.1,539.8L502.5,540.0L505.0,540.0L507.4,540.2L509.8,540.2L512.2,540.6L514.5,540.3L516.9,541.0L519.2,541.3L521.6,541.6L523.8,540.8L526.0,540.8L528.3,539.9L530.5,539.4L532.7,538.9L535.0,538.8L537.2,538.0L540.1,538.8L543.1,539.0L545.7,540.8L548.3,542.2L550.9,544.2L553.2,544.0L555.6,543.6L557.9,543.6L560.3,543.5L562.6,543.0L565.1,543.3L567.5,543.4L570.0,544.0L572.4,543.9L575.0,543.4L577.6,542.5L580.2,541.9L582.8,540.6L585.4,539.0L588.0,537.8L590.4,537.8L592.7,538.5L595.1,539.1L597.4,539.8L599.8,540.3L602.0,540.9L604.2,541.3L606.5,541.6L608.7,542.3L610.9,543.0L613.2,543.3L615.4,544.0L618.2,545.8L620.7,544.8L623.1,544.0L625.6,543.2L628.0,541.8L630.4,542.3L632.9,542.8L635.3,543.8L637.8,544.3L640.2,544.3L642.7,543.9L645.1,542.6L647.5,541.7L650.0,540.9L652.4,541.0L654.9,541.0L657.3,541.0L659.8,539.7L662.2,538.2L664.7,536.8L667.1,535.1L669.5,533.6L672.0,532.6L674.4,530.5L676.9,528.5L679.3,525.9L681.8,524.0L684.2,522.3L686.6,520.0L689.1,522.0L691.5,524.5L694.0,526.3L696.4,528.9L698.9,530.8L701.3,533.3L703.8,532.5L706.2,531.7L708.6,530.4L711.1,531.7L713.5,532.9L716.0,533.6L718.4,534.8L720.9,536.4L723.3,536.9L725.7,536.2L728.2,535.3L730.6,533.8L733.1,533.0L735.5,532.5L738.0,532.0L740.4,531.7L742.9,530.8L745.3,530.3L747.7,529.6L750.2,529.6L752.6,528.5L755.1,528.5L757.5,527.7L760.0,527.1L762.4,526.9L764.8,522.6L767.3,518.3L769.7,513.9L772.2,514.2L774.6,514.7L777.1,515.2L779.5,514.7L782.0,513.5L784.4,512.5L786.8,514.2L789.3,515.9L791.7,517.6L794.2,518.5L796.6,519.2L799.1,520.2L801.5,521.2L803.9,521.8L806.4,522.0L808.8,522.4L811.1,521.8L813.4,520.9L815.7,520.1" fill="none" stroke="#380d7f" stroke-width="2.4" stroke-linejoin="round" clip-path="url(#c2)"/><path d="M39.5,1105.1L42.1,1104.5L44.6,1104.6L47.1,1104.2L49.7,1104.0L52.2,1104.1L54.8,1103.8L57.1,1103.3L59.5,1103.6L61.8,1102.9L64.2,1102.2L66.5,1102.0L68.8,1101.3L71.2,1100.6L73.5,1100.2L75.9,1100.2L78.2,1100.4L80.6,1100.3L82.9,1100.5L85.3,1100.7L87.6,1100.1L90.0,1100.7L92.3,1100.5L94.7,1100.6L97.0,1099.6L99.3,1099.9L101.7,1099.2L104.0,1099.5L106.4,1099.4L108.7,1098.4L111.1,1097.3L113.4,1097.1L115.8,1096.8L118.1,1095.5L120.5,1094.8L122.8,1094.7L125.1,1093.3L127.5,1092.5L129.8,1092.0L132.2,1090.9L134.5,1089.7L136.9,1088.9L139.2,1087.8L141.6,1087.3L143.9,1086.8L146.3,1084.6L148.6,1082.8L151.0,1082.2L153.3,1079.7L155.6,1078.3L158.0,1077.0L160.3,1074.0L162.7,1071.6L165.0,1069.0L167.4,1065.2L169.7,1062.8L173.0,1056.4L176.3,1051.4L178.9,1060.3L181.5,1070.2L183.8,1072.5L186.1,1074.6L188.5,1077.3L190.8,1078.7L193.2,1081.3L195.5,1084.2L197.9,1085.1L200.2,1086.0L202.6,1087.1L204.9,1088.2L207.3,1088.7L209.6,1090.0L212.0,1090.6L214.3,1092.6L217.1,1091.2L220.0,1089.8L222.5,1090.6L225.0,1091.2L227.5,1092.4L230.0,1092.9L232.5,1093.1L235.0,1093.5L237.5,1094.9L240.0,1095.0L242.5,1096.0L245.0,1095.6L247.5,1096.0L250.0,1096.8L252.5,1097.2L255.0,1097.9L257.5,1097.9L260.0,1097.4L262.5,1098.3L265.0,1097.5L267.5,1097.8L270.0,1097.8L272.5,1098.8L275.0,1098.4L277.5,1098.7L280.0,1099.5L282.5,1099.8L285.0,1099.8L287.5,1100.4L290.0,1100.4L292.5,1101.5L295.0,1101.5L297.5,1101.4L300.0,1102.5L303.5,1100.9L305.9,1101.9L308.2,1101.4L310.6,1101.7L312.9,1101.8L315.3,1102.0L317.6,1101.1L320.0,1102.0L322.3,1102.0L324.7,1101.3L327.0,1102.1L329.3,1102.5L331.7,1102.5L334.0,1102.4L336.4,1103.7L338.7,1103.5L341.1,1103.8L343.4,1104.0L345.8,1104.6L348.1,1104.2L350.5,1104.4L352.8,1104.9L355.1,1104.8L357.5,1104.6L359.8,1105.3L362.2,1105.7L364.5,1105.8L366.9,1105.3L369.2,1106.1L371.6,1106.2L373.9,1105.9L376.3,1106.5L378.6,1105.9L381.0,1105.8L383.3,1106.4L385.6,1105.8L388.0,1105.9L390.3,1105.9L392.7,1106.5L395.0,1105.8L397.4,1106.4L399.7,1105.8L402.1,1106.7L404.4,1106.4L406.8,1106.9L409.1,1107.4L411.5,1107.6L413.8,1107.5L416.1,1107.5L418.5,1107.3L420.8,1107.0L423.2,1107.3L425.5,1106.1L427.9,1106.3L430.2,1106.4L432.6,1106.7L434.9,1106.1L437.3,1106.0L439.6,1105.3L442.0,1105.8L444.3,1105.7L446.6,1105.7L449.0,1105.7L451.3,1104.8L453.7,1105.3L456.0,1105.0L458.4,1105.1L460.7,1105.5L463.1,1106.2L465.4,1105.9L467.8,1106.8L470.1,1106.5L472.5,1107.7L474.8,1107.8L477.1,1108.5L479.5,1107.9L481.8,1108.7L484.2,1109.1L486.5,1109.7L488.9,1109.1L491.2,1109.3L493.6,1109.2L495.9,1108.9L498.3,1108.5L500.6,1107.8L503.0,1108.0L505.3,1107.3L507.7,1107.3L510.0,1108.3L512.4,1108.1L514.8,1108.0L517.1,1108.1L519.5,1108.5L521.8,1108.5L524.2,1109.2L526.5,1108.9L528.8,1110.0L531.2,1109.6L533.5,1110.2L535.9,1110.0L538.2,1110.7L540.6,1112.0L542.9,1112.1L545.3,1113.5L547.6,1113.8L550.0,1115.1L552.3,1116.1L554.7,1118.0L557.0,1118.6L559.3,1117.6L561.7,1115.9L564.0,1114.4L566.4,1113.1L568.7,1111.1L571.1,1109.4L573.4,1109.8L575.8,1109.1L578.1,1108.4L580.5,1108.6L582.8,1109.2L585.1,1108.5L587.5,1109.0L589.8,1109.5L592.2,1109.9L594.5,1109.9L596.9,1109.6L599.2,1109.8L601.6,1110.0L603.9,1109.9L606.3,1110.2L608.6,1110.6L611.0,1110.3L613.3,1111.3L615.6,1110.5L618.0,1111.2L620.3,1111.7L622.7,1111.2L625.0,1110.9L627.4,1112.0L629.7,1111.4L632.1,1111.3L634.4,1111.6L636.8,1112.1L639.1,1111.7L641.5,1111.7L643.8,1111.9L646.1,1111.9L648.5,1111.9L650.8,1112.4L653.2,1112.3L655.5,1111.4L657.9,1112.0L660.2,1111.5L662.6,1111.2L664.9,1111.1L667.3,1111.2L669.6,1111.0L672.0,1111.4L674.3,1111.2L676.6,1110.8L679.0,1109.6L681.3,1110.0L683.7,1109.8L686.0,1110.0L688.4,1110.1L690.7,1110.2L693.1,1109.1L695.4,1109.1L697.8,1109.7L700.1,1109.7L702.5,1110.2L704.8,1109.1L707.1,1109.9L709.5,1109.3L711.8,1108.8L714.2,1108.5L716.5,1108.5L718.9,1108.7L721.2,1108.6L723.6,1108.7L725.9,1107.8L728.3,1107.6L730.6,1107.5L733.0,1107.8L735.3,1107.4L737.9,1107.0L740.4,1107.3L743.0,1107.0L745.6,1107.2L748.0,1107.8L750.4,1107.3L752.9,1106.9L755.3,1107.4L757.8,1107.5L760.2,1107.2L762.7,1107.7L765.1,1106.7L767.5,1107.4L770.0,1106.5L772.4,1106.7L774.9,1105.7L777.3,1105.5L779.8,1105.6L782.2,1105.5L784.7,1104.8L787.1,1105.1L789.5,1104.6L792.0,1104.5L794.4,1104.3L796.9,1104.6L799.3,1104.0L801.8,1104.2L804.2,1103.7L806.6,1103.1L809.1,1101.6L811.5,1100.6L814.0,1099.9L816.4,1100.0L818.9,1098.6L821.3,1098.4L823.8,1097.1L826.2,1096.9L828.6,1096.2L831.1,1095.5L833.5,1095.2L836.0,1093.9L838.4,1093.6L840.9,1092.8L843.3,1092.6L845.7,1092.6L848.2,1091.1L850.6,1091.5L853.1,1090.6L855.5,1090.5L858.0,1089.2L860.4,1088.9L862.9,1089.3L865.3,1088.6L867.7,1088.6L870.2,1088.5L872.6,1087.4L875.1,1089.2L877.5,1090.8L880.0,1091.1L882.4,1092.0L884.8,1094.4L887.3,1096.0L889.7,1096.4L892.2,1097.8L894.6,1099.9L897.1,1101.3L899.5,1101.3L902.0,1102.6L904.4,1102.8L906.8,1103.5L909.3,1104.7L911.7,1105.1L914.2,1106.2L916.6,1106.6L919.1,1107.3L921.5,1107.8L923.9,1109.5L926.4,1110.0L928.8,1111.0L931.3,1111.0L933.7,1112.4L936.2,1113.5L938.6,1113.6L941.1,1114.0L943.5,1115.5L945.9,1115.8L948.4,1116.7L950.8,1117.7L953.3,1118.6L955.7,1119.9L958.2,1119.4L960.6,1119.0L963.0,1118.1L965.5,1118.1L967.9,1117.6L970.4,1117.1" fill="none" stroke="#efc64e" stroke-width="2.4" stroke-linejoin="round" clip-path="url(#c3)"/>
<path d="M39.5,1098.1L42.1,1098.3L44.6,1097.9L47.1,1097.3L49.7,1096.7L52.2,1097.3L54.8,1097.1L57.1,1096.2L59.5,1095.5L61.8,1095.1L64.2,1095.2L66.5,1094.2L68.8,1094.1L71.2,1094.3L73.5,1093.5L75.9,1092.5L78.2,1093.2L80.6,1093.1L82.9,1092.6L85.3,1091.4L87.6,1091.6L90.0,1091.8L92.3,1090.5L94.7,1091.6L97.0,1091.4L99.3,1091.7L101.7,1092.0L104.0,1092.8L106.4,1092.5L108.7,1093.3L111.1,1093.0L113.4,1092.5L115.8,1091.4L118.1,1089.7L120.5,1089.0L122.8,1088.2L125.1,1087.0L127.5,1086.0L129.8,1085.0L132.2,1084.1L134.5,1083.7L136.9,1081.9L139.2,1081.0L141.6,1079.9L143.9,1078.5L146.3,1077.8L148.6,1076.9L151.0,1074.8L153.3,1072.5L155.6,1071.6L158.0,1068.9L160.3,1066.8L162.7,1064.9L165.0,1060.7L167.4,1057.4L169.7,1052.5L172.1,1049.2L174.4,1040.8L176.8,1032.5L179.1,1048.9L181.5,1065.8L183.8,1067.6L186.1,1070.0L188.5,1072.3L190.8,1074.5L193.2,1077.5L195.5,1079.1L197.9,1081.1L200.2,1081.1L202.6,1082.5L204.9,1084.5L207.3,1084.7L209.6,1086.1L212.0,1087.9L214.3,1089.1L217.1,1088.3L220.0,1087.5L222.5,1087.9L225.0,1089.0L227.5,1090.3L230.0,1091.0L232.5,1091.7L235.0,1092.5L237.5,1092.7L240.0,1093.5L242.5,1094.0L245.0,1094.0L247.5,1094.2L250.0,1094.5L252.5,1095.6L255.0,1095.7L257.5,1095.7L260.0,1096.4L262.5,1096.0L265.0,1097.1L267.5,1096.4L270.0,1097.5L272.5,1096.7L275.0,1097.7L277.5,1097.5L280.0,1098.3L282.5,1097.8L285.0,1097.9L287.5,1098.2L290.0,1098.5L292.5,1098.8L295.0,1097.9L297.5,1098.4L300.0,1097.7L303.5,1100.3L305.9,1100.3L308.2,1099.8L310.6,1100.6L312.9,1100.5L315.3,1100.5L317.6,1100.2L320.0,1100.8L322.3,1100.7L324.7,1100.9L327.0,1101.3L329.3,1101.6L331.7,1100.9L334.0,1101.2L336.4,1102.4L338.7,1102.2L341.1,1102.6L343.4,1102.3L345.8,1103.1L348.1,1103.2L350.5,1102.8L352.8,1102.9L355.1,1102.4L357.5,1102.9L359.8,1103.2L362.2,1102.6L364.5,1103.1L366.9,1103.4L369.2,1103.4L371.6,1103.5L373.9,1103.8L376.3,1104.0L378.6,1104.0L381.0,1104.1L383.3,1104.4L385.6,1104.0L388.0,1104.6L390.3,1103.9L392.7,1104.3L395.0,1104.6L397.4,1105.2L399.7,1105.0L402.1,1104.4L404.4,1104.7L406.8,1103.8L409.1,1103.7L411.5,1104.6L413.8,1104.1L416.1,1103.9L418.5,1103.5L420.8,1103.8L423.2,1103.7L425.5,1104.3L427.9,1105.0L430.2,1105.2L432.6,1104.4L434.9,1105.0L437.3,1104.8L439.6,1105.0L442.0,1105.1L444.3,1104.5L446.6,1105.4L449.0,1104.7L451.3,1105.2L453.7,1105.4L456.0,1104.8L458.4,1105.1L460.7,1104.9L463.1,1104.7L465.4,1104.6L467.8,1104.4L470.1,1104.8L472.5,1105.3L474.8,1104.8L477.1,1103.8L479.5,1103.8L481.8,1103.4L484.2,1103.5L486.5,1103.7L488.9,1102.7L491.2,1102.1L493.6,1102.7L495.9,1102.5L498.3,1102.4L500.6,1103.0L503.0,1102.7L505.3,1102.2L507.7,1102.6L510.0,1103.2L512.4,1103.8L514.8,1104.0L517.1,1103.1L519.5,1103.7L521.8,1103.9L524.2,1103.3L526.5,1103.3L528.8,1103.2L531.2,1103.0L533.5,1102.8L535.9,1102.6L538.2,1101.4L540.6,1101.8L542.9,1101.5L545.3,1100.8L547.6,1100.5L550.0,1099.5L552.3,1098.7L554.7,1098.3L557.0,1098.5L559.3,1098.6L561.7,1100.5L564.0,1101.4L566.4,1103.1L568.7,1099.8L571.1,1095.6L573.4,1093.3L575.8,1090.0L578.1,1085.7L580.5,1089.0L582.8,1092.2L585.1,1094.3L587.5,1097.1L589.8,1100.8L592.2,1101.2L594.5,1102.5L596.9,1103.5L599.2,1104.9L601.6,1105.2L603.9,1104.8L606.3,1105.0L608.6,1105.4L611.0,1105.4L613.3,1106.1L615.6,1106.4L618.0,1106.7L620.3,1106.1L622.7,1106.8L625.0,1107.4L627.4,1106.7L629.7,1107.2L632.1,1107.4L634.4,1107.5L636.8,1107.3L639.1,1108.0L641.5,1108.0L643.8,1108.8L646.1,1108.8L648.5,1109.0L650.8,1109.4L653.2,1108.5L655.5,1108.0L657.9,1107.3L660.2,1107.0L662.6,1106.6L664.9,1105.6L667.3,1105.5L669.6,1105.5L672.0,1104.7L674.3,1104.8L676.6,1104.8L679.0,1105.1L681.3,1105.0L683.7,1105.2L686.0,1104.7L688.4,1104.9L690.7,1105.8L693.1,1106.1L695.4,1105.8L697.8,1106.3L700.1,1106.2L702.5,1107.2L704.8,1107.4L707.1,1106.8L709.5,1106.8L711.8,1106.2L714.2,1104.9L716.5,1104.6L718.9,1104.3L721.2,1103.5L723.6,1104.4L725.9,1104.1L728.3,1104.6L730.6,1104.0L733.0,1104.3L735.3,1105.3L738.0,1104.6L740.7,1105.4L743.1,1104.3L745.6,1105.0L748.0,1104.7L750.4,1104.6L752.9,1104.2L755.3,1103.4L757.8,1103.6L760.2,1102.9L762.7,1103.2L765.1,1102.2L767.5,1102.3L770.0,1102.4L772.4,1101.3L774.9,1101.0L777.3,1101.0L779.8,1100.3L782.2,1100.3L784.7,1099.6L787.1,1100.0L789.5,1099.2L792.0,1099.5L794.4,1099.2L796.9,1099.0L799.3,1098.7L801.8,1098.2L804.2,1097.9L806.6,1097.2L809.1,1097.0L811.5,1096.4L814.0,1096.8L816.4,1095.8L818.9,1096.0L821.3,1095.8L823.8,1094.9L826.2,1094.7L828.6,1095.0L831.1,1093.6L833.5,1093.6L836.0,1093.2L838.4,1092.0L840.9,1091.5L843.3,1091.3L845.7,1090.5L848.2,1090.7L850.6,1089.6L853.1,1089.3L855.5,1089.9L858.0,1089.6L860.4,1088.0L862.9,1087.6L865.3,1087.5L867.7,1087.8L870.2,1087.2L872.6,1086.2L875.1,1087.7L877.5,1089.5L880.0,1090.6L882.4,1091.3L884.8,1092.7L887.3,1093.7L889.7,1094.9L892.2,1095.6L894.6,1096.8L897.1,1097.4L899.5,1098.3L902.0,1098.6L904.4,1099.2L906.8,1100.5L909.3,1100.2L911.7,1101.4L914.2,1101.3L916.6,1102.7L919.1,1102.6L921.5,1103.2L923.9,1102.9L926.4,1103.3L928.8,1104.2L931.3,1104.4L933.7,1104.6L936.2,1104.6L938.6,1104.9L941.1,1105.2L943.5,1105.2L945.9,1106.4L948.4,1106.7L950.8,1106.1L953.3,1107.1L955.7,1107.8L958.2,1108.1L960.6,1108.3L963.0,1108.7L965.5,1109.5L967.9,1109.6L970.4,1109.7" fill="none" stroke="#ecb452" stroke-width="2.4" stroke-linejoin="round" clip-path="url(#c3)"/>
<path d="M39.5,1095.7L42.1,1094.8L44.6,1094.7L47.1,1094.4L49.7,1094.1L52.2,1093.9L54.8,1093.3L57.1,1092.8L59.5,1092.8L61.8,1092.9L64.2,1092.1L66.5,1092.2L68.8,1092.0L71.2,1091.1L73.5,1091.3L75.9,1090.4L78.2,1090.1L80.6,1090.2L82.9,1089.4L85.3,1089.3L87.6,1089.0L90.0,1089.2L92.3,1088.9L94.7,1089.2L97.0,1088.1L99.3,1088.3L101.7,1088.9L104.0,1088.2L106.4,1089.0L108.7,1087.8L111.1,1086.9L113.4,1086.7L115.8,1085.1L118.1,1084.6L120.5,1083.5L122.8,1083.3L125.1,1081.1L127.5,1080.0L129.8,1079.3L132.2,1077.7L134.5,1076.6L136.9,1075.6L139.2,1074.8L141.6,1073.0L143.9,1072.5L146.3,1071.0L148.6,1069.5L151.0,1068.3L153.3,1065.4L155.6,1064.2L158.0,1062.3L160.3,1060.2L162.7,1057.6L165.0,1055.1L167.4,1051.1L169.7,1048.1L172.1,1043.6L176.3,1027.6L178.9,1042.5L181.5,1058.3L183.8,1061.1L186.1,1063.2L188.5,1066.3L190.8,1069.6L193.2,1072.4L195.5,1074.7L197.9,1076.3L200.2,1077.4L202.6,1077.6L204.9,1079.1L207.3,1080.8L209.6,1082.2L212.0,1082.5L214.3,1084.3L217.1,1082.6L220.0,1080.3L223.0,1079.0L226.0,1078.8L228.5,1080.0L231.0,1081.4L233.5,1083.2L236.0,1084.5L238.5,1085.1L241.0,1085.3L243.5,1086.4L246.0,1087.4L248.7,1086.7L251.3,1086.6L254.0,1086.0L256.5,1086.8L259.0,1087.5L261.5,1088.2L264.0,1088.5L266.4,1088.9L268.8,1089.7L271.2,1090.6L273.6,1090.7L276.0,1091.5L278.7,1089.9L281.3,1089.2L284.0,1088.7L286.7,1089.9L289.3,1091.5L292.0,1091.9L294.7,1092.5L297.3,1092.6L300.0,1092.9L303.5,1093.5L305.9,1093.4L308.2,1092.4L310.6,1092.2L312.9,1091.3L315.3,1091.8L317.6,1090.4L320.0,1091.5L322.3,1092.6L324.7,1092.7L327.0,1093.6L329.3,1093.3L331.7,1095.0L334.0,1094.5L336.4,1093.5L338.7,1093.0L341.1,1092.4L343.4,1092.8L345.8,1092.5L348.1,1092.9L350.5,1093.5L352.8,1094.2L355.1,1095.3L357.5,1096.1L359.8,1097.1L362.2,1096.6L364.5,1096.0L366.9,1095.6L369.2,1093.8L371.6,1094.4L373.9,1093.2L376.3,1094.5L378.6,1094.8L381.0,1096.0L383.3,1096.0L385.6,1096.8L388.0,1097.9L390.3,1097.6L392.7,1098.0L395.0,1097.3L397.4,1097.3L399.7,1096.7L402.1,1096.6L404.4,1096.3L406.8,1095.7L409.1,1095.5L411.5,1093.9L413.8,1094.0L416.1,1093.0L418.5,1093.8L420.8,1094.5L423.2,1095.7L425.5,1095.9L427.9,1097.2L430.2,1098.4L432.6,1097.8L434.9,1096.6L437.3,1096.0L439.6,1096.1L442.0,1095.1L444.3,1093.9L446.6,1094.4L449.0,1094.6L451.3,1094.7L453.7,1095.4L456.0,1094.5L458.4,1094.3L460.7,1093.3L463.1,1091.7L465.4,1091.3" fill="none" stroke="#e69e59" stroke-width="2.4" stroke-linejoin="round" clip-path="url(#c3)"/>
<path d="M39.5,1081.6L42.1,1081.7L44.6,1081.6L47.1,1081.3L49.7,1081.1L52.2,1080.6L54.8,1080.4L57.1,1079.7L59.5,1079.5L61.8,1078.8L64.2,1078.3L66.5,1078.4L68.8,1077.9L71.2,1077.4L73.5,1076.7L75.9,1076.6L78.2,1077.3L80.6,1077.3L82.9,1076.7L85.3,1076.5L87.6,1076.9L90.0,1076.7L92.3,1076.7L94.7,1076.4L97.0,1076.3L99.3,1076.7L101.7,1076.0L104.0,1075.8L106.4,1076.6L108.7,1075.7L111.1,1075.3L113.4,1074.8L115.8,1074.7L118.1,1073.7L120.5,1073.0L122.8,1073.2L125.1,1072.5L127.5,1072.0L129.8,1071.4L132.2,1069.7L134.5,1068.1L136.9,1067.2L139.2,1065.6L141.6,1064.7L143.9,1062.5L146.3,1061.6L148.6,1059.3L151.0,1058.3L153.3,1057.1L155.6,1055.3L158.0,1053.3L160.3,1050.6L162.7,1046.9L165.0,1043.3L167.4,1040.3L169.7,1037.5L173.0,1026.3L176.3,1016.4L179.5,1031.3L182.6,1046.5L185.6,1054.0L188.5,1060.9L190.8,1061.6L193.2,1063.4L195.5,1064.6L197.9,1066.3L200.2,1067.6L202.6,1068.5L204.9,1070.4L207.4,1069.8L209.9,1070.3L212.5,1071.4L215.0,1071.1L217.5,1071.9L220.0,1071.8L222.5,1072.6L225.0,1073.4L227.5,1074.1L230.0,1074.9L232.5,1075.2L235.0,1076.3L237.5,1076.0L240.0,1077.0L242.5,1077.2L245.0,1077.6L247.5,1078.2L250.0,1078.7L252.5,1079.3L255.0,1079.3L257.5,1080.2L260.0,1080.7L262.5,1080.7L265.0,1080.8L267.5,1081.3L270.0,1081.3L272.5,1081.5L275.0,1082.0L277.5,1083.0L280.0,1083.3L282.5,1083.4L285.0,1083.8L287.5,1084.1L290.0,1084.5L292.5,1084.3L295.0,1084.1L297.5,1084.3L300.0,1083.6L303.5,1085.4L305.9,1084.5L308.2,1084.4L310.6,1085.0L312.9,1084.5L315.3,1084.8L317.6,1083.9L320.0,1084.2L322.3,1084.2L324.7,1083.9L327.0,1084.0L329.3,1085.0L331.7,1084.7L334.0,1085.8L336.4,1085.9L338.7,1085.7L341.1,1086.4L343.4,1086.6L345.8,1086.0L348.1,1086.4L350.5,1085.9L352.8,1086.0L355.1,1086.4L357.5,1086.3L359.8,1086.5L362.2,1086.5L364.5,1086.2L366.9,1086.8L369.2,1087.2L371.6,1086.5L373.9,1087.0L376.3,1086.7L378.6,1086.9L381.0,1087.2L383.3,1087.2L385.6,1087.3L388.0,1087.3L390.3,1087.0L392.7,1087.4L395.0,1087.8L397.4,1087.2L399.7,1087.1L402.1,1087.4L404.4,1087.8L406.8,1087.6L409.1,1087.9L411.5,1088.6L413.8,1088.7L416.1,1088.6L418.5,1088.2L420.8,1088.1L423.2,1087.6L425.5,1087.7L427.9,1087.7L430.2,1087.7L432.6,1087.2L434.9,1087.4L437.3,1087.8L439.6,1087.4L442.0,1087.9L444.3,1088.0L446.6,1088.5L449.0,1088.2L451.3,1088.3L453.7,1088.9L456.0,1088.8L458.4,1088.6L460.7,1088.3L463.1,1088.9L465.4,1088.0L467.8,1088.8L470.1,1088.3L472.5,1088.5L474.8,1088.3L477.1,1088.5L479.5,1088.0L481.8,1088.6L484.2,1088.8L486.5,1088.9L488.9,1088.9L491.2,1088.3L493.6,1088.7L495.9,1088.3L498.3,1089.0L500.6,1088.5L503.0,1088.7L505.3,1088.9L507.7,1089.0L510.0,1088.3L512.4,1089.0L514.8,1088.8L517.1,1088.8L519.5,1088.7L521.8,1089.1L524.2,1089.4L526.5,1089.1L528.8,1089.2L531.2,1089.9L533.5,1089.5L535.9,1089.7L538.2,1089.6L540.6,1088.8L542.9,1088.8L545.3,1088.4L547.6,1090.1L550.0,1091.3L552.3,1091.8L554.7,1092.9L557.0,1094.6L559.3,1091.8L561.7,1089.3L564.0,1086.3L566.4,1084.2L568.7,1084.4L571.1,1085.2L573.4,1085.5L575.8,1086.2L578.1,1087.0L580.5,1088.1L582.8,1088.2L585.1,1089.0L587.5,1089.8L589.8,1091.0L592.2,1090.6L594.5,1090.8L596.9,1090.8L599.2,1090.5L601.6,1091.2L603.9,1090.7L606.3,1091.5L608.6,1091.4L611.0,1091.7L613.3,1091.9L615.6,1092.6L618.0,1093.0L620.3,1092.5L622.7,1093.5L625.0,1093.2L627.4,1093.1L629.7,1093.2L632.1,1093.1L634.4,1093.4L636.8,1093.3L639.1,1092.9L641.5,1093.5L643.8,1092.8L646.1,1092.3L648.5,1091.0L650.8,1090.5L653.2,1090.2L655.5,1090.0L657.9,1088.7L660.2,1088.4L662.6,1088.4L664.9,1089.2L667.3,1089.8L669.6,1090.0L672.0,1089.6L674.3,1090.5L676.6,1090.6L679.0,1090.6L681.3,1090.4L683.7,1091.1L686.0,1090.5L688.4,1090.7L690.7,1090.9L693.1,1090.5L695.4,1090.9L697.8,1091.1L700.1,1090.4L702.5,1090.2L704.8,1090.3L707.1,1089.6L709.5,1089.0L711.8,1088.6L714.2,1088.7L716.5,1088.9L718.9,1088.4L721.2,1088.5L723.6,1088.6L725.9,1089.5L728.3,1088.9L730.6,1089.2L733.0,1089.7L735.3,1089.3L737.9,1089.2L740.4,1089.3L743.0,1089.0L745.6,1088.9L748.0,1088.8L750.4,1088.5L752.9,1088.0L755.3,1087.4L757.8,1087.3L760.2,1086.8L762.7,1086.7L765.1,1087.0L767.5,1086.2L770.0,1086.9L772.4,1087.2L774.9,1086.7L777.3,1087.8L779.8,1087.6L782.2,1087.5L784.7,1087.6L787.1,1086.8L789.5,1086.4L792.0,1086.5L794.4,1085.8L796.9,1085.7L799.3,1084.7L801.8,1084.5L804.2,1083.9L806.6,1083.8L809.1,1083.2L811.5,1082.9L814.0,1082.2L816.4,1082.0L818.9,1081.2L821.3,1081.0L823.8,1080.8L826.2,1080.2L828.6,1079.6L831.1,1079.2L833.5,1078.7L836.0,1078.8L838.4,1078.1L840.9,1077.5L843.3,1076.5L845.7,1076.2L848.2,1075.6L850.6,1074.5L853.1,1073.9L856.1,1071.5L859.2,1069.3L862.0,1071.2L864.9,1073.6L867.7,1075.9L870.2,1074.2L872.6,1073.4L875.1,1071.4L877.5,1073.5L880.0,1075.6L882.4,1078.1L884.8,1079.2L887.3,1080.1L889.7,1081.9L892.2,1083.2L894.6,1083.9L897.1,1085.2L899.5,1086.6L902.0,1087.3L904.4,1088.0L906.8,1089.0L909.3,1089.1L911.7,1090.6L914.2,1090.7L916.6,1091.6L919.1,1092.3L921.5,1093.5L923.9,1094.4L926.4,1094.8L928.8,1095.4L931.3,1096.5L933.7,1097.4L936.2,1098.3L938.6,1099.4L941.1,1099.9L943.5,1100.8L945.9,1102.0L948.4,1103.5L950.8,1104.4L953.3,1104.0L955.7,1103.4L958.2,1102.5L960.6,1102.6L963.0,1102.6L965.5,1104.1L967.9,1104.7L970.4,1104.9" fill="none" stroke="#e49a5a" stroke-width="2.4" stroke-linejoin="round" clip-path="url(#c3)"/>
<path d="M39.5,1071.1L41.7,1070.2L44.0,1070.4L46.2,1069.7L48.4,1068.9L50.6,1068.9L52.8,1069.2L55.0,1067.8L57.2,1068.2L59.5,1067.7L61.8,1067.8L64.2,1066.6L66.5,1066.6L68.8,1065.7L71.2,1065.9L73.5,1064.9L75.9,1065.5L78.2,1064.9L80.6,1064.6L82.9,1064.1L85.3,1064.6L87.6,1064.3L90.0,1064.5L92.3,1064.5L94.7,1064.7L97.0,1065.5L99.3,1064.7L101.7,1064.8L104.0,1064.3L106.4,1063.9L108.7,1064.1L111.1,1063.7L113.4,1063.5L115.8,1062.9L118.1,1061.5L120.5,1060.9L122.8,1060.4L125.1,1060.1L127.5,1059.6L129.8,1058.2L132.2,1057.4L134.5,1055.1L136.9,1055.0L139.2,1053.3L141.6,1052.5L143.9,1050.5L146.3,1050.2L148.6,1048.9L151.0,1046.8L153.3,1045.6L155.6,1044.7L158.0,1042.6L160.3,1042.2L162.7,1040.9L165.0,1036.0L167.4,1030.8L169.7,1025.9L172.1,1021.3L174.4,1018.7L176.8,1015.3L179.1,1052.9L181.5,1088.9L185.0,1016.2L187.9,1021.1L190.8,1026.0L193.2,1030.1L195.5,1033.9L197.9,1037.8L200.2,1041.3L202.6,1043.2L204.9,1046.0L207.3,1047.4L209.6,1050.2L212.0,1052.1L214.3,1052.9L216.6,1054.8L219.0,1054.7L221.3,1055.0L223.7,1056.5L226.0,1056.5L228.4,1057.2L230.7,1058.2L233.1,1058.6L235.4,1058.1L237.8,1059.0L240.1,1059.5L242.5,1061.1L244.8,1061.7L247.1,1062.4L249.5,1062.6L251.8,1062.8L254.2,1063.1L256.5,1064.2L258.9,1064.2L261.3,1063.8L263.6,1064.9L266.0,1064.5L268.3,1065.3L270.7,1066.0L273.0,1065.9L275.4,1065.6L277.7,1064.9L280.1,1063.6L282.4,1065.2L284.8,1066.4L287.1,1066.6L289.5,1067.7L291.8,1068.1L294.2,1070.1L296.5,1070.2L298.8,1070.3L301.2,1071.2L303.5,1071.4L305.9,1071.9L308.2,1071.6L310.6,1071.3L312.9,1070.7L315.3,1070.3L317.6,1070.4L320.0,1068.7L322.3,1068.3L324.7,1069.5L327.0,1068.3L329.3,1069.7L331.7,1069.9L334.0,1070.0L336.4,1069.4L338.7,1070.1L341.1,1071.1L343.4,1072.8L345.8,1073.6L348.1,1074.0L350.5,1076.0L352.8,1075.2L355.1,1075.4L357.5,1075.9L359.8,1076.0L362.2,1076.5L364.5,1077.2L366.9,1076.1L369.2,1075.1L371.6,1073.4L373.9,1072.6L376.3,1070.6L378.6,1070.8L381.0,1072.4L383.3,1072.2L385.6,1072.5L388.0,1072.8L390.3,1074.8L392.7,1075.9L395.0,1076.3L397.4,1078.1L399.7,1078.7L402.1,1077.6L404.4,1075.5L406.8,1074.0L409.1,1072.2L411.5,1071.5L413.8,1071.7L416.1,1071.6L418.5,1071.5L420.8,1072.7L423.2,1072.2L425.5,1073.3L427.9,1076.2L430.2,1080.6L432.6,1079.5L434.9,1078.3L437.3,1077.9L439.6,1076.1L442.0,1076.7L444.3,1077.0L446.6,1077.7L449.0,1078.0L451.3,1077.8L453.7,1078.4L456.0,1077.8L458.4,1077.2L460.7,1075.9L463.1,1075.4L465.4,1074.3L467.8,1074.6L470.1,1072.6L472.5,1072.3L474.8,1073.5L477.1,1075.3L479.5,1076.2L481.8,1078.8L484.2,1080.6L486.5,1081.0L488.9,1082.9L491.2,1085.3L493.6,1082.3L495.9,1078.8L498.3,1079.7L500.6,1080.2L503.0,1080.8L505.3,1081.5L507.7,1079.7L510.1,1078.0L512.4,1078.4L514.8,1078.2L517.1,1077.7L519.5,1078.1L521.8,1077.5L524.2,1077.5L526.5,1077.8L528.8,1077.4L531.2,1077.8L533.5,1077.0L535.9,1076.8L538.2,1076.8L540.6,1077.8L542.9,1078.4L545.3,1079.8L547.6,1082.7L550.0,1086.2L552.3,1090.2L554.7,1093.3L557.0,1091.3L559.3,1088.2L561.7,1086.2L564.0,1084.5L566.4,1082.6L568.7,1081.6L571.1,1079.9L573.4,1077.5L575.8,1076.8L578.1,1077.8L580.5,1077.4L582.8,1078.0L585.1,1078.1L587.5,1078.6L589.8,1079.4L592.2,1080.9L594.5,1083.0L596.9,1084.5L599.2,1085.7L601.6,1087.5L603.9,1089.1L606.3,1085.8L608.6,1083.8L611.0,1080.9L613.3,1079.0L615.6,1075.8L618.0,1073.4L620.3,1074.1L622.7,1074.9L625.0,1076.6L627.4,1077.9L629.7,1078.8L632.1,1080.9L634.4,1080.8L636.8,1082.5L639.1,1084.4L641.5,1084.7L643.8,1085.4L646.1,1085.9L648.5,1086.8L650.8,1087.9L653.2,1087.8L655.5,1087.3L657.9,1085.8L660.2,1085.2L662.6,1083.3L664.9,1082.4L667.3,1081.6L669.6,1081.6L672.0,1081.1L674.3,1081.5L676.6,1080.1L679.0,1080.6L681.3,1081.4L683.7,1082.4L686.0,1082.4L688.4,1083.2L690.7,1084.7L693.1,1085.5L695.4,1085.8L697.8,1086.3L700.1,1087.1L702.5,1087.7L704.8,1088.1L707.1,1089.1L709.5,1086.6L711.8,1085.4L714.2,1083.5L716.5,1082.7L718.9,1081.0L721.2,1078.8L723.6,1080.4L725.9,1080.8L728.3,1082.7L730.6,1084.1L733.0,1085.2L735.3,1086.3L737.9,1086.0L740.4,1086.3L743.0,1086.3L745.6,1086.1L748.0,1086.1L750.4,1085.4L752.9,1084.0L755.3,1084.0L757.8,1083.1L760.2,1082.6L762.7,1081.8L765.1,1081.0L767.5,1081.6L770.0,1080.2L772.4,1079.8L774.9,1079.4L777.3,1080.0L779.8,1080.7L782.2,1079.8L784.7,1080.8L787.1,1081.8L789.5,1081.7L792.0,1081.4L794.4,1082.0L796.9,1083.0L799.3,1084.0L801.8,1083.2L804.2,1083.7L806.6,1082.8L809.1,1081.6L811.5,1080.1L814.0,1078.9L816.4,1077.2L818.9,1075.7L821.3,1074.7L823.8,1074.1L826.2,1072.7L828.6,1071.8L831.1,1071.5L833.5,1070.3L836.0,1071.2L838.4,1071.0L840.9,1070.9L843.3,1071.1L845.7,1071.9L848.2,1072.2L850.6,1070.3L853.1,1069.0L855.5,1067.2L858.0,1065.7L860.4,1065.5L862.9,1064.4L865.3,1065.1L867.7,1063.5L870.2,1063.5L872.6,1064.0L875.1,1063.0L877.5,1062.0L880.0,1060.6L882.4,1059.6L884.8,1061.2L887.3,1062.5L889.7,1063.8L892.2,1064.5L894.6,1065.9L897.1,1067.0L899.5,1069.6L902.0,1071.2L904.4,1070.6L906.8,1071.9L909.3,1071.8L911.7,1072.1L914.2,1073.1L916.6,1072.5L919.1,1074.9L921.5,1076.2L923.9,1077.7L926.4,1079.4L928.8,1080.9L931.3,1082.6L933.7,1084.0L936.2,1084.5L938.6,1084.7L941.1,1086.8L943.5,1087.0L945.9,1088.0L948.4,1089.0L950.8,1090.9L953.3,1091.8L955.7,1093.3L958.2,1093.5L960.6,1094.5L963.0,1097.2L965.5,1099.3L967.9,1102.1L970.4,1104.9" fill="none" stroke="#df8f5e" stroke-width="2.4" stroke-linejoin="round" clip-path="url(#c3)"/>
<path d="M39.5,1072.3L42.1,1071.3L44.6,1071.0L47.1,1071.3L49.7,1070.2L52.2,1069.7L54.8,1070.4L57.1,1069.2L59.5,1069.5L61.8,1068.5L64.2,1067.7L66.5,1067.5L68.8,1067.4L71.2,1066.8L73.5,1066.9L75.9,1066.5L78.2,1065.4L80.6,1065.4L82.9,1064.2L85.3,1063.8L87.6,1064.1L90.0,1063.8L92.3,1062.9L94.7,1062.3L97.0,1062.1L99.3,1062.3L101.7,1062.3L104.0,1062.7L106.4,1061.8L108.7,1061.7L111.1,1061.4L113.4,1061.1L115.8,1060.3L118.1,1059.5L120.5,1058.6L122.8,1057.7L125.1,1056.3L127.5,1055.0L129.8,1054.4L132.2,1053.2L134.5,1051.7L136.9,1051.0L139.2,1050.2L141.6,1049.0L143.9,1047.7L146.3,1046.6L148.6,1045.3L151.0,1044.2L153.3,1043.1L155.6,1042.1L158.0,1041.9L160.3,1037.5L162.7,1034.4L165.0,1030.2L167.4,1026.2L169.7,1022.9L172.7,1014.0L175.6,1004.4L178.3,1019.1L181.0,1034.2L183.6,1030.6L186.1,1024.9L188.5,1028.7L190.8,1031.2L193.2,1035.0L195.5,1038.2L197.9,1041.5L200.2,1044.5L202.6,1045.9L204.9,1046.6L207.3,1047.7L209.6,1049.7L212.0,1050.5L214.3,1051.9L216.6,1052.4L219.0,1054.0L221.3,1054.5L223.7,1054.2L226.0,1055.0L228.4,1056.0L230.7,1056.6L233.1,1057.2L235.4,1057.4L237.8,1058.6L240.1,1058.8L242.5,1059.9L244.8,1061.1L247.1,1061.4L249.5,1061.5L251.8,1062.9L254.2,1062.8L256.5,1062.9L258.9,1063.2L261.2,1063.3L263.6,1063.8L265.9,1064.3L268.3,1064.7L270.6,1064.4L273.0,1064.5L275.3,1065.5L277.7,1066.0L280.0,1066.6L282.4,1066.7L284.8,1066.9L287.1,1067.3L289.5,1067.6L291.8,1067.8L294.2,1069.1L296.5,1069.1L298.8,1069.0L301.2,1069.3L303.5,1070.0L305.9,1069.2L308.2,1069.6L310.6,1069.2L312.9,1068.7L315.3,1067.5L317.6,1067.8L320.0,1067.3L322.3,1066.6L324.7,1067.5L327.0,1067.3L329.3,1067.1L331.7,1067.9L334.0,1068.1L336.4,1068.1L338.7,1068.0L341.1,1068.9L343.4,1069.1L345.8,1068.4L348.1,1068.9L350.5,1068.9L352.8,1068.9L355.1,1069.7L357.5,1069.4L359.8,1069.6L362.2,1069.5L364.5,1070.2L366.9,1069.8L369.2,1070.2L371.6,1070.6L373.9,1070.5L376.3,1071.1L378.6,1071.1L381.0,1070.6L383.3,1071.7L385.6,1071.9L388.0,1071.6L390.3,1071.2L392.7,1072.0L395.0,1072.4L397.4,1071.7L399.7,1072.2L402.1,1071.5L404.4,1071.1L406.8,1071.9L409.1,1071.2L411.5,1071.7L413.8,1071.2L416.1,1071.3L418.5,1071.0L420.8,1071.6L423.2,1071.1L425.5,1071.5L427.9,1072.2L430.2,1071.3L432.6,1071.4L434.9,1072.4L437.3,1072.5L439.6,1072.1L442.0,1071.5L444.3,1072.0L446.6,1071.0L449.0,1071.0L451.3,1071.6L453.7,1071.0L456.0,1070.9L458.4,1071.2L460.7,1070.9L463.1,1070.9L465.4,1070.5L467.8,1069.7L470.1,1069.7L472.5,1069.4L474.8,1069.9L477.1,1070.5L479.5,1070.3L481.8,1070.2L484.2,1070.4L486.5,1071.2L488.9,1070.5L491.2,1070.6L493.6,1070.6L495.9,1070.5L498.3,1070.5L500.6,1069.6L503.0,1070.4L505.3,1069.6L507.7,1070.4L510.0,1069.8L512.4,1070.0L514.7,1071.1L517.1,1070.3L519.5,1071.5L521.8,1070.8L524.2,1071.3L526.5,1070.6L528.8,1071.3L531.2,1070.4L533.5,1070.7L535.9,1071.1L538.2,1070.6L540.6,1071.6L542.9,1072.3L545.3,1074.0L547.6,1075.0L550.0,1078.8L552.3,1083.7L554.7,1089.0L557.0,1092.8L559.3,1092.6L561.7,1091.9L564.0,1091.2L566.4,1087.9L568.7,1085.2L571.1,1083.1L573.4,1080.7L575.8,1079.9L578.1,1079.3L580.5,1079.0L582.8,1078.1L585.1,1078.4L587.5,1076.9L589.8,1076.5L592.2,1076.5L594.5,1075.6L596.9,1074.6L599.2,1074.9L601.6,1074.0L603.9,1073.7L606.3,1073.0L608.6,1072.1L611.0,1072.1L613.3,1071.8L615.6,1070.6L618.0,1071.0L620.3,1071.0L622.7,1070.4L625.0,1069.6L627.4,1070.3L629.7,1069.0L632.1,1069.5L634.4,1068.9L636.8,1068.9L639.1,1067.7L641.5,1067.5L643.8,1068.0L646.1,1067.2L648.5,1067.2L650.8,1066.4L653.2,1067.0L655.5,1066.1L657.9,1066.3L660.2,1066.2L662.6,1065.5L664.9,1065.2L667.3,1065.4L669.6,1065.2L672.0,1064.6L674.3,1065.2L676.6,1065.3L679.0,1064.9L681.3,1065.1L683.7,1065.1L686.0,1064.6L688.4,1064.5L690.7,1064.9L693.1,1064.6L695.4,1063.8L697.8,1064.7L700.1,1063.9L702.5,1064.1L704.8,1063.3L707.1,1063.5L709.5,1064.0L711.8,1063.3L714.2,1062.9L716.5,1062.8L718.9,1063.4L721.2,1062.3L723.6,1063.2L725.9,1063.0L728.3,1063.5L730.6,1062.9L733.0,1063.1L735.3,1064.3L737.9,1063.4L740.4,1063.5L743.0,1063.4L745.6,1063.1L748.0,1063.1L750.4,1063.4L752.9,1063.3L755.3,1062.4L757.8,1062.6L760.2,1062.9L762.7,1062.4L765.1,1061.5L767.5,1062.1L770.0,1062.2L772.4,1061.9L774.9,1062.0L777.3,1061.8L779.8,1061.5L782.2,1061.3L784.7,1060.6L787.1,1060.3L789.5,1060.9L792.0,1060.3L794.4,1059.9L796.9,1059.7L799.3,1059.9L801.8,1059.3L804.2,1059.5L806.6,1059.6L809.1,1059.6L811.5,1059.5L814.0,1059.1L816.4,1058.8L818.9,1059.3L821.3,1058.0L823.8,1058.2L826.2,1058.0L828.6,1057.7L831.1,1057.4L833.5,1056.0L836.0,1056.2L838.4,1055.7L840.9,1054.9L843.3,1054.2L845.7,1052.6L848.2,1051.3L850.6,1051.0L853.1,1049.4L855.5,1048.5L858.0,1048.4L860.4,1047.2L862.9,1046.7L865.3,1046.6L867.7,1047.5L870.2,1046.8L872.6,1048.4L875.1,1048.5L877.5,1049.1L880.0,1049.1L882.4,1050.5L884.8,1051.1L887.3,1051.8L889.7,1052.6L892.2,1053.4L894.6,1054.6L897.1,1055.2L899.5,1056.5L902.0,1057.3L904.4,1057.1L906.8,1058.8L909.3,1059.5L911.7,1059.9L914.2,1059.9L916.6,1060.3L919.1,1061.5L921.5,1061.5L923.9,1062.3L926.4,1063.2L928.8,1064.1L931.3,1064.5L933.7,1064.9L936.2,1065.1L938.6,1065.7L941.1,1066.4L943.5,1066.1L945.9,1067.3L948.2,1066.8L950.4,1066.5L952.6,1066.5L954.8,1066.9L957.0,1066.8L959.3,1067.3L961.5,1066.4L963.7,1066.9L965.9,1067.2L968.2,1066.4L970.4,1067.0" fill="none" stroke="#d17768" stroke-width="2.4" stroke-linejoin="round" clip-path="url(#c3)"/>
<path d="M39.5,1068.7L42.1,1068.6L44.6,1068.5L47.1,1067.8L49.7,1067.3L52.2,1066.3L54.8,1066.7L57.1,1066.1L59.5,1065.3L61.8,1065.6L64.2,1065.4L66.5,1065.3L68.8,1064.7L71.2,1064.3L73.5,1063.5L75.9,1063.6L78.2,1063.4L80.6,1062.6L82.9,1062.8L85.3,1062.2L87.6,1061.5L90.0,1061.4L92.3,1061.1L94.7,1060.1L97.0,1059.1L99.3,1059.8L101.7,1058.8L104.0,1057.8L106.4,1058.0L108.7,1057.7L111.1,1057.6L113.4,1056.8L115.8,1056.4L118.1,1054.7L120.5,1054.5L122.8,1054.4L125.1,1053.8L127.5,1052.6L129.8,1052.7L132.2,1052.3L134.5,1051.6L136.9,1051.1L139.2,1049.7L141.6,1049.3L143.9,1048.8L146.3,1047.2L148.6,1046.1L151.0,1043.8L153.3,1042.5L155.6,1041.1L158.0,1038.9L160.3,1036.1L162.7,1033.1L165.0,1030.2L167.4,1026.2L169.7,1022.8L173.0,1009.7L176.3,995.8L180.3,1008.5L182.6,1043.6L186.1,1033.0L188.5,1035.2L190.8,1038.2L193.2,1041.3L195.5,1044.2L197.9,1045.5L200.2,1046.6L202.6,1047.4L204.9,1049.0L207.3,1050.4L209.6,1050.6L212.2,1052.1L214.8,1052.7L217.4,1053.7L220.0,1054.4L222.5,1055.3L225.0,1056.2L227.5,1057.6L230.0,1058.0L232.5,1058.0L235.0,1058.4L237.5,1059.8L240.0,1060.3L242.5,1060.5L245.0,1060.4L247.5,1061.3L250.0,1062.2L252.5,1062.0L255.0,1063.3L257.5,1063.5L260.0,1063.5L262.5,1063.7L265.0,1064.3L267.5,1064.4L270.0,1065.6L272.5,1065.2L275.0,1065.7L277.5,1065.9L280.0,1066.2L282.5,1067.0L285.0,1066.7L287.5,1067.6L290.0,1068.6L292.5,1069.0L295.0,1069.1L297.5,1069.3L300.0,1069.6L302.6,1069.5L305.2,1068.1L307.8,1068.3L310.3,1066.8L312.9,1066.2L315.3,1065.7L317.6,1065.5L320.0,1065.4L322.3,1065.9L324.7,1065.4L327.0,1065.0L329.3,1065.1L331.7,1066.3L334.0,1065.8L336.4,1066.5L338.7,1067.5L341.1,1067.3L343.4,1067.7L345.8,1067.8L348.1,1068.2L350.5,1067.5L352.8,1068.5L355.1,1068.7L357.5,1068.9L359.8,1068.2L362.2,1069.1L364.5,1069.3L366.9,1069.3L369.2,1068.8L371.6,1068.9L373.9,1069.2L376.3,1069.9L378.6,1070.0L381.0,1069.7L383.3,1069.6L385.6,1069.7L388.0,1069.4L390.3,1069.9L392.7,1070.0L395.0,1070.3L397.4,1069.6L399.7,1069.5L402.1,1070.3L404.4,1069.9L406.8,1070.2L409.1,1069.3L411.5,1069.4L413.8,1070.0L416.1,1069.5L418.5,1070.3L420.8,1069.7L423.2,1069.8L425.5,1070.0L427.9,1069.8L430.2,1069.2L432.6,1070.2L434.9,1069.5L437.3,1070.2L439.6,1069.2L442.0,1069.2L444.3,1070.3L446.6,1069.6L449.0,1069.6L451.3,1069.8L453.7,1069.3L456.0,1070.0L458.4,1069.1L460.7,1069.0L463.1,1068.5L465.4,1068.5L467.8,1068.3L470.1,1067.3L472.5,1067.1L474.8,1068.1L477.1,1067.3L479.5,1068.4L481.8,1068.2L484.2,1068.0L486.5,1068.7L488.9,1068.9L491.2,1068.5L493.6,1068.2L495.9,1068.2L498.3,1068.5L500.6,1067.6L503.0,1067.2L505.3,1067.4L507.7,1067.3L510.0,1068.5L512.4,1068.5L514.8,1068.5L517.1,1068.3L519.5,1068.6L521.8,1068.6L524.2,1068.4L526.5,1068.4L528.8,1068.5L531.2,1068.2L533.5,1069.1L535.9,1069.3L538.2,1070.2L540.6,1070.1L542.9,1070.8L545.3,1075.3L547.6,1079.5L550.0,1084.5L552.3,1088.9L554.7,1091.3L557.0,1093.6L559.3,1095.0L561.7,1092.1L564.0,1087.9L566.4,1083.8L568.7,1082.2L571.1,1081.4L573.4,1080.3L575.8,1079.4L578.1,1079.2L580.5,1078.9L582.8,1078.8L585.1,1077.7L587.5,1078.1L589.8,1077.7L592.2,1076.6L594.5,1077.0L596.9,1076.2L599.2,1075.0L601.6,1075.0L603.9,1073.7L606.3,1072.8L608.6,1072.5L611.0,1071.8L613.3,1070.6L615.6,1070.7L618.0,1070.6L620.3,1071.0L622.7,1070.3L625.0,1070.8L627.4,1070.0L629.7,1069.5L632.1,1069.7L634.4,1069.1L636.8,1070.0L639.1,1069.8L641.5,1068.9L643.8,1069.2L646.1,1069.3L648.5,1068.6L650.8,1068.0L653.2,1068.2L655.5,1067.8L657.9,1066.7L660.2,1067.3L662.6,1066.6L664.9,1066.1L667.3,1065.7L669.6,1065.1L672.0,1064.3L674.3,1064.7L676.6,1064.8L679.0,1064.0L681.3,1063.3L683.7,1063.6L686.0,1062.5L688.4,1062.5L690.7,1063.1L693.1,1062.7L695.4,1063.1L697.8,1063.6L700.1,1063.0L702.5,1064.1L704.8,1063.7L707.1,1064.3L709.5,1063.2L711.8,1064.0L714.2,1062.8L716.5,1062.6L718.9,1062.7L721.2,1062.6L723.6,1062.3L725.9,1061.9L728.3,1062.6L730.6,1062.0L733.0,1061.9L735.3,1061.5L737.9,1061.3L740.4,1061.0L743.0,1061.1L745.6,1060.5L748.0,1060.5L750.4,1060.2L752.9,1060.6L755.3,1060.4L757.8,1060.6L760.2,1060.4L762.7,1059.9L765.1,1060.1L767.5,1059.9L770.0,1058.9L772.4,1058.9L774.9,1058.8L777.3,1058.8L779.8,1059.0L782.2,1058.3L784.7,1058.6L787.1,1058.4L789.5,1058.7L792.0,1057.8L794.4,1057.9L796.9,1057.2L799.3,1057.1L801.8,1057.8L804.2,1056.9L806.6,1057.0L809.1,1056.3L811.5,1056.0L814.0,1056.3L816.4,1055.2L818.9,1054.9L821.3,1054.5L823.8,1054.4L826.2,1053.9L828.6,1054.5L831.1,1054.1L833.5,1052.9L836.0,1052.3L838.4,1052.4L840.9,1051.5L843.3,1050.3L845.7,1049.0L848.2,1048.6L850.6,1047.3L853.1,1045.8L855.5,1045.4L858.0,1043.8L860.4,1043.0L862.9,1042.9L865.3,1043.1L867.7,1042.8L870.2,1042.8L872.6,1042.9L875.1,1044.1L877.5,1043.5L880.0,1044.8L882.4,1045.0L884.8,1045.9L887.3,1047.1L889.7,1047.8L892.2,1048.6L894.6,1050.2L897.1,1050.6L899.5,1051.7L902.0,1052.7L904.4,1054.1L906.8,1055.1L909.3,1055.0L911.7,1056.1L914.2,1057.0L916.6,1057.1L919.1,1058.2L921.5,1058.1L923.9,1059.0L926.4,1059.8L928.8,1060.4L931.3,1061.1L933.7,1060.9L936.2,1061.9L938.6,1063.2L941.1,1063.7L943.5,1064.1L945.9,1063.8L948.4,1064.1L950.8,1065.0L953.3,1065.4L955.7,1065.4L958.2,1066.0L960.6,1066.0L963.0,1066.1L965.5,1066.4L967.9,1067.3L970.4,1067.0" fill="none" stroke="#c46470" stroke-width="2.4" stroke-linejoin="round" clip-path="url(#c3)"/>
<path d="M39.5,1058.2L42.2,1057.7L44.8,1057.7L47.4,1057.3L50.1,1057.2L52.4,1055.6L54.8,1054.6L57.1,1053.3L59.5,1054.9L61.8,1055.2L64.2,1056.0L66.5,1057.3L68.8,1056.9L71.2,1056.9L73.5,1056.5L75.9,1055.6L78.2,1055.6L80.6,1055.5L82.9,1054.7L85.3,1053.5L87.6,1053.7L90.0,1052.9L92.3,1052.1L94.7,1052.2L97.0,1051.3L99.3,1050.3L101.7,1050.1L104.0,1049.0L106.4,1048.9L108.7,1048.5L111.1,1048.0L113.4,1047.8L115.8,1047.2L118.1,1046.4L120.0,1043.2L122.5,1041.7L125.0,1040.8L127.5,1038.8L130.0,1038.1L132.5,1036.3L135.0,1035.1L137.5,1034.8L140.0,1032.5L142.5,1032.4L145.0,1030.6L147.5,1028.8L150.0,1027.5L152.5,1026.6L155.0,1025.8L157.6,1021.3L160.3,1016.8L162.9,1012.6L165.5,1008.4L168.1,994.3L170.8,980.2L173.4,936.6L176.0,900.9L178.6,944.8L181.3,980.5L184.8,1002.8L187.7,1006.5L190.6,1011.2L193.5,1015.1L196.1,1018.0L198.8,1019.9L201.4,1022.5L204.0,1026.0L206.3,1026.5L208.7,1028.6L211.0,1029.8L213.3,1030.9L215.7,1033.2L218.0,1034.3L220.0,1041.0L222.5,1041.8L225.0,1043.5L227.5,1045.0L230.0,1045.7L232.5,1047.1L235.0,1047.4L237.5,1049.4L240.0,1050.2L242.5,1051.1L245.0,1051.6L247.5,1051.8L250.0,1051.7L252.5,1052.8L255.0,1052.7L257.5,1052.9L260.0,1053.8L262.5,1054.7L265.0,1054.7L267.5,1055.3L270.0,1054.9L272.5,1055.0L275.0,1055.8L277.5,1056.9L280.0,1057.2L282.5,1056.7L285.0,1057.4L287.5,1058.3L290.0,1058.5L292.5,1058.4L295.0,1058.4L297.5,1057.8L300.0,1058.2L303.5,1058.7L305.9,1059.2L308.2,1058.6L310.6,1059.2L312.9,1059.0L315.3,1059.5L318.2,1056.5L321.1,1052.9L324.1,1054.8L327.0,1057.1L329.3,1057.4L331.7,1057.4L334.0,1057.8L336.4,1058.2L338.7,1058.9L341.1,1058.9L343.4,1059.5L345.8,1060.3L348.1,1059.8L350.5,1060.7L352.8,1060.6L355.1,1061.1L357.5,1061.5L359.8,1062.1L362.2,1061.7L364.5,1062.4L366.9,1061.9L369.2,1062.7L371.6,1063.1L373.9,1063.9L376.3,1064.1L378.6,1063.9L381.0,1063.5L383.3,1063.6L385.6,1064.1L388.0,1064.6L390.3,1064.3L392.7,1064.4L395.0,1065.3L397.4,1064.9L399.7,1065.6L402.1,1065.5L404.4,1066.0L406.8,1065.8L409.1,1065.4L411.5,1065.5L413.8,1065.9L416.1,1065.7L418.5,1066.0L420.8,1066.7L423.2,1066.2L425.5,1066.4L427.9,1066.0L430.2,1065.8L432.6,1065.7L434.9,1065.7L437.3,1066.4L439.6,1066.8L442.0,1065.9L444.3,1066.7L446.6,1066.5L449.0,1066.9L451.3,1067.0L453.7,1066.9L456.0,1066.6L458.4,1066.5L460.7,1067.2L463.1,1067.3L465.4,1067.2L467.8,1067.2L470.1,1067.8L472.5,1068.0L474.8,1067.1L477.1,1067.5L479.5,1066.7L481.8,1066.3L484.2,1067.0L486.5,1066.5L488.9,1066.6L491.2,1066.8L493.6,1066.6L495.9,1065.7L498.3,1066.4L500.6,1066.8L503.0,1065.8L505.3,1066.6L507.7,1066.2L510.0,1066.9L512.4,1067.3L514.8,1067.6L517.1,1067.6L519.5,1067.6L521.8,1068.3L524.2,1067.9L526.5,1067.9L528.8,1068.6L531.2,1068.3L533.5,1068.6L535.9,1068.9L538.2,1068.4L540.6,1067.9L542.9,1067.2L545.3,1065.2L547.6,1063.2L550.0,1061.9L552.3,1060.9L554.7,1060.9L557.0,1060.5L559.3,1063.3L561.7,1067.9L564.0,1066.1L566.4,1064.1L568.7,1062.3L571.1,1060.1L573.4,1057.1L575.8,1055.3L578.1,1052.2L580.5,1054.0L582.8,1055.8L585.1,1057.9L587.5,1060.9L589.8,1064.0L592.2,1067.7L594.5,1068.6L596.9,1068.4L599.2,1069.5L601.6,1069.3L603.9,1069.3L606.3,1069.4L608.6,1068.9L611.0,1069.2L613.3,1069.3L615.6,1070.6L618.0,1070.6L620.3,1071.3L622.7,1071.8L625.0,1070.9L627.4,1071.2L629.7,1071.1L632.1,1071.9L634.4,1071.4L636.8,1072.4L639.1,1071.7L641.5,1071.8L643.8,1071.4L646.1,1070.7L648.5,1070.4L650.8,1070.4L653.2,1070.2L655.5,1070.1L657.9,1070.3L660.2,1070.6L662.6,1070.2L664.9,1070.2L667.3,1069.3L669.6,1068.5L672.0,1068.7L674.3,1068.4L676.6,1067.5L679.0,1067.1L681.3,1067.0L683.7,1066.0L686.0,1067.0L688.4,1066.5L690.7,1066.5L693.1,1067.2L695.4,1066.8L697.8,1067.3L700.1,1066.9L702.5,1067.1L704.8,1066.8L707.1,1067.1L709.5,1067.5L711.8,1066.6L714.2,1067.0L716.5,1066.8L718.9,1066.0L721.2,1066.3L723.6,1066.5L725.9,1066.1L728.3,1067.1L730.6,1067.5L733.0,1066.7L735.3,1067.0L737.9,1067.1L740.4,1066.8L743.0,1066.7L745.6,1067.2L748.0,1067.1L750.4,1065.7L752.9,1065.9L755.3,1065.2L757.8,1064.6L760.2,1064.0L762.7,1063.8L765.1,1063.1L767.5,1062.6L770.0,1062.8L772.4,1062.9L774.9,1062.4L777.3,1061.8L779.8,1061.4L782.2,1061.6L784.7,1060.7L787.1,1059.9L789.5,1060.4L792.0,1059.3L794.4,1058.6L796.9,1058.9L799.3,1058.1L801.8,1057.3L804.2,1057.0L806.6,1056.5L809.1,1056.3L811.5,1056.9L814.0,1057.1L816.4,1056.2L818.9,1055.8L821.3,1056.5L823.8,1056.0L826.2,1054.9L828.6,1055.2L831.1,1054.1L833.5,1053.7L836.0,1053.4L838.4,1052.3L840.9,1051.4L843.3,1051.2L845.7,1050.0L848.2,1049.2L850.6,1049.0L853.5,1045.2L856.3,1041.0L859.2,1038.1L861.6,1042.7L864.1,1046.9L866.5,1052.4L869.4,1046.8L872.2,1040.4L875.1,1034.2L877.5,1040.2L880.0,1045.4L882.4,1050.7L884.8,1051.9L887.3,1053.8L889.7,1054.4L892.2,1055.5L894.6,1057.2L897.1,1057.6L899.5,1059.0L902.0,1059.0L904.4,1060.2L906.8,1060.8L909.3,1062.1L911.7,1062.5L914.2,1063.8L916.6,1064.2L919.1,1065.5L921.5,1065.4L923.9,1067.6L926.4,1069.6L928.8,1070.3L931.3,1072.6L933.7,1073.9L936.2,1074.3L938.6,1073.2L941.1,1072.7L943.5,1077.7L945.9,1081.3L948.4,1080.5L950.8,1079.9L953.3,1079.2L955.7,1078.3L958.2,1078.3L960.6,1079.3L963.0,1079.6L965.5,1080.0L967.9,1080.2L970.4,1079.2" fill="none" stroke="#89258a" stroke-width="2.4" stroke-linejoin="round" clip-path="url(#c3)"/>
<path d="M39.5,1055.8L42.1,1055.2L44.6,1055.1L47.1,1054.8L49.7,1055.2L52.2,1055.3L54.8,1055.0L57.1,1054.8L59.5,1054.3L61.8,1053.7L64.2,1053.8L66.5,1052.8L68.8,1052.5L71.2,1053.0L73.5,1051.8L75.9,1051.8L78.2,1051.4L80.6,1051.5L82.9,1050.6L85.3,1050.5L87.6,1049.5L90.0,1048.9L92.3,1049.1L94.7,1048.3L97.0,1048.0L99.3,1047.0L101.7,1046.8L104.0,1045.9L106.4,1045.4L108.7,1044.4L111.1,1044.6L113.3,1042.8L115.5,1041.0L117.8,1039.4L120.0,1037.9L122.5,1036.8L125.0,1035.2L127.5,1033.6L130.0,1033.0L132.5,1031.9L135.0,1029.9L137.5,1028.8L139.8,1027.5L142.2,1025.5L144.5,1024.1L146.8,1022.3L149.2,1020.6L151.5,1018.8L154.1,1015.0L156.8,1012.1L159.4,1009.0L162.0,1006.8L164.3,999.0L166.7,991.1L169.0,983.6L172.5,944.8L175.1,897.7L176.9,891.1L179.5,927.2L182.1,962.9L184.8,985.4L188.3,1000.6L191.2,1003.0L194.1,1006.1L197.0,1008.4L199.6,1010.6L202.3,1012.2L204.9,1014.8L207.5,1016.5L210.0,1019.8L212.5,1022.9L215.0,1026.4L217.5,1029.8L220.0,1033.1L223.0,1033.9L226.0,1035.4L228.7,1037.1L231.3,1038.9L234.0,1040.9L236.5,1041.4L239.0,1042.0L241.5,1043.1L244.0,1044.0L246.4,1044.0L248.8,1044.1L251.2,1043.8L253.6,1043.6L256.0,1043.9L258.7,1045.2L261.3,1046.5L264.0,1048.5L267.0,1049.2L270.0,1050.7L272.7,1050.3L275.3,1049.7L278.0,1048.7L280.5,1049.4L283.0,1049.2L285.5,1050.0L288.0,1049.7L291.0,1051.1L294.0,1052.9L297.0,1052.3L300.0,1051.6L302.7,1050.4L305.5,1049.4L308.2,1047.5L310.6,1047.1L312.9,1046.3L315.3,1046.0L317.6,1045.1L320.0,1044.7L322.3,1046.1L324.7,1048.2L327.0,1049.7L329.3,1050.1L331.7,1050.7L334.0,1050.9L336.4,1051.2L338.7,1050.8L341.1,1051.1L343.4,1052.3L345.8,1053.3L348.1,1054.1L350.5,1055.5L352.8,1054.6L355.1,1054.4L357.5,1053.3L359.8,1052.8L362.2,1052.4L364.5,1052.3L366.9,1051.7L369.2,1051.8L371.6,1052.0L373.9,1051.4L376.3,1051.9L378.6,1051.7L381.0,1051.4L383.3,1052.4L385.6,1053.1L388.0,1053.6L390.3,1054.0L392.7,1054.6L395.0,1054.9L397.4,1055.6L399.7,1056.5L402.1,1056.6L404.4,1056.7L406.8,1055.3L409.1,1054.9L411.5,1054.7L413.8,1054.2L416.1,1052.9L418.5,1054.0L420.8,1054.4L423.2,1054.8L425.5,1055.4L427.9,1055.8L430.2,1057.2L432.6,1056.2L434.9,1055.2L437.3,1054.3L439.6,1053.7L442.0,1054.3L444.3,1055.1L446.6,1055.8L449.0,1057.3L451.3,1057.8L453.7,1058.9L456.0,1058.4L458.4,1056.2L460.7,1055.1L463.1,1054.3L465.4,1052.9" fill="none" stroke="#74148c" stroke-width="2.4" stroke-linejoin="round" clip-path="url(#c3)"/>
<path d="M39.5,1050.0L41.7,1049.8L44.0,1049.9L46.2,1049.6L48.4,1049.1L50.6,1049.0L52.8,1049.3L55.0,1048.8L57.2,1048.8L59.5,1048.6L61.8,1048.5L64.2,1048.5L66.5,1047.9L68.8,1048.1L71.2,1047.5L73.5,1047.7L75.9,1047.1L78.2,1047.3L80.6,1046.4L82.9,1046.4L85.3,1045.9L87.6,1045.6L90.0,1045.4L92.3,1044.2L94.7,1044.1L97.0,1043.7L99.3,1042.9L101.7,1042.5L104.0,1042.2L106.4,1041.5L108.7,1040.8L110.9,1039.0L113.2,1037.7L115.5,1036.4L117.7,1035.6L120.0,1034.5L122.3,1032.8L124.7,1031.1L127.0,1030.1L129.3,1028.2L131.7,1027.2L134.0,1025.6L136.3,1022.9L138.7,1020.5L141.0,1018.7L143.3,1016.0L145.7,1013.6L148.0,1011.5L150.5,1007.4L152.9,1003.9L155.4,999.8L157.8,995.8L160.3,992.2L163.3,977.7L166.4,962.7L170.8,918.6L175.1,885.7L176.4,883.6L178.6,896.4L181.3,927.6L184.8,962.3L188.3,986.7L190.9,995.0L193.5,1002.9L196.1,1005.4L198.8,1008.3L201.4,1010.9L204.0,1013.0L206.3,1015.2L208.7,1017.1L211.0,1018.8L213.3,1019.9L215.7,1021.8L218.0,1023.8L220.0,1024.8L222.7,1026.8L225.3,1029.0L228.0,1030.6L230.7,1032.8L233.3,1033.8L236.0,1035.7L238.3,1036.0L240.7,1037.1L243.0,1037.9L245.3,1038.6L247.7,1039.2L250.0,1040.1L252.4,1040.3L254.8,1041.6L257.2,1041.5L259.6,1042.7L262.0,1043.3L264.3,1043.6L266.7,1043.9L269.0,1044.3L271.3,1044.1L273.7,1044.4L276.0,1045.2L278.4,1044.8L280.8,1044.7L283.2,1044.9L285.6,1044.5L288.0,1044.3L290.4,1044.1L292.8,1044.3L295.2,1044.2L297.6,1043.8L300.0,1043.7L301.2,1044.1L303.5,1043.6L305.9,1043.2L308.2,1042.8L310.6,1041.8L312.9,1041.7L315.9,1038.3L318.8,1035.4L321.5,1036.1L324.3,1037.3L327.0,1038.2L329.3,1038.9L331.7,1040.6L334.0,1042.0L336.4,1043.0L338.7,1042.8L341.1,1043.1L343.4,1043.3L345.8,1043.7L348.1,1043.9L350.5,1044.6L352.8,1044.6L355.1,1045.8L357.5,1045.7L359.8,1046.3L362.2,1047.2L364.5,1047.1L366.9,1047.9L369.2,1047.6L371.6,1047.6L373.9,1048.0L376.3,1047.7L378.6,1048.0L381.0,1048.2L383.3,1047.9L385.6,1048.4L388.0,1048.0L390.3,1048.6L392.7,1048.6L395.0,1049.0L397.4,1049.0L399.7,1049.0L402.1,1048.8L404.4,1049.1L406.8,1049.2L409.1,1049.9L411.5,1050.2L413.8,1050.2L416.1,1050.6L418.5,1050.2L420.8,1050.0L423.2,1050.1L425.5,1050.2L427.9,1050.3L430.2,1050.0L432.6,1050.3L434.9,1050.1L437.3,1049.9L439.6,1049.4L442.0,1049.5L444.3,1049.7L446.6,1048.9L449.0,1049.5L451.3,1049.2L453.7,1049.6L456.0,1049.6L458.4,1049.5L460.7,1049.3L463.1,1049.6L465.4,1049.8L467.8,1050.1L470.1,1050.0L472.5,1049.8L474.8,1050.3L477.1,1049.9L479.5,1050.0L481.8,1050.6L484.2,1050.0L486.5,1050.6L488.9,1050.8L491.2,1050.7L493.6,1050.5L495.9,1050.1L498.3,1050.4L500.6,1049.7L503.0,1049.5L505.3,1049.8L507.7,1049.4L510.0,1049.0L512.4,1048.8L514.8,1048.8L517.1,1049.0L519.5,1048.4L521.8,1048.6L524.2,1048.3L526.5,1048.6L528.8,1049.0L531.2,1049.0L533.5,1048.5L535.9,1051.3L538.2,1054.4L540.6,1057.2L542.9,1060.0L545.6,1064.2L548.2,1068.7L550.8,1073.0L553.5,1076.7L556.4,1075.6L559.3,1074.4L561.7,1072.5L564.0,1070.2L566.4,1068.5L568.7,1066.3L571.1,1064.1L573.4,1063.1L575.8,1062.4L578.1,1061.7L580.5,1061.1L582.8,1060.6L585.1,1059.8L587.5,1058.8L589.8,1057.9L592.2,1057.7L594.5,1057.3L596.9,1056.9L599.2,1056.4L601.6,1055.8L603.9,1055.7L606.3,1054.8L608.6,1054.2L611.0,1054.0L613.3,1053.5L615.6,1053.0L618.0,1053.0L620.3,1052.6L622.7,1052.1L625.0,1051.4L627.4,1051.3L629.7,1050.4L632.1,1050.1L634.4,1050.0L636.8,1050.0L639.1,1049.4L641.5,1049.3L643.8,1048.7L646.1,1049.0L648.5,1048.4L650.8,1048.2L653.2,1047.6L655.5,1047.2L657.9,1047.4L660.2,1046.5L662.6,1046.8L664.9,1046.4L667.3,1046.1L669.6,1046.5L672.0,1046.6L674.3,1046.6L676.6,1046.3L679.0,1046.2L681.3,1046.2L683.7,1046.4L686.0,1046.0L688.4,1046.0L690.7,1046.2L693.1,1046.5L695.4,1046.4L697.8,1046.2L700.1,1045.9L702.5,1046.2L704.8,1045.6L707.1,1045.7L709.5,1045.6L711.8,1045.3L714.2,1045.6L716.5,1045.0L718.9,1045.2L721.2,1045.2L723.6,1045.0L725.9,1045.1L728.3,1045.1L730.6,1045.4L733.0,1045.5L735.3,1045.3L737.8,1044.9L740.3,1044.6L742.9,1043.5L745.4,1043.1L747.9,1042.7L750.4,1042.6L752.9,1042.3L755.3,1041.8L757.8,1041.4L760.2,1040.8L762.7,1040.8L765.1,1039.8L767.4,1039.8L769.7,1040.2L772.0,1039.5L774.3,1039.9L776.6,1039.8L778.9,1039.4L781.3,1039.1L783.6,1038.9L785.9,1038.6L788.1,1036.7L790.4,1035.1L792.6,1032.6L794.8,1031.1L797.1,1028.9L799.3,1026.3L801.8,1028.3L804.2,1030.7L806.6,1031.9L809.1,1034.2L811.8,1036.3L814.6,1038.1L817.3,1040.5L820.1,1042.8L822.3,1042.3L824.6,1041.3L826.8,1040.4L829.0,1039.8L831.3,1039.2L833.5,1039.1L836.0,1038.5L838.4,1037.5L840.9,1036.9L843.3,1036.3L845.7,1035.4L848.2,1035.8L850.6,1035.9L853.1,1036.3L855.5,1036.4L858.0,1036.2L860.4,1036.2L862.9,1036.2L865.3,1036.0L867.7,1034.5L870.2,1033.0L872.6,1031.2L875.1,1029.8L877.5,1028.1L880.0,1029.5L882.4,1030.8L884.8,1032.2L887.3,1034.0L889.7,1034.8L892.2,1036.0L894.6,1037.0L897.1,1038.3L899.5,1039.4L902.0,1040.5L904.4,1041.0L906.8,1041.5L909.3,1041.7L911.7,1042.6L914.2,1043.2L916.6,1043.6L919.1,1044.7L921.5,1045.2L923.7,1045.4L925.9,1045.8L928.2,1045.9L930.4,1045.6L932.6,1046.4L934.8,1046.1L937.1,1046.9L939.3,1046.6L941.5,1046.6L943.7,1047.0L945.9,1047.2L948.2,1047.3L950.4,1046.9L952.6,1047.3L954.8,1046.9L957.0,1046.9L959.3,1046.7L961.5,1046.8L963.7,1046.2L965.9,1046.7L968.2,1046.7L970.4,1046.2" fill="none" stroke="#560c89" stroke-width="2.4" stroke-linejoin="round" clip-path="url(#c3)"/>
<path d="M39.5,1045.3L41.7,1045.0L44.0,1044.8L46.2,1044.3L48.4,1044.4L50.6,1044.1L52.8,1043.9L55.0,1043.2L57.2,1043.4L59.5,1043.0L61.8,1042.8L64.2,1042.8L66.5,1042.2L68.8,1042.0L71.2,1042.2L73.5,1041.9L75.9,1041.8L78.2,1041.6L80.6,1041.8L82.9,1041.5L85.3,1041.8L87.6,1041.9L90.0,1040.7L92.3,1040.0L94.7,1038.9L97.0,1038.3L99.3,1037.1L101.7,1036.3L104.0,1035.8L106.4,1034.7L108.7,1033.8L110.9,1032.4L113.2,1031.7L115.5,1030.2L117.7,1029.2L120.0,1028.1L122.6,1025.0L125.3,1022.3L127.9,1019.9L130.5,1016.9L132.8,1014.4L135.2,1011.8L137.5,1010.0L139.8,1007.5L142.2,1005.0L144.5,1002.8L146.8,998.8L149.1,994.6L151.3,990.1L153.6,986.1L155.9,981.9L158.9,966.9L162.0,951.9L165.1,935.5L168.1,918.9L170.8,901.2L173.4,884.0L176.0,868.7L178.6,853.2L182.1,883.8L186.5,927.3L190.0,966.0L192.3,971.7L194.7,977.7L197.0,983.5L199.6,988.4L202.3,993.1L204.9,997.8L207.5,1002.6L210.1,1006.5L212.8,1009.8L215.4,1013.1L218.0,1016.6L220.0,1018.8L222.7,1021.4L225.3,1023.4L228.0,1025.7L230.7,1027.7L233.3,1030.3L236.0,1031.8L238.4,1032.4L240.8,1033.2L243.2,1033.6L245.6,1034.5L248.0,1034.9L250.5,1035.8L253.0,1036.7L255.5,1037.3L258.0,1037.9L260.4,1037.7L262.8,1037.1L265.2,1037.0L267.6,1036.6L270.0,1036.6L272.5,1036.9L275.0,1037.5L277.5,1038.7L280.0,1038.9L282.4,1039.1L284.8,1039.6L287.2,1039.5L289.6,1039.9L292.0,1040.1L294.7,1039.6L297.3,1038.6L300.0,1038.0L303.5,1037.0L305.9,1034.1L308.2,1031.0L310.6,1027.8L312.9,1024.8L315.3,1021.6L317.6,1023.6L320.0,1025.2L322.3,1026.8L324.7,1028.4L327.0,1030.3L329.3,1032.2L331.7,1033.6L334.0,1035.2L336.4,1037.3L338.7,1038.8L341.1,1039.0L343.4,1039.6L345.8,1040.2L348.1,1040.5L350.5,1041.0L352.8,1041.9L355.1,1043.2L357.5,1044.1L359.8,1045.5L362.2,1046.3L364.5,1046.3L366.9,1045.9L369.2,1046.3L371.6,1045.8L373.9,1046.2L376.3,1046.2L378.6,1045.6L381.0,1045.8L383.3,1046.4L385.6,1046.4L388.0,1046.5L390.3,1047.0L392.7,1047.0L395.0,1047.2L397.4,1047.6L399.7,1047.5L402.1,1047.4L404.4,1047.6L406.8,1047.5L409.1,1047.7L411.5,1047.6L413.8,1047.3L416.1,1047.7L418.5,1048.0L420.8,1047.9L423.2,1048.5L425.5,1048.6L427.9,1048.8L430.2,1049.2L432.6,1049.5L434.9,1050.0L437.3,1049.6L439.6,1049.0L442.0,1048.7L444.3,1048.1L446.6,1047.4L449.0,1046.9L451.3,1047.0L453.7,1046.2L456.0,1047.3L458.4,1047.6L460.7,1048.7L463.1,1049.5L465.4,1049.9L467.8,1050.5L470.1,1051.5L472.5,1051.4L474.8,1051.4L477.1,1051.2L479.5,1051.1L481.8,1050.7L484.2,1050.5L486.5,1050.6L488.9,1050.3L491.2,1050.1L493.6,1049.8L495.9,1049.1L498.3,1048.8L500.6,1048.1L503.0,1048.1L505.3,1047.7L507.7,1046.8L510.1,1046.0L512.4,1046.6L514.8,1047.3L517.1,1047.6L519.5,1047.6L521.8,1048.5L524.2,1048.6L526.5,1048.6L528.8,1048.1L531.2,1048.0L533.5,1047.5L535.9,1049.9L538.2,1053.0L540.6,1055.3L542.9,1058.0L545.3,1060.9L547.6,1063.8L550.0,1066.6L552.3,1069.8L554.7,1070.3L557.0,1070.9L559.3,1069.7L561.7,1068.2L564.0,1066.5L566.4,1064.9L568.7,1064.2L571.1,1063.7L573.4,1062.7L575.8,1062.0L578.1,1061.1L580.5,1060.2L582.8,1059.5L585.1,1059.1L587.5,1058.5L589.8,1057.7L592.2,1057.5L594.5,1056.8L596.9,1056.6L599.2,1055.9L601.6,1055.2L603.9,1055.0L606.3,1054.4L608.6,1053.8L611.0,1053.7L613.3,1052.8L615.6,1052.6L618.0,1052.1L620.3,1051.6L622.7,1051.3L625.0,1051.2L627.4,1051.2L629.7,1050.8L632.1,1050.2L634.4,1050.3L636.8,1049.8L639.1,1049.2L641.5,1048.7L643.8,1047.9L646.1,1047.5L648.5,1046.6L650.8,1046.2L653.2,1045.6L655.5,1044.9L657.9,1045.4L660.2,1045.8L662.6,1046.2L664.9,1046.2L667.3,1046.8L669.6,1046.9L672.0,1047.4L674.3,1047.4L676.6,1047.2L679.0,1046.8L681.3,1046.5L683.7,1046.2L686.0,1045.4L688.4,1045.4L690.7,1044.5L693.1,1044.3L695.4,1044.4L697.8,1044.8L700.1,1045.1L702.5,1045.2L704.8,1045.7L707.1,1045.6L709.5,1045.9L711.8,1046.1L714.2,1046.0L716.5,1045.9L718.9,1045.4L721.2,1045.0L723.6,1044.6L725.9,1044.4L728.3,1044.0L730.6,1043.4L733.0,1043.4L735.3,1042.7L737.8,1042.8L740.3,1043.0L742.9,1043.3L745.4,1043.5L747.9,1043.7L750.4,1043.6L752.9,1042.7L755.3,1042.4L757.8,1041.2L760.2,1040.6L762.7,1039.7L765.1,1039.1L767.5,1039.0L770.0,1038.4L772.4,1038.2L774.9,1038.4L777.3,1038.1L779.8,1037.7L782.2,1037.8L784.7,1037.7L787.1,1036.0L789.5,1033.5L792.0,1032.1L794.4,1029.7L796.9,1027.9L799.3,1028.3L801.8,1029.0L804.2,1029.0L806.6,1029.9L809.1,1030.7L811.5,1031.3L814.0,1032.6L816.4,1032.9L818.9,1033.9L821.3,1034.1L823.8,1033.7L826.2,1033.5L828.6,1033.3L831.1,1032.7L833.5,1032.8L836.0,1031.8L838.4,1030.2L840.9,1029.3L843.3,1028.0L845.7,1026.7L848.2,1025.5L850.6,1025.0L853.1,1024.3L855.5,1023.7L858.0,1023.1L860.4,1023.9L862.9,1024.4L865.3,1024.7L867.7,1025.7L870.2,1023.7L872.6,1022.1L875.1,1020.3L877.5,1023.3L880.0,1025.4L882.4,1027.7L884.8,1030.2L887.3,1031.1L889.7,1031.5L892.2,1032.1L894.6,1032.1L897.1,1032.6L899.5,1033.6L902.0,1034.7L904.4,1035.5L906.8,1036.2L909.3,1036.8L911.7,1037.4L914.2,1038.3L916.6,1038.6L919.1,1039.2L921.5,1039.5L923.9,1039.9L926.4,1040.3L928.8,1040.7L931.3,1041.1L933.7,1041.9L936.2,1041.9L938.6,1042.6L941.1,1043.2L943.5,1043.6L945.9,1043.7L948.2,1043.4L950.4,1043.7L952.6,1043.2L954.8,1043.3L957.0,1043.1L959.3,1043.3L961.5,1042.7L963.7,1042.8L965.9,1042.7L968.2,1042.4L970.4,1042.5" fill="none" stroke="#380d7f" stroke-width="2.4" stroke-linejoin="round" clip-path="url(#c3)"/>
<path d="M82.02,346.80V341.80M82.02,7.50V12.50" stroke="#000" stroke-width="2.1"/>
<path d="M126.55,346.80V341.80M126.55,7.50V12.50" stroke="#000" stroke-width="2.1"/>
<path d="M215.60,346.80V341.80M215.60,7.50V12.50" stroke="#000" stroke-width="2.1"/>
<path d="M260.12,346.80V341.80M260.12,7.50V12.50" stroke="#000" stroke-width="2.1"/>
<path d="M304.64,346.80V341.80M304.64,7.50V12.50" stroke="#000" stroke-width="2.1"/>
<path d="M393.69,346.80V341.80M393.69,7.50V12.50" stroke="#000" stroke-width="2.1"/>
<path d="M438.21,346.80V341.80M438.21,7.50V12.50" stroke="#000" stroke-width="2.1"/>
<path d="M482.74,346.80V341.80M482.74,7.50V12.50" stroke="#000" stroke-width="2.1"/>
<path d="M571.79,346.80V341.80M571.79,7.50V12.50" stroke="#000" stroke-width="2.1"/>
<path d="M616.31,346.80V341.80M616.31,7.50V12.50" stroke="#000" stroke-width="2.1"/>
<path d="M660.83,346.80V341.80M660.83,7.50V12.50" stroke="#000" stroke-width="2.1"/>
<path d="M749.88,346.80V341.80M749.88,7.50V12.50" stroke="#000" stroke-width="2.1"/>
<path d="M794.40,346.80V341.80M794.40,7.50V12.50" stroke="#000" stroke-width="2.1"/>
<path d="M838.93,346.80V341.80M838.93,7.50V12.50" stroke="#000" stroke-width="2.1"/>
<path d="M927.98,346.80V341.80M927.98,7.50V12.50" stroke="#000" stroke-width="2.1"/>
<path d="M171.07,346.80V335.00M171.07,7.50V19.30" stroke="#000" stroke-width="2.3"/>
<path d="M349.17,346.80V335.00M349.17,7.50V19.30" stroke="#000" stroke-width="2.3"/>
<path d="M527.26,346.80V335.00M527.26,7.50V19.30" stroke="#000" stroke-width="2.3"/>
<path d="M705.36,346.80V335.00M705.36,7.50V19.30" stroke="#000" stroke-width="2.3"/>
<path d="M883.45,346.80V335.00M883.45,7.50V19.30" stroke="#000" stroke-width="2.3"/>
<rect x="37.50" y="7.50" width="935.00" height="339.30" fill="none" stroke="#000" stroke-width="2.5"/>
<path d="M79.25,735.30V730.30M79.25,396.00V401.00" stroke="#000" stroke-width="2.1"/>
<path d="M161.34,735.30V730.30M161.34,396.00V401.00" stroke="#000" stroke-width="2.1"/>
<path d="M202.39,735.30V730.30M202.39,396.00V401.00" stroke="#000" stroke-width="2.1"/>
<path d="M243.44,735.30V730.30M243.44,396.00V401.00" stroke="#000" stroke-width="2.1"/>
<path d="M325.53,735.30V730.30M325.53,396.00V401.00" stroke="#000" stroke-width="2.1"/>
<path d="M366.58,735.30V730.30M366.58,396.00V401.00" stroke="#000" stroke-width="2.1"/>
<path d="M407.63,735.30V730.30M407.63,396.00V401.00" stroke="#000" stroke-width="2.1"/>
<path d="M489.72,735.30V730.30M489.72,396.00V401.00" stroke="#000" stroke-width="2.1"/>
<path d="M530.77,735.30V730.30M530.77,396.00V401.00" stroke="#000" stroke-width="2.1"/>
<path d="M571.82,735.30V730.30M571.82,396.00V401.00" stroke="#000" stroke-width="2.1"/>
<path d="M653.91,735.30V730.30M653.91,396.00V401.00" stroke="#000" stroke-width="2.1"/>
<path d="M694.96,735.30V730.30M694.96,396.00V401.00" stroke="#000" stroke-width="2.1"/>
<path d="M736.01,735.30V730.30M736.01,396.00V401.00" stroke="#000" stroke-width="2.1"/>
<path d="M818.10,735.30V730.30M818.10,396.00V401.00" stroke="#000" stroke-width="2.1"/>
<path d="M859.15,735.30V730.30M859.15,396.00V401.00" stroke="#000" stroke-width="2.1"/>
<path d="M120.30,735.30V723.50M120.30,396.00V407.80" stroke="#000" stroke-width="2.3"/>
<path d="M284.49,735.30V723.50M284.49,396.00V407.80" stroke="#000" stroke-width="2.3"/>
<path d="M448.68,735.30V723.50M448.68,396.00V407.80" stroke="#000" stroke-width="2.3"/>
<path d="M612.87,735.30V723.50M612.87,396.00V407.80" stroke="#000" stroke-width="2.3"/>
<path d="M777.06,735.30V723.50M777.06,396.00V407.80" stroke="#000" stroke-width="2.3"/>
<rect x="38.20" y="396.00" width="862.00" height="339.30" fill="none" stroke="#000" stroke-width="2.5"/>
<path d="M49.97,1123.40V1118.40M49.97,783.50V788.50" stroke="#000" stroke-width="2.1"/>
<path d="M74.90,1123.40V1118.40M74.90,783.50V788.50" stroke="#000" stroke-width="2.1"/>
<path d="M124.77,1123.40V1118.40M124.77,783.50V788.50" stroke="#000" stroke-width="2.1"/>
<path d="M149.70,1123.40V1118.40M149.70,783.50V788.50" stroke="#000" stroke-width="2.1"/>
<path d="M174.63,1123.40V1118.40M174.63,783.50V788.50" stroke="#000" stroke-width="2.1"/>
<path d="M199.57,1123.40V1118.40M199.57,783.50V788.50" stroke="#000" stroke-width="2.1"/>
<path d="M249.43,1123.40V1118.40M249.43,783.50V788.50" stroke="#000" stroke-width="2.1"/>
<path d="M274.37,1123.40V1118.40M274.37,783.50V788.50" stroke="#000" stroke-width="2.1"/>
<path d="M299.30,1123.40V1118.40M299.30,783.50V788.50" stroke="#000" stroke-width="2.1"/>
<path d="M324.23,1123.40V1118.40M324.23,783.50V788.50" stroke="#000" stroke-width="2.1"/>
<path d="M374.10,1123.40V1118.40M374.10,783.50V788.50" stroke="#000" stroke-width="2.1"/>
<path d="M399.03,1123.40V1118.40M399.03,783.50V788.50" stroke="#000" stroke-width="2.1"/>
<path d="M423.97,1123.40V1118.40M423.97,783.50V788.50" stroke="#000" stroke-width="2.1"/>
<path d="M448.90,1123.40V1118.40M448.90,783.50V788.50" stroke="#000" stroke-width="2.1"/>
<path d="M498.77,1123.40V1118.40M498.77,783.50V788.50" stroke="#000" stroke-width="2.1"/>
<path d="M523.70,1123.40V1118.40M523.70,783.50V788.50" stroke="#000" stroke-width="2.1"/>
<path d="M548.63,1123.40V1118.40M548.63,783.50V788.50" stroke="#000" stroke-width="2.1"/>
<path d="M573.57,1123.40V1118.40M573.57,783.50V788.50" stroke="#000" stroke-width="2.1"/>
<path d="M623.43,1123.40V1118.40M623.43,783.50V788.50" stroke="#000" stroke-width="2.1"/>
<path d="M648.37,1123.40V1118.40M648.37,783.50V788.50" stroke="#000" stroke-width="2.1"/>
<path d="M673.30,1123.40V1118.40M673.30,783.50V788.50" stroke="#000" stroke-width="2.1"/>
<path d="M698.23,1123.40V1118.40M698.23,783.50V788.50" stroke="#000" stroke-width="2.1"/>
<path d="M748.10,1123.40V1118.40M748.10,783.50V788.50" stroke="#000" stroke-width="2.1"/>
<path d="M773.03,1123.40V1118.40M773.03,783.50V788.50" stroke="#000" stroke-width="2.1"/>
<path d="M797.97,1123.40V1118.40M797.97,783.50V788.50" stroke="#000" stroke-width="2.1"/>
<path d="M822.90,1123.40V1118.40M822.90,783.50V788.50" stroke="#000" stroke-width="2.1"/>
<path d="M872.77,1123.40V1118.40M872.77,783.50V788.50" stroke="#000" stroke-width="2.1"/>
<path d="M897.70,1123.40V1118.40M897.70,783.50V788.50" stroke="#000" stroke-width="2.1"/>
<path d="M922.63,1123.40V1118.40M922.63,783.50V788.50" stroke="#000" stroke-width="2.1"/>
<path d="M947.57,1123.40V1118.40M947.57,783.50V788.50" stroke="#000" stroke-width="2.1"/>
<path d="M99.83,1123.40V1111.60M99.83,783.50V795.30" stroke="#000" stroke-width="2.3"/>
<path d="M224.50,1123.40V1111.60M224.50,783.50V795.30" stroke="#000" stroke-width="2.3"/>
<path d="M349.17,1123.40V1111.60M349.17,783.50V795.30" stroke="#000" stroke-width="2.3"/>
<path d="M473.83,1123.40V1111.60M473.83,783.50V795.30" stroke="#000" stroke-width="2.3"/>
<path d="M598.50,1123.40V1111.60M598.50,783.50V795.30" stroke="#000" stroke-width="2.3"/>
<path d="M723.17,1123.40V1111.60M723.17,783.50V795.30" stroke="#000" stroke-width="2.3"/>
<path d="M847.83,1123.40V1111.60M847.83,783.50V795.30" stroke="#000" stroke-width="2.3"/>
<path d="M972.50,1123.40V1111.60M972.50,783.50V795.30" stroke="#000" stroke-width="2.3"/>
<rect x="37.50" y="783.50" width="935.00" height="339.90" fill="none" stroke="#000" stroke-width="2.5"/>
<defs><linearGradient id="plasma" x1="0" y1="1" x2="0" y2="0"><stop offset="0.00" stop-color="#0e097e"/><stop offset="0.05" stop-color="#29078a"/><stop offset="0.10" stop-color="#3f0794"/><stop offset="0.15" stop-color="#53059a"/><stop offset="0.20" stop-color="#66049f"/><stop offset="0.25" stop-color="#79079f"/><stop offset="0.30" stop-color="#89119c"/><stop offset="0.35" stop-color="#9b1f95"/><stop offset="0.40" stop-color="#aa2e8c"/><stop offset="0.45" stop-color="#b83d82"/><stop offset="0.50" stop-color="#c54b78"/><stop offset="0.55" stop-color="#cf586e"/><stop offset="0.60" stop-color="#da6765"/><stop offset="0.65" stop-color="#e3775c"/><stop offset="0.70" stop-color="#eb8652"/><stop offset="0.75" stop-color="#f29748"/><stop offset="0.80" stop-color="#f6a740"/><stop offset="0.85" stop-color="#f9ba38"/><stop offset="0.90" stop-color="#f8ce32"/><stop offset="0.95" stop-color="#f4e333"/><stop offset="1.00" stop-color="#eff730"/></linearGradient></defs>
<rect x="931.2" y="395.4" width="20.4" height="339.6" fill="url(#plasma)" stroke="#000" stroke-width="2.5"/>
<path d="M951.6,735.00H940.6" stroke="#000" stroke-width="2.2"/>
<path d="M951.6,718.02H947.1" stroke="#000" stroke-width="2.2"/>
<path d="M951.6,701.04H947.1" stroke="#000" stroke-width="2.2"/>
<path d="M951.6,684.06H947.1" stroke="#000" stroke-width="2.2"/>
<path d="M951.6,667.08H947.1" stroke="#000" stroke-width="2.2"/>
<path d="M951.6,650.10H940.6" stroke="#000" stroke-width="2.2"/>
<path d="M951.6,633.12H947.1" stroke="#000" stroke-width="2.2"/>
<path d="M951.6,616.14H947.1" stroke="#000" stroke-width="2.2"/>
<path d="M951.6,599.16H947.1" stroke="#000" stroke-width="2.2"/>
<path d="M951.6,582.18H947.1" stroke="#000" stroke-width="2.2"/>
<path d="M951.6,565.20H940.6" stroke="#000" stroke-width="2.2"/>
<path d="M951.6,548.22H947.1" stroke="#000" stroke-width="2.2"/>
<path d="M951.6,531.24H947.1" stroke="#000" stroke-width="2.2"/>
<path d="M951.6,514.26H947.1" stroke="#000" stroke-width="2.2"/>
<path d="M951.6,497.28H947.1" stroke="#000" stroke-width="2.2"/>
<path d="M951.6,480.30H940.6" stroke="#000" stroke-width="2.2"/>
<path d="M951.6,463.32H947.1" stroke="#000" stroke-width="2.2"/>
<path d="M951.6,446.34H947.1" stroke="#000" stroke-width="2.2"/>
<path d="M951.6,429.36H947.1" stroke="#000" stroke-width="2.2"/>
<path d="M951.6,412.38H947.1" stroke="#000" stroke-width="2.2"/>
<path d="M951.6,395.40H940.6" stroke="#000" stroke-width="2.2"/>
<text x="53.29" y="79.60" fill="#8c8c8c" font-size="20.56" textLength="37.80" lengthAdjust="spacingAndGlyphs">He I</text>
<text x="117.61" y="61.40" fill="#555555" font-size="20.56" textLength="38.41" lengthAdjust="spacingAndGlyphs">O III</text>
<text x="131.49" y="43.30" fill="#8a8ab6" font-size="20.56" textLength="25.89" lengthAdjust="spacingAndGlyphs">H I</text>
<text x="202.63" y="61.40" fill="#80c07c" font-size="20.56" textLength="39.04" lengthAdjust="spacingAndGlyphs">N IV</text>
<text x="202.68" y="79.60" fill="#4878b0" font-size="20.56" textLength="36.75" lengthAdjust="spacingAndGlyphs">C III</text>
<text x="239.19" y="43.30" fill="#4a9a52" font-size="20.56" textLength="37.45" lengthAdjust="spacingAndGlyphs">N III</text>
<text x="248.79" y="79.60" fill="#8a8ab6" font-size="20.56" textLength="25.89" lengthAdjust="spacingAndGlyphs">H I</text>
<text x="327.53" y="61.40" fill="#b6b6d2" font-size="20.56" textLength="43.76" lengthAdjust="spacingAndGlyphs">He II</text>
<text x="461.89" y="43.30" fill="#8a8ab6" font-size="20.56" textLength="25.89" lengthAdjust="spacingAndGlyphs">H I</text>
<text x="614.91" y="79.60" fill="#555555" font-size="20.56" textLength="38.41" lengthAdjust="spacingAndGlyphs">O III</text>
<text x="633.61" y="61.40" fill="#555555" font-size="20.56" textLength="38.41" lengthAdjust="spacingAndGlyphs">O III</text>
<text x="717.49" y="43.30" fill="#4a9a52" font-size="20.56" textLength="37.45" lengthAdjust="spacingAndGlyphs">N III</text>
<text x="731.88" y="79.60" fill="#4878b0" font-size="20.56" textLength="36.75" lengthAdjust="spacingAndGlyphs">C III</text>
<text x="760.33" y="61.40" fill="#b6b6d2" font-size="20.56" textLength="43.76" lengthAdjust="spacingAndGlyphs">He II</text>
<text x="917.29" y="43.30" fill="#4a9a52" font-size="20.56" textLength="37.45" lengthAdjust="spacingAndGlyphs">N III</text>
<text x="925.19" y="61.40" fill="#8a8ab6" font-size="20.56" textLength="25.89" lengthAdjust="spacingAndGlyphs">H I</text>
<text x="915.23" y="79.60" fill="#b6b6d2" font-size="20.56" textLength="43.76" lengthAdjust="spacingAndGlyphs">He II</text>
<text x="106.51" y="417.00" fill="#555555" font-size="20.56" textLength="38.41" lengthAdjust="spacingAndGlyphs">O III</text>
<text x="436.63" y="463.70" fill="#b6b6d2" font-size="20.56" textLength="43.76" lengthAdjust="spacingAndGlyphs">He II</text>
<text x="587.21" y="440.20" fill="#555555" font-size="20.56" textLength="38.41" lengthAdjust="spacingAndGlyphs">O III</text>
<text x="673.38" y="417.00" fill="#4878b0" font-size="20.56" textLength="36.75" lengthAdjust="spacingAndGlyphs">C III</text>
<text x="758.71" y="463.70" fill="#74a0c4" font-size="20.56" textLength="38.39" lengthAdjust="spacingAndGlyphs">C IV</text>
<text x="767.26" y="440.20" fill="#74a0c4" font-size="20.56" textLength="38.39" lengthAdjust="spacingAndGlyphs">C IV</text>
<text x="152.73" y="816.30" fill="#b6b6d2" font-size="20.56" textLength="43.76" lengthAdjust="spacingAndGlyphs">He II</text>
<text x="165.19" y="848.00" fill="#8a8ab6" font-size="20.56" textLength="25.89" lengthAdjust="spacingAndGlyphs">H I</text>
<text x="303.19" y="832.00" fill="#8c8c8c" font-size="20.56" textLength="37.80" lengthAdjust="spacingAndGlyphs">He I</text>
<text x="751.68" y="816.30" fill="#4878b0" font-size="20.56" textLength="36.75" lengthAdjust="spacingAndGlyphs">C III</text>
<text x="785.99" y="848.00" fill="#8c8c8c" font-size="20.56" textLength="37.80" lengthAdjust="spacingAndGlyphs">He I</text>
<text x="839.63" y="832.00" fill="#80c07c" font-size="20.56" textLength="39.04" lengthAdjust="spacingAndGlyphs">N IV</text>
<text x="841.01" y="816.30" fill="#74a0c4" font-size="20.56" textLength="38.39" lengthAdjust="spacingAndGlyphs">C IV</text>
<text x="146.97" y="380.60" fill="#000" font-size="20.56" textLength="48.43" lengthAdjust="spacingAndGlyphs">4000</text>
<text x="325.07" y="380.60" fill="#000" font-size="20.56" textLength="48.43" lengthAdjust="spacingAndGlyphs">4200</text>
<text x="503.16" y="380.60" fill="#000" font-size="20.56" textLength="48.43" lengthAdjust="spacingAndGlyphs">4400</text>
<text x="681.26" y="380.60" fill="#000" font-size="20.56" textLength="48.43" lengthAdjust="spacingAndGlyphs">4600</text>
<text x="859.35" y="380.60" fill="#000" font-size="20.56" textLength="48.43" lengthAdjust="spacingAndGlyphs">4800</text>
<text x="96.21" y="768.80" fill="#000" font-size="20.56" textLength="48.13" lengthAdjust="spacingAndGlyphs">5000</text>
<text x="260.40" y="768.80" fill="#000" font-size="20.56" textLength="48.13" lengthAdjust="spacingAndGlyphs">5200</text>
<text x="424.59" y="768.80" fill="#000" font-size="20.56" textLength="48.13" lengthAdjust="spacingAndGlyphs">5400</text>
<text x="588.78" y="768.80" fill="#000" font-size="20.56" textLength="48.13" lengthAdjust="spacingAndGlyphs">5600</text>
<text x="752.97" y="768.80" fill="#000" font-size="20.56" textLength="48.13" lengthAdjust="spacingAndGlyphs">5800</text>
<text x="75.41" y="1156.80" fill="#000" font-size="20.56" textLength="48.55" lengthAdjust="spacingAndGlyphs">6500</text>
<text x="200.07" y="1156.80" fill="#000" font-size="20.56" textLength="48.55" lengthAdjust="spacingAndGlyphs">6600</text>
<text x="324.74" y="1156.80" fill="#000" font-size="20.56" textLength="48.55" lengthAdjust="spacingAndGlyphs">6700</text>
<text x="449.41" y="1156.80" fill="#000" font-size="20.56" textLength="48.55" lengthAdjust="spacingAndGlyphs">6800</text>
<text x="574.07" y="1156.80" fill="#000" font-size="20.56" textLength="48.55" lengthAdjust="spacingAndGlyphs">6900</text>
<text x="698.86" y="1156.80" fill="#000" font-size="20.56" textLength="48.31" lengthAdjust="spacingAndGlyphs">7000</text>
<text x="823.53" y="1156.80" fill="#000" font-size="20.56" textLength="48.31" lengthAdjust="spacingAndGlyphs">7100</text>
<text x="948.20" y="1156.80" fill="#000" font-size="20.56" textLength="48.31" lengthAdjust="spacingAndGlyphs">7200</text>
<text x="963.96" y="742.20" fill="#000" font-size="20.56" textLength="29.87" lengthAdjust="spacingAndGlyphs">1.0</text>
<text x="963.99" y="657.30" fill="#000" font-size="20.56" textLength="29.42" lengthAdjust="spacingAndGlyphs">1.5</text>
<text x="963.77" y="572.40" fill="#000" font-size="20.56" textLength="30.07" lengthAdjust="spacingAndGlyphs">2.0</text>
<text x="963.78" y="487.50" fill="#000" font-size="20.56" textLength="29.63" lengthAdjust="spacingAndGlyphs">2.5</text>
<text x="964.10" y="402.60" fill="#000" font-size="20.56" textLength="29.73" lengthAdjust="spacingAndGlyphs">3.0</text>
<text x="973.08" y="565.70" fill="#000" font-size="20.56" textLength="90.23" lengthAdjust="spacingAndGlyphs" transform="rotate(-90 1018.40 565.70)">Phase (d)</text>
<text x="393.15" y="1190.80" fill="#000" font-size="23.0" textLength="223.17" lengthAdjust="spacingAndGlyphs">Rest Wavelength (Å)</text>
<text x="-104.31" y="564.38" fill="#000" font-size="23.0" textLength="253.33" lengthAdjust="spacingAndGlyphs" transform="rotate(-90 23.20 564.38)">Normalized Flux+offset</text>
<text x="822.54" y="531.20" fill="#320d6d" font-size="20.56" textLength="54.45" lengthAdjust="spacingAndGlyphs">1.18d</text>
<text x="822.54" y="548.12" fill="#4c0d76" font-size="20.56" textLength="54.45" lengthAdjust="spacingAndGlyphs">1.36d</text>
<text x="822.54" y="565.04" fill="#651579" font-size="20.56" textLength="54.45" lengthAdjust="spacingAndGlyphs">1.54d</text>
<text x="822.54" y="581.96" fill="#772479" font-size="20.56" textLength="54.45" lengthAdjust="spacingAndGlyphs">1.67d</text>
<text x="822.36" y="598.88" fill="#ac5c66" font-size="20.56" textLength="54.63" lengthAdjust="spacingAndGlyphs">2.13d</text>
<text x="822.36" y="615.80" fill="#b86c60" font-size="20.56" textLength="54.63" lengthAdjust="spacingAndGlyphs">2.26d</text>
<text x="822.36" y="632.72" fill="#c58259" font-size="20.56" textLength="54.63" lengthAdjust="spacingAndGlyphs">2.43d</text>
<text x="822.36" y="649.64" fill="#ca8b56" font-size="20.56" textLength="54.63" lengthAdjust="spacingAndGlyphs">2.50d</text>
<text x="822.36" y="666.56" fill="#cb8f55" font-size="20.56" textLength="54.63" lengthAdjust="spacingAndGlyphs">2.53d</text>
<text x="822.36" y="683.48" fill="#d1a250" font-size="20.56" textLength="54.63" lengthAdjust="spacingAndGlyphs">2.66d</text>
<text x="822.36" y="700.40" fill="#d4b24e" font-size="20.56" textLength="54.63" lengthAdjust="spacingAndGlyphs">2.76d</text>
</svg></body></html>
